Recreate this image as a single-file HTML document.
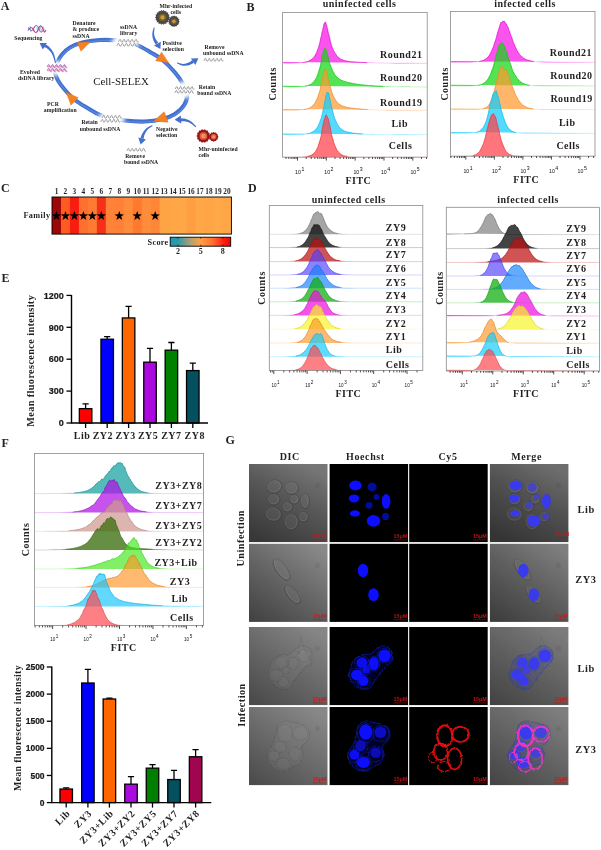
<!DOCTYPE html>
<html><head><meta charset="utf-8"><title>Figure</title>
<style>
html,body{margin:0;padding:0;background:#fff;}
body{width:601px;height:850px;overflow:hidden;font-family:"Liberation Serif",serif;}
svg{display:block;will-change:transform;}
.f-serif{font-family:"Liberation Serif",serif;}
.f-sans{font-family:"Liberation Sans",sans-serif;}
</style></head><body>
<svg width="601" height="850" viewBox="0 0 601 850">
<text class="f-serif" x="0.80" y="10.00" font-size="12" font-weight="bold" text-anchor="start" fill="#231f20">A</text>
<text class="f-serif" x="246.50" y="10.50" font-size="12" font-weight="bold" text-anchor="start" fill="#231f20">B</text>
<text class="f-serif" x="1.00" y="192.00" font-size="12" font-weight="bold" text-anchor="start" fill="#231f20">C</text>
<text class="f-serif" x="248.00" y="191.70" font-size="12" font-weight="bold" text-anchor="start" fill="#231f20">D</text>
<text class="f-serif" x="1.60" y="281.70" font-size="12" font-weight="bold" text-anchor="start" fill="#231f20">E</text>
<text class="f-serif" x="1.60" y="446.70" font-size="12" font-weight="bold" text-anchor="start" fill="#231f20">F</text>
<text class="f-serif" x="225.50" y="443.60" font-size="12" font-weight="bold" text-anchor="start" fill="#231f20">G</text>
<clipPath id="clip282"><rect x="282.6" y="12.5" width="144.59999999999997" height="145.1"/></clipPath>
<g clip-path="url(#clip282)">
<polyline points="282.6,62.1 283.1,62.5 283.6,63.3 290.1,63.2 296.6,63.1 303.1,62.6 307.1,61.7 308.6,61.2 310.6,60.1 312.6,58.5 313.1,57.9 313.6,57.5 314.6,56.3 316.6,52.7 318.1,48.6 318.6,47.4 319.6,43.8 321.1,36.9 321.6,35.3 322.1,32.1 322.6,30.5 324.1,23.4 324.6,23.3 325.1,22.2 325.6,22.1 326.1,24.1 326.6,25.2 328.1,32.3 329.6,37.5 330.1,40.4 331.6,46.0 332.1,47.3 333.1,49.4 333.6,50.8 334.1,51.5 334.6,52.7 335.6,54.0 337.1,56.3 340.1,58.8 341.6,59.5 342.1,59.8 345.6,60.9 350.6,61.7 357.1,62.2 363.6,62.5 370.1,62.7 376.6,62.9 383.1,63.0 389.6,63.1 396.1,63.2 402.6,63.2 409.1,63.2 415.6,63.3 422.1,63.3 427.1,63.3" fill="#fa10e6" fill-opacity="0.72" stroke="#fa10e6" stroke-width="0.5" stroke-opacity="0.45" stroke-linejoin="round"/>
<polyline points="302.6,62.7 307.1,61.7 308.6,61.2 310.6,60.1 312.6,58.5 313.1,57.9 313.6,57.5 314.6,56.3 316.6,52.7 318.1,48.6 318.6,47.4 319.6,43.8 321.1,36.9 321.6,35.3 322.1,32.1 322.6,30.5 324.1,23.4 324.6,23.3 325.1,22.2 325.6,22.1 326.1,24.1 326.6,25.2 328.1,32.3 329.6,37.5 330.1,40.4 331.6,46.0 332.1,47.3 333.1,49.4 333.6,50.8 334.1,51.5 334.6,52.7 335.6,54.0 337.1,56.3 340.1,58.8 341.6,59.5 342.1,59.8 345.6,60.9 350.6,61.7 357.1,62.2 363.6,62.5 367.1,62.6" fill="none" stroke="#e60ed3" stroke-width="0.7" stroke-opacity="0.95" stroke-linejoin="round"/>
<polyline points="282.6,85.8 283.1,86.2 283.6,87.0 290.1,87.0 296.6,86.9 303.1,86.5 307.6,85.7 310.6,84.5 312.6,83.0 314.1,81.4 316.6,77.5 317.1,76.0 317.6,75.1 318.1,73.8 319.1,70.1 319.6,68.8 320.6,65.2 321.1,62.0 321.6,60.1 322.6,54.2 323.1,52.9 323.6,51.3 324.1,50.1 324.6,48.4 325.1,49.1 325.6,48.7 326.1,50.3 326.6,51.5 327.1,54.1 327.6,55.3 328.1,56.8 329.1,61.8 330.1,64.5 330.6,65.5 331.1,67.4 331.6,68.3 332.6,70.9 333.6,72.3 334.6,74.4 335.6,75.6 336.1,76.4 337.1,77.1 338.6,78.6 339.1,79.0 339.6,79.1 340.6,79.9 341.1,80.2 341.6,80.3 342.1,80.6 342.6,80.6 343.1,81.0 344.1,81.4 345.1,81.5 345.6,81.8 346.1,81.9 348.1,82.6 352.1,83.3 353.1,83.7 353.6,83.7 354.1,83.8 354.6,83.8 355.6,84.0 362.1,84.9 368.6,85.5 375.1,86.0 381.6,86.3 388.1,86.5 394.6,86.7 401.1,86.8 407.6,86.8 414.1,86.9 420.6,86.9 427.1,87.0" fill="#14d814" fill-opacity="0.72" stroke="#14d814" stroke-width="0.5" stroke-opacity="0.45" stroke-linejoin="round"/>
<polyline points="304.6,86.3 307.6,85.7 310.6,84.5 312.6,83.0 314.1,81.4 316.6,77.5 317.1,76.0 317.6,75.1 318.1,73.8 319.1,70.1 319.6,68.8 320.6,65.2 321.1,62.0 321.6,60.1 322.6,54.2 323.1,52.9 323.6,51.3 324.1,50.1 324.6,48.4 325.1,49.1 325.6,48.7 326.1,50.3 326.6,51.5 327.1,54.1 327.6,55.3 328.1,56.8 329.1,61.8 330.1,64.5 330.6,65.5 331.1,67.4 331.6,68.3 332.6,70.9 333.6,72.3 334.6,74.4 335.6,75.6 336.1,76.4 337.1,77.1 338.6,78.6 339.1,79.0 339.6,79.1 340.6,79.9 341.1,80.2 341.6,80.3 342.1,80.6 342.6,80.6 343.1,81.0 344.1,81.4 345.1,81.5 345.6,81.8 346.1,81.9 348.1,82.6 352.1,83.3 353.1,83.7 353.6,83.7 354.1,83.8 354.6,83.8 355.6,84.0 362.1,84.9 368.6,85.5 375.1,86.0 381.6,86.3 383.1,86.3" fill="none" stroke="#12c612" stroke-width="0.7" stroke-opacity="0.95" stroke-linejoin="round"/>
<polyline points="282.6,109.1 283.1,109.5 283.6,110.3 290.1,110.3 296.6,110.2 303.1,109.7 307.6,108.8 309.6,108.0 311.6,106.7 313.1,105.5 314.1,104.1 314.6,103.6 315.1,102.8 316.1,100.7 316.6,100.0 317.6,97.7 318.1,96.3 318.6,94.5 319.6,91.7 320.1,89.8 321.1,84.8 321.6,81.8 322.1,80.1 322.6,77.3 323.1,75.1 323.6,72.3 324.6,69.5 325.1,68.8 325.6,69.0 326.1,70.1 326.6,73.0 327.1,74.4 328.1,79.4 328.6,81.0 329.1,83.2 331.1,89.6 331.6,91.8 333.1,95.7 335.6,100.2 336.6,101.4 337.1,102.3 338.6,103.8 339.6,104.5 340.1,104.6 341.1,105.4 342.1,105.9 343.6,106.3 344.1,106.6 344.6,106.7 345.6,107.1 350.1,108.0 356.6,108.7 363.1,109.3 369.6,109.7 376.1,109.9 382.6,110.1 389.1,110.2 395.6,110.2 402.1,110.3 408.6,110.3 415.1,110.3 421.6,110.3 427.1,110.3" fill="#ff9a30" fill-opacity="0.72" stroke="#ff9a30" stroke-width="0.5" stroke-opacity="0.45" stroke-linejoin="round"/>
<polyline points="303.6,109.7 307.6,108.8 309.6,108.0 311.6,106.7 313.1,105.5 314.1,104.1 314.6,103.6 315.1,102.8 316.1,100.7 316.6,100.0 317.6,97.7 318.1,96.3 318.6,94.5 319.6,91.7 320.1,89.8 321.1,84.8 321.6,81.8 322.1,80.1 322.6,77.3 323.1,75.1 323.6,72.3 324.6,69.5 325.1,68.8 325.6,69.0 326.1,70.1 326.6,73.0 327.1,74.4 328.1,79.4 328.6,81.0 329.1,83.2 331.1,89.6 331.6,91.8 333.1,95.7 335.6,100.2 336.6,101.4 337.1,102.3 338.6,103.8 339.6,104.5 340.1,104.6 341.1,105.4 342.1,105.9 343.6,106.3 344.1,106.6 344.6,106.7 345.6,107.1 350.1,108.0 356.6,108.7 363.1,109.3 367.6,109.6" fill="none" stroke="#ea8d2c" stroke-width="0.7" stroke-opacity="0.95" stroke-linejoin="round"/>
<polyline points="282.6,133.5 283.1,133.9 283.6,134.7 290.1,134.7 296.6,134.6 303.1,134.4 309.6,133.4 313.1,131.7 314.6,130.7 316.1,129.1 317.6,126.9 318.6,125.1 319.6,122.7 320.6,119.7 321.1,118.5 321.6,117.0 322.6,112.9 323.1,110.3 323.6,108.3 324.6,102.4 325.1,100.6 325.6,97.4 326.6,93.5 327.1,92.2 328.1,92.8 328.6,92.8 329.1,95.6 330.1,99.9 331.1,105.1 331.6,106.5 332.1,109.1 333.6,115.0 334.6,118.3 336.1,121.4 336.6,122.9 337.1,123.6 337.6,124.7 339.6,127.7 340.1,128.2 340.6,128.5 342.1,129.7 344.6,131.2 345.6,131.5 346.1,131.8 352.6,133.1 359.1,133.8 365.6,134.1 372.1,134.3 378.6,134.5 385.1,134.6 391.6,134.6 398.1,134.7 404.6,134.7 411.1,134.7 417.6,134.7 424.1,134.7 427.1,134.7" fill="#10ccff" fill-opacity="0.72" stroke="#10ccff" stroke-width="0.5" stroke-opacity="0.45" stroke-linejoin="round"/>
<polyline points="306.6,134.0 310.1,133.2 313.1,131.7 314.6,130.7 316.1,129.1 317.6,126.9 318.6,125.1 319.6,122.7 320.6,119.7 321.1,118.5 321.6,117.0 322.6,112.9 323.1,110.3 323.6,108.3 324.6,102.4 325.1,100.6 325.6,97.4 326.6,93.5 327.1,92.2 328.1,92.8 328.6,92.8 329.1,95.6 330.1,99.9 331.1,105.1 331.6,106.5 332.1,109.1 333.6,115.0 334.6,118.3 336.1,121.4 336.6,122.9 337.1,123.6 337.6,124.7 339.6,127.7 340.1,128.2 340.6,128.5 342.1,129.7 344.6,131.2 345.6,131.5 346.1,131.8 352.6,133.1 359.1,133.8 362.6,134.0" fill="none" stroke="#0ebbea" stroke-width="0.7" stroke-opacity="0.95" stroke-linejoin="round"/>
<polyline points="282.6,157.2 289.1,157.2 295.6,157.2 302.1,157.0 307.1,156.5 310.6,155.6 311.6,155.1 314.1,153.2 315.6,151.4 316.1,150.6 317.1,148.5 317.6,147.7 318.1,146.5 319.6,141.5 320.1,140.1 321.1,136.5 322.1,130.1 323.1,124.6 324.6,118.4 325.1,117.3 325.6,115.5 326.1,115.1 326.6,115.4 327.6,117.7 328.1,118.4 329.6,124.4 331.1,132.5 331.6,134.4 332.1,137.1 333.1,140.0 333.6,142.2 334.6,145.1 336.6,149.4 337.1,150.3 338.6,152.3 341.1,154.5 343.6,155.7 350.1,156.9 356.6,157.1 363.1,157.2 369.6,157.2 376.1,157.2 382.6,157.2 389.1,157.2 395.6,157.2 402.1,157.2 408.6,157.2 415.1,157.2 421.6,157.2 427.1,157.2" fill="#ff4048" fill-opacity="0.72" stroke="#ff4048" stroke-width="0.5" stroke-opacity="0.45" stroke-linejoin="round"/>
<polyline points="307.1,156.5 310.6,155.6 311.6,155.1 314.1,153.2 315.6,151.4 316.1,150.6 317.1,148.5 317.6,147.7 318.1,146.5 319.6,141.5 320.1,140.1 321.1,136.5 322.1,130.1 323.1,124.6 324.6,118.4 325.1,117.3 325.6,115.5 326.1,115.1 326.6,115.4 327.6,117.7 328.1,118.4 329.6,124.4 331.1,132.5 331.6,134.4 332.1,137.1 333.1,140.0 333.6,142.2 334.6,145.1 336.6,149.4 337.1,150.3 338.6,152.3 341.1,154.5 343.6,155.7 347.1,156.5" fill="none" stroke="#ea3a42" stroke-width="0.7" stroke-opacity="0.95" stroke-linejoin="round"/>
</g>
<rect x="282.60" y="12.50" width="144.60" height="144.70" fill="none" stroke="#8a8a8a" stroke-width="0.8"/>
<path d="M286.03,157.20v1.8 M288.82,157.20v1.8 M291.11,157.20v1.8 M293.03,157.20v1.8 M294.71,157.20v1.8 M296.18,157.20v1.8 M297.50,157.20v3.4 M306.18,157.20v1.8 M311.25,157.20v1.8 M314.85,157.20v1.8 M317.65,157.20v1.8 M319.93,157.20v1.8 M321.86,157.20v1.8 M323.53,157.20v1.8 M325.01,157.20v1.8 M326.32,157.20v3.4 M335.00,157.20v1.8 M340.08,157.20v1.8 M343.68,157.20v1.8 M346.47,157.20v1.8 M348.76,157.20v1.8 M350.68,157.20v1.8 M352.36,157.20v1.8 M353.83,157.20v1.8 M355.15,157.20v3.4 M363.83,157.20v1.8 M368.90,157.20v1.8 M372.50,157.20v1.8 M375.30,157.20v1.8 M377.58,157.20v1.8 M379.51,157.20v1.8 M381.18,157.20v1.8 M382.66,157.20v1.8 M383.98,157.20v3.4 M392.65,157.20v1.8 M397.73,157.20v1.8 M401.33,157.20v1.8 M404.12,157.20v1.8 M406.41,157.20v1.8 M408.33,157.20v1.8 M410.01,157.20v1.8 M411.48,157.20v1.8 M412.80,157.20v3.4 M421.48,157.20v1.8 M426.55,157.20v1.8" stroke="#111" stroke-width="0.75" fill="none"/>
<text class="f-sans" x="295.10" y="173.60" font-size="5.2" fill="#111">10<tspan dy="-3.0" dx="0.5" font-size="5.2">1</tspan></text>
<text class="f-sans" x="324.30" y="173.60" font-size="5.2" fill="#111">10<tspan dy="-3.0" dx="0.5" font-size="5.2">2</tspan></text>
<text class="f-sans" x="353.40" y="173.60" font-size="5.2" fill="#111">10<tspan dy="-3.0" dx="0.5" font-size="5.2">3</tspan></text>
<text class="f-sans" x="380.90" y="173.60" font-size="5.2" fill="#111">10<tspan dy="-3.0" dx="0.5" font-size="5.2">4</tspan></text>
<text class="f-sans" x="410.40" y="173.60" font-size="5.2" fill="#111">10<tspan dy="-3.0" dx="0.5" font-size="5.2">5</tspan></text>
<text class="f-serif" x="359.60" y="7.00" font-size="10" font-weight="bold" text-anchor="middle" fill="#231f20" letter-spacing="0.5">uninfected cells</text>
<text class="f-serif" x="401.20" y="57.60" font-size="10" font-weight="bold" text-anchor="middle" fill="#231f20" letter-spacing="0.5">Round21</text>
<text class="f-serif" x="401.20" y="80.90" font-size="10" font-weight="bold" text-anchor="middle" fill="#231f20" letter-spacing="0.5">Round20</text>
<text class="f-serif" x="401.20" y="105.70" font-size="10" font-weight="bold" text-anchor="middle" fill="#231f20" letter-spacing="0.5">Round19</text>
<text class="f-serif" x="399.70" y="126.80" font-size="10" font-weight="bold" text-anchor="middle" fill="#231f20" letter-spacing="0.5">Lib</text>
<text class="f-serif" x="400.50" y="149.10" font-size="10" font-weight="bold" text-anchor="middle" fill="#231f20" letter-spacing="0.5">Cells</text>
<text class="f-serif" x="276.30" y="83.80" font-size="10" font-weight="bold" text-anchor="middle" fill="#231f20" letter-spacing="0.5" transform="rotate(-90 276.30 83.80)">Counts</text>
<text class="f-serif" x="358.40" y="183.50" font-size="10" font-weight="bold" text-anchor="middle" fill="#231f20" letter-spacing="0.5">FITC</text>
<clipPath id="clip450"><rect x="450.5" y="11.4" width="144.5" height="145.2"/></clipPath>
<g clip-path="url(#clip450)">
<polyline points="450.5,61.1 451.0,61.5 451.5,62.3 458.0,62.3 464.5,62.3 471.0,62.2 477.5,61.8 480.5,61.3 483.0,60.5 484.0,60.1 486.0,58.9 487.0,57.9 488.0,57.1 489.5,55.1 490.5,53.2 491.0,52.1 491.5,51.4 493.0,47.6 493.5,46.6 494.5,43.2 495.0,42.0 496.0,38.9 498.5,29.7 499.0,28.6 500.5,23.6 501.0,22.3 501.5,22.6 502.0,22.6 503.0,20.9 503.5,21.5 504.0,21.8 504.5,21.2 505.5,23.8 506.0,23.6 506.5,24.0 507.0,26.2 507.5,26.4 508.0,27.1 509.0,30.8 509.5,31.2 510.0,32.8 510.5,34.9 511.5,36.8 513.0,41.7 513.5,43.0 514.5,44.9 515.0,46.4 516.5,49.3 517.0,50.5 518.0,52.2 519.0,53.5 519.5,54.4 521.0,55.9 521.5,56.5 522.5,57.2 524.0,58.5 527.0,60.0 533.0,61.5 539.5,62.1 546.0,62.2 552.5,62.3 559.0,62.3 565.5,62.3 572.0,62.3 578.5,62.3 585.0,62.3 591.5,62.3 595.0,62.3" fill="#fa10e6" fill-opacity="0.72" stroke="#fa10e6" stroke-width="0.5" stroke-opacity="0.45" stroke-linejoin="round"/>
<polyline points="479.0,61.6 483.0,60.5 484.0,60.1 486.0,58.9 487.0,57.9 488.0,57.1 489.5,55.1 490.5,53.2 491.0,52.1 491.5,51.4 493.0,47.6 493.5,46.6 494.5,43.2 495.0,42.0 496.0,38.9 498.5,29.7 499.0,28.6 500.5,23.6 501.0,22.3 501.5,22.6 502.0,22.6 503.0,20.9 503.5,21.5 504.0,21.8 504.5,21.2 505.5,23.8 506.0,23.6 506.5,24.0 507.0,26.2 507.5,26.4 508.0,27.1 509.0,30.8 509.5,31.2 510.0,32.8 510.5,34.9 511.5,36.8 513.0,41.7 513.5,43.0 514.5,44.9 515.0,46.4 516.5,49.3 517.0,50.5 518.0,52.2 519.0,53.5 519.5,54.4 521.0,55.9 521.5,56.5 522.5,57.2 524.0,58.5 527.0,60.0 533.0,61.5 534.0,61.7" fill="none" stroke="#e60ed3" stroke-width="0.7" stroke-opacity="0.95" stroke-linejoin="round"/>
<polyline points="450.5,84.8 451.0,85.2 451.5,86.0 458.0,86.0 464.5,86.0 471.0,85.9 477.5,85.4 481.5,84.5 484.0,83.2 487.0,80.5 488.5,78.3 490.5,74.3 493.0,67.5 493.5,65.9 494.5,61.9 495.0,60.5 495.5,57.7 496.0,56.6 496.5,53.8 497.5,51.2 498.0,49.6 499.0,45.1 499.5,44.9 500.0,43.9 500.5,43.6 501.0,43.6 501.5,43.0 502.0,42.6 502.5,42.8 503.0,44.6 503.5,45.6 504.0,45.3 504.5,47.3 506.0,50.6 506.5,51.4 508.0,56.7 508.5,58.9 509.0,60.0 510.5,64.3 511.0,65.4 512.0,68.9 513.0,71.4 514.5,74.3 515.0,74.8 517.0,78.2 518.0,79.4 518.5,79.8 520.0,81.6 521.0,82.2 522.0,82.9 525.0,84.3 527.5,85.0 534.0,85.7 540.5,85.9 547.0,86.0 553.5,86.0 560.0,86.0 566.5,86.0 573.0,86.0 579.5,86.0 586.0,86.0 592.5,86.0 595.0,86.0" fill="#14d814" fill-opacity="0.72" stroke="#14d814" stroke-width="0.5" stroke-opacity="0.45" stroke-linejoin="round"/>
<polyline points="478.0,85.4 481.5,84.5 484.0,83.2 487.0,80.5 488.5,78.3 490.5,74.3 493.0,67.5 493.5,65.9 494.5,61.9 495.0,60.5 495.5,57.7 496.0,56.6 496.5,53.8 497.5,51.2 498.0,49.6 499.0,45.1 499.5,44.9 500.0,43.9 500.5,43.6 501.0,43.6 501.5,43.0 502.0,42.6 502.5,42.8 503.0,44.6 503.5,45.6 504.0,45.3 504.5,47.3 506.0,50.6 506.5,51.4 508.0,56.7 508.5,58.9 509.0,60.0 510.5,64.3 511.0,65.4 512.0,68.9 513.0,71.4 514.5,74.3 515.0,74.8 517.0,78.2 518.0,79.4 518.5,79.8 520.0,81.6 521.0,82.2 522.0,82.9 525.0,84.3 527.5,85.0 529.5,85.3" fill="none" stroke="#12c612" stroke-width="0.7" stroke-opacity="0.95" stroke-linejoin="round"/>
<polyline points="450.5,108.4 451.0,108.8 451.5,109.6 458.0,109.6 464.5,109.6 471.0,109.6 477.5,109.5 483.0,108.9 485.0,108.3 487.0,107.0 489.0,104.8 490.5,102.4 492.5,97.5 493.5,93.8 494.0,92.4 498.0,75.5 499.0,72.3 499.5,69.8 500.0,68.3 500.5,67.8 501.0,67.2 501.5,66.0 502.0,67.0 502.5,66.9 503.0,67.3 503.5,68.4 504.5,69.7 505.0,69.4 505.5,70.1 506.5,70.0 507.0,70.9 508.0,74.3 509.0,76.0 510.0,80.5 510.5,82.2 511.0,82.8 512.5,87.2 513.0,88.3 513.5,89.9 514.0,90.8 514.5,92.3 515.0,93.5 515.5,94.4 516.0,95.8 516.5,96.5 518.0,99.6 518.5,100.0 519.5,101.7 520.5,103.0 522.5,104.9 524.5,106.2 526.0,107.1 528.0,107.9 534.5,109.1 541.0,109.5 547.5,109.6 554.0,109.6 560.5,109.6 567.0,109.6 573.5,109.6 580.0,109.6 586.5,109.6 593.0,109.6 595.0,109.6" fill="#ff9a30" fill-opacity="0.72" stroke="#ff9a30" stroke-width="0.5" stroke-opacity="0.45" stroke-linejoin="round"/>
<polyline points="482.5,109.0 485.0,108.3 487.0,107.0 489.0,104.8 490.5,102.4 492.5,97.5 493.5,93.8 494.0,92.4 498.0,75.5 499.0,72.3 499.5,69.8 500.0,68.3 500.5,67.8 501.0,67.2 501.5,66.0 502.0,67.0 502.5,66.9 503.0,67.3 503.5,68.4 504.5,69.7 505.0,69.4 505.5,70.1 506.5,70.0 507.0,70.9 508.0,74.3 509.0,76.0 510.0,80.5 510.5,82.2 511.0,82.8 512.5,87.2 513.0,88.3 513.5,89.9 514.0,90.8 514.5,92.3 515.0,93.5 515.5,94.4 516.0,95.8 516.5,96.5 518.0,99.6 518.5,100.0 519.5,101.7 520.5,103.0 522.5,104.9 524.5,106.2 526.0,107.1 528.0,107.9 533.0,109.0" fill="none" stroke="#ea8d2c" stroke-width="0.7" stroke-opacity="0.95" stroke-linejoin="round"/>
<polyline points="450.5,132.1 451.0,132.5 451.5,133.3 458.0,133.3 464.5,133.3 471.0,133.1 475.5,132.6 477.5,132.1 479.5,131.2 481.0,130.0 483.0,127.7 484.0,126.1 485.5,122.9 486.5,120.3 488.0,114.8 490.0,105.5 491.0,101.4 491.5,100.0 492.5,95.8 493.0,94.2 493.5,93.0 494.0,92.4 495.5,91.5 496.0,90.7 496.5,91.0 497.0,93.6 497.5,95.1 498.0,95.9 499.0,100.4 500.0,104.0 501.0,109.2 503.5,117.6 506.0,124.2 507.0,126.1 508.0,127.6 510.0,130.0 512.5,131.5 515.5,132.5 522.0,133.2 528.5,133.3 535.0,133.3 541.5,133.3 548.0,133.3 554.5,133.3 561.0,133.3 567.5,133.3 574.0,133.3 580.5,133.3 587.0,133.3 593.5,133.3 595.0,133.3" fill="#10ccff" fill-opacity="0.72" stroke="#10ccff" stroke-width="0.5" stroke-opacity="0.45" stroke-linejoin="round"/>
<polyline points="475.5,132.6 477.5,132.1 479.5,131.2 481.0,130.0 483.0,127.7 484.0,126.1 485.5,122.9 486.5,120.3 488.0,114.8 490.0,105.5 491.0,101.4 491.5,100.0 492.5,95.8 493.0,94.2 493.5,93.0 494.0,92.4 495.5,91.5 496.0,90.7 496.5,91.0 497.0,93.6 497.5,95.1 498.0,95.9 499.0,100.4 500.0,104.0 501.0,109.2 503.5,117.6 506.0,124.2 507.0,126.1 508.0,127.6 510.0,130.0 512.5,131.5 515.5,132.5 516.5,132.7" fill="none" stroke="#0ebbea" stroke-width="0.7" stroke-opacity="0.95" stroke-linejoin="round"/>
<polyline points="450.5,156.2 457.0,156.2 463.5,156.2 470.0,156.0 473.5,155.5 475.5,154.8 477.0,153.9 478.0,153.2 479.5,151.6 480.5,150.0 482.0,146.9 483.5,143.4 485.0,138.8 486.0,134.3 486.5,132.6 487.0,129.9 487.5,127.9 488.0,126.4 489.0,122.2 489.5,120.8 490.0,118.7 490.5,118.4 491.0,116.4 492.0,114.3 492.5,114.7 493.0,114.3 493.5,113.5 494.0,114.4 494.5,115.8 495.0,116.0 496.0,118.5 496.5,121.4 497.5,125.0 498.0,127.3 499.0,130.6 499.5,133.4 501.0,139.6 501.5,140.9 502.0,142.6 504.5,148.8 506.0,151.4 507.5,153.0 509.5,154.5 512.5,155.6 519.0,156.1 525.5,156.2 532.0,156.2 538.5,156.2 545.0,156.2 551.5,156.2 558.0,156.2 564.5,156.2 571.0,156.2 577.5,156.2 584.0,156.2 590.5,156.2 595.0,156.2" fill="#ff4048" fill-opacity="0.72" stroke="#ff4048" stroke-width="0.5" stroke-opacity="0.45" stroke-linejoin="round"/>
<polyline points="473.0,155.6 475.5,154.8 477.0,153.9 478.0,153.2 479.5,151.6 480.5,150.0 482.0,146.9 483.5,143.4 485.0,138.8 486.0,134.3 486.5,132.6 487.0,129.9 487.5,127.9 488.0,126.4 489.0,122.2 489.5,120.8 490.0,118.7 490.5,118.4 491.0,116.4 492.0,114.3 492.5,114.7 493.0,114.3 493.5,113.5 494.0,114.4 494.5,115.8 495.0,116.0 496.0,118.5 496.5,121.4 497.5,125.0 498.0,127.3 499.0,130.6 499.5,133.4 501.0,139.6 501.5,140.9 502.0,142.6 504.5,148.8 506.0,151.4 507.5,153.0 509.5,154.5 512.5,155.6" fill="none" stroke="#ea3a42" stroke-width="0.7" stroke-opacity="0.95" stroke-linejoin="round"/>
</g>
<rect x="450.50" y="11.40" width="144.50" height="144.80" fill="none" stroke="#8a8a8a" stroke-width="0.8"/>
<path d="M450.87,156.20v1.8 M454.44,156.20v1.8 M457.21,156.20v1.8 M459.47,156.20v1.8 M461.38,156.20v1.8 M463.03,156.20v1.8 M464.49,156.20v1.8 M465.80,156.20v3.4 M474.39,156.20v1.8 M479.42,156.20v1.8 M482.99,156.20v1.8 M485.76,156.20v1.8 M488.02,156.20v1.8 M489.93,156.20v1.8 M491.58,156.20v1.8 M493.04,156.20v1.8 M494.35,156.20v3.4 M502.94,156.20v1.8 M507.97,156.20v1.8 M511.54,156.20v1.8 M514.31,156.20v1.8 M516.57,156.20v1.8 M518.48,156.20v1.8 M520.13,156.20v1.8 M521.59,156.20v1.8 M522.90,156.20v3.4 M531.49,156.20v1.8 M536.52,156.20v1.8 M540.09,156.20v1.8 M542.86,156.20v1.8 M545.12,156.20v1.8 M547.03,156.20v1.8 M548.68,156.20v1.8 M550.14,156.20v1.8 M551.45,156.20v3.4 M560.04,156.20v1.8 M565.07,156.20v1.8 M568.64,156.20v1.8 M571.41,156.20v1.8 M573.67,156.20v1.8 M575.58,156.20v1.8 M577.23,156.20v1.8 M578.69,156.20v1.8 M580.00,156.20v3.4 M588.59,156.20v1.8 M593.62,156.20v1.8" stroke="#111" stroke-width="0.75" fill="none"/>
<text class="f-sans" x="463.40" y="172.60" font-size="5.2" fill="#111">10<tspan dy="-3.0" dx="0.5" font-size="5.2">1</tspan></text>
<text class="f-sans" x="491.90" y="172.60" font-size="5.2" fill="#111">10<tspan dy="-3.0" dx="0.5" font-size="5.2">2</tspan></text>
<text class="f-sans" x="520.40" y="172.60" font-size="5.2" fill="#111">10<tspan dy="-3.0" dx="0.5" font-size="5.2">3</tspan></text>
<text class="f-sans" x="549.00" y="172.60" font-size="5.2" fill="#111">10<tspan dy="-3.0" dx="0.5" font-size="5.2">4</tspan></text>
<text class="f-sans" x="577.60" y="172.60" font-size="5.2" fill="#111">10<tspan dy="-3.0" dx="0.5" font-size="5.2">5</tspan></text>
<text class="f-serif" x="525.00" y="7.00" font-size="10" font-weight="bold" text-anchor="middle" fill="#231f20" letter-spacing="0.5">infected cells</text>
<text class="f-serif" x="570.90" y="56.00" font-size="10" font-weight="bold" text-anchor="middle" fill="#231f20" letter-spacing="0.5">Round21</text>
<text class="f-serif" x="571.40" y="78.50" font-size="10" font-weight="bold" text-anchor="middle" fill="#231f20" letter-spacing="0.5">Round20</text>
<text class="f-serif" x="571.60" y="101.80" font-size="10" font-weight="bold" text-anchor="middle" fill="#231f20" letter-spacing="0.5">Round19</text>
<text class="f-serif" x="567.20" y="125.70" font-size="10" font-weight="bold" text-anchor="middle" fill="#231f20" letter-spacing="0.5">Lib</text>
<text class="f-serif" x="568.20" y="148.70" font-size="10" font-weight="bold" text-anchor="middle" fill="#231f20" letter-spacing="0.5">Cells</text>
<text class="f-serif" x="447.80" y="83.80" font-size="10" font-weight="bold" text-anchor="middle" fill="#231f20" letter-spacing="0.5" transform="rotate(-90 447.80 83.80)">Counts</text>
<text class="f-serif" x="526.25" y="182.50" font-size="10" font-weight="bold" text-anchor="middle" fill="#231f20" letter-spacing="0.5">FITC</text>
<rect x="52.00" y="197.0" width="9.87" height="37.099999999999994" fill="#9a0808"/>
<rect x="60.97" y="197.0" width="9.87" height="37.099999999999994" fill="#ff5a22"/>
<rect x="69.94" y="197.0" width="9.87" height="37.099999999999994" fill="#f91d10"/>
<rect x="78.91" y="197.0" width="9.87" height="37.099999999999994" fill="#ff7030"/>
<rect x="87.88" y="197.0" width="9.87" height="37.099999999999994" fill="#ff7a33"/>
<rect x="96.85" y="197.0" width="9.87" height="37.099999999999994" fill="#f63018"/>
<rect x="105.82" y="197.0" width="9.87" height="37.099999999999994" fill="#ff8238"/>
<rect x="114.79" y="197.0" width="9.87" height="37.099999999999994" fill="#ff8036"/>
<rect x="123.76" y="197.0" width="9.87" height="37.099999999999994" fill="#ff8c3a"/>
<rect x="132.73" y="197.0" width="9.87" height="37.099999999999994" fill="#ff7a30"/>
<rect x="141.70" y="197.0" width="9.87" height="37.099999999999994" fill="#ff8c3a"/>
<rect x="150.67" y="197.0" width="9.87" height="37.099999999999994" fill="#ff8636"/>
<rect x="159.64" y="197.0" width="9.87" height="37.099999999999994" fill="#ffa444"/>
<rect x="168.61" y="197.0" width="9.87" height="37.099999999999994" fill="#ffa646"/>
<rect x="177.58" y="197.0" width="9.87" height="37.099999999999994" fill="#ffa646"/>
<rect x="186.55" y="197.0" width="9.87" height="37.099999999999994" fill="#ff9f42"/>
<rect x="195.52" y="197.0" width="9.87" height="37.099999999999994" fill="#ffa646"/>
<rect x="204.49" y="197.0" width="9.87" height="37.099999999999994" fill="#ffa545"/>
<rect x="213.46" y="197.0" width="9.87" height="37.099999999999994" fill="#ffa847"/>
<rect x="222.43" y="197.0" width="8.97" height="37.099999999999994" fill="#ffa646"/>
<rect x="52.0" y="197.0" width="179.4" height="37.099999999999994" fill="none" stroke="#000" stroke-width="0.9"/>
<text class="f-serif" x="56.48" y="194.30" font-size="7.3" font-weight="bold" text-anchor="middle" fill="#231f20">1</text>
<text class="f-serif" x="65.45" y="194.30" font-size="7.3" font-weight="bold" text-anchor="middle" fill="#231f20">2</text>
<text class="f-serif" x="74.42" y="194.30" font-size="7.3" font-weight="bold" text-anchor="middle" fill="#231f20">3</text>
<text class="f-serif" x="83.40" y="194.30" font-size="7.3" font-weight="bold" text-anchor="middle" fill="#231f20">4</text>
<text class="f-serif" x="92.37" y="194.30" font-size="7.3" font-weight="bold" text-anchor="middle" fill="#231f20">5</text>
<text class="f-serif" x="101.34" y="194.30" font-size="7.3" font-weight="bold" text-anchor="middle" fill="#231f20">6</text>
<text class="f-serif" x="110.31" y="194.30" font-size="7.3" font-weight="bold" text-anchor="middle" fill="#231f20">7</text>
<text class="f-serif" x="119.28" y="194.30" font-size="7.3" font-weight="bold" text-anchor="middle" fill="#231f20">8</text>
<text class="f-serif" x="128.25" y="194.30" font-size="7.3" font-weight="bold" text-anchor="middle" fill="#231f20">9</text>
<text class="f-serif" x="137.22" y="194.30" font-size="7.3" font-weight="bold" text-anchor="middle" fill="#231f20">10</text>
<text class="f-serif" x="146.19" y="194.30" font-size="7.3" font-weight="bold" text-anchor="middle" fill="#231f20">11</text>
<text class="f-serif" x="155.16" y="194.30" font-size="7.3" font-weight="bold" text-anchor="middle" fill="#231f20">12</text>
<text class="f-serif" x="164.12" y="194.30" font-size="7.3" font-weight="bold" text-anchor="middle" fill="#231f20">13</text>
<text class="f-serif" x="173.10" y="194.30" font-size="7.3" font-weight="bold" text-anchor="middle" fill="#231f20">14</text>
<text class="f-serif" x="182.06" y="194.30" font-size="7.3" font-weight="bold" text-anchor="middle" fill="#231f20">15</text>
<text class="f-serif" x="191.03" y="194.30" font-size="7.3" font-weight="bold" text-anchor="middle" fill="#231f20">16</text>
<text class="f-serif" x="200.01" y="194.30" font-size="7.3" font-weight="bold" text-anchor="middle" fill="#231f20">17</text>
<text class="f-serif" x="208.98" y="194.30" font-size="7.3" font-weight="bold" text-anchor="middle" fill="#231f20">18</text>
<text class="f-serif" x="217.95" y="194.30" font-size="7.3" font-weight="bold" text-anchor="middle" fill="#231f20">19</text>
<text class="f-serif" x="226.92" y="194.30" font-size="7.3" font-weight="bold" text-anchor="middle" fill="#231f20">20</text>
<polygon points="56.5,210.9 57.7,214.3 61.2,214.4 58.4,216.5 59.4,219.9 56.5,217.9 53.5,219.9 54.6,216.5 51.7,214.4 55.3,214.3" fill="#000"/>
<polygon points="65.5,210.9 66.6,214.3 70.2,214.4 67.4,216.5 68.4,219.9 65.5,217.9 62.5,219.9 63.6,216.5 60.7,214.4 64.3,214.3" fill="#000"/>
<polygon points="74.4,210.9 75.6,214.3 79.2,214.4 76.3,216.5 77.4,219.9 74.4,217.9 71.5,219.9 72.5,216.5 69.7,214.4 73.2,214.3" fill="#000"/>
<polygon points="83.4,210.9 84.6,214.3 88.2,214.4 85.3,216.5 86.3,219.9 83.4,217.9 80.5,219.9 81.5,216.5 78.6,214.4 82.2,214.3" fill="#000"/>
<polygon points="92.4,210.9 93.5,214.3 97.1,214.4 94.3,216.5 95.3,219.9 92.4,217.9 89.4,219.9 90.5,216.5 87.6,214.4 91.2,214.3" fill="#000"/>
<polygon points="101.3,210.9 102.5,214.3 106.1,214.4 103.2,216.5 104.3,219.9 101.3,217.9 98.4,219.9 99.4,216.5 96.6,214.4 100.2,214.3" fill="#000"/>
<polygon points="119.3,210.9 120.5,214.3 124.0,214.4 121.2,216.5 122.2,219.9 119.3,217.9 116.3,219.9 117.4,216.5 114.5,214.4 118.1,214.3" fill="#000"/>
<polygon points="137.2,210.9 138.4,214.3 142.0,214.4 139.1,216.5 140.2,219.9 137.2,217.9 134.3,219.9 135.3,216.5 132.5,214.4 136.0,214.3" fill="#000"/>
<polygon points="155.2,210.9 156.3,214.3 159.9,214.4 157.1,216.5 158.1,219.9 155.2,217.9 152.2,219.9 153.3,216.5 150.4,214.4 154.0,214.3" fill="#000"/>
<text class="f-serif" x="50.40" y="217.60" font-size="8.2" font-weight="bold" text-anchor="end" fill="#231f20" letter-spacing="0.4">Family</text>
<defs><linearGradient id="cbar" x1="0" x2="1" y1="0" y2="0"><stop offset="0" stop-color="#1a9bb5"/><stop offset="0.12" stop-color="#2a9aa8"/><stop offset="0.35" stop-color="#b9a070"/><stop offset="0.5" stop-color="#ffa040"/><stop offset="0.7" stop-color="#ff7030"/><stop offset="0.88" stop-color="#ff2010"/><stop offset="1" stop-color="#f00000"/></linearGradient></defs>
<rect x="170.2" y="237.2" width="60.5" height="9" fill="url(#cbar)" stroke="#000" stroke-width="0.9"/>
<path d="M178,237.2v1.5M178,246.2v-1.5" stroke="#000" stroke-width="0.7"/>
<text class="f-serif" x="178.00" y="254.00" font-size="8.0" font-weight="bold" text-anchor="middle" fill="#231f20">2</text>
<path d="M200.8,237.2v1.5M200.8,246.2v-1.5" stroke="#000" stroke-width="0.7"/>
<text class="f-serif" x="200.80" y="254.00" font-size="8.0" font-weight="bold" text-anchor="middle" fill="#231f20">5</text>
<path d="M222.8,237.2v1.5M222.8,246.2v-1.5" stroke="#000" stroke-width="0.7"/>
<text class="f-serif" x="222.80" y="254.00" font-size="8.0" font-weight="bold" text-anchor="middle" fill="#231f20">8</text>
<text class="f-serif" x="168.50" y="244.70" font-size="8.2" font-weight="bold" text-anchor="end" fill="#231f20" letter-spacing="0.3">Score</text>
<clipPath id="clipD269"><rect x="269.3" y="205.4" width="153.5" height="165.60000000000002"/></clipPath>
<g clip-path="url(#clipD269)">
<polyline points="269.3,234.3 275.8,234.3 282.3,234.3 288.8,234.3 295.3,234.1 300.3,233.4 303.3,232.2 305.3,230.5 306.3,229.5 307.8,227.5 308.8,225.7 309.8,223.4 310.3,222.6 311.3,219.8 311.8,218.9 313.3,215.0 313.8,214.1 314.3,214.2 314.8,213.1 315.3,212.6 315.8,212.7 316.8,212.0 317.3,211.9 317.8,211.6 318.3,211.8 319.3,213.4 319.8,213.4 320.3,213.1 320.8,214.0 321.3,213.9 321.8,213.9 322.3,215.5 322.8,216.5 324.8,221.8 326.3,225.1 327.3,226.9 327.8,227.3 328.8,228.7 330.3,230.0 330.8,230.6 332.8,232.0 335.8,233.2 342.3,234.1 348.8,234.3 355.3,234.3 361.8,234.3 368.3,234.3 374.8,234.3 381.3,234.3 387.8,234.3 394.3,234.3 400.8,234.3 407.3,234.3 413.8,234.3 420.3,234.3 422.8,234.3" fill="#808080" fill-opacity="0.7" stroke="#808080" stroke-width="0.5" stroke-opacity="0.45" stroke-linejoin="round"/>
<polyline points="299.3,233.7 301.3,233.1 303.3,232.2 305.3,230.5 306.3,229.5 307.8,227.5 308.8,225.7 309.8,223.4 310.3,222.6 311.3,219.8 311.8,218.9 313.3,215.0 313.8,214.1 314.3,214.2 314.8,213.1 315.3,212.6 315.8,212.7 316.8,212.0 317.3,211.9 317.8,211.6 318.3,211.8 319.3,213.4 319.8,213.4 320.3,213.1 320.8,214.0 321.3,213.9 321.8,213.9 322.3,215.5 322.8,216.5 324.8,221.8 326.3,225.1 327.3,226.9 327.8,227.3 328.8,228.7 330.3,230.0 330.8,230.6 332.8,232.0 335.8,233.2 338.3,233.7" fill="none" stroke="#666666" stroke-width="0.55" stroke-opacity="0.85" stroke-linejoin="round"/>
<polyline points="269.3,247.6 275.8,247.6 282.3,247.6 288.8,247.6 295.3,247.2 299.3,246.5 301.3,245.5 302.8,244.5 304.8,242.6 305.3,242.0 306.3,240.2 307.8,237.9 308.8,236.0 309.8,233.0 310.8,231.4 311.3,229.7 312.3,227.3 312.8,226.9 313.3,226.3 313.8,224.7 314.3,225.1 314.8,224.4 315.3,224.8 316.3,225.1 316.8,224.6 317.3,224.4 317.8,225.0 318.3,225.0 319.3,225.4 319.8,226.2 320.3,227.7 320.8,228.5 321.3,228.9 321.8,230.3 322.3,231.2 323.3,233.9 323.8,234.6 324.3,235.7 324.8,236.2 325.3,237.2 326.3,238.7 327.8,241.3 328.3,241.9 328.8,242.3 329.3,243.0 330.3,243.8 332.3,245.2 335.8,246.6 342.3,247.4 348.8,247.6 355.3,247.6 361.8,247.6 368.3,247.6 374.8,247.6 381.3,247.6 387.8,247.6 394.3,247.6 400.8,247.6 407.3,247.6 413.8,247.6 420.3,247.6 422.8,247.6" fill="#141414" fill-opacity="0.8" stroke="#141414" stroke-width="0.5" stroke-opacity="0.45" stroke-linejoin="round"/>
<polyline points="297.3,246.9 299.3,246.5 301.3,245.5 302.8,244.5 304.8,242.6 305.3,242.0 306.3,240.2 307.8,237.9 308.8,236.0 309.8,233.0 310.8,231.4 311.3,229.7 312.3,227.3 312.8,226.9 313.3,226.3 313.8,224.7 314.3,225.1 314.8,224.4 315.3,224.8 316.3,225.1 316.8,224.6 317.3,224.4 317.8,225.0 318.3,225.0 319.3,225.4 319.8,226.2 320.3,227.7 320.8,228.5 321.3,228.9 321.8,230.3 322.3,231.2 323.3,233.9 323.8,234.6 324.3,235.7 324.8,236.2 325.3,237.2 326.3,238.7 327.8,241.3 328.3,241.9 328.8,242.3 329.3,243.0 330.3,243.8 332.3,245.2 335.8,246.6 337.8,247.0" fill="none" stroke="#101010" stroke-width="0.55" stroke-opacity="0.85" stroke-linejoin="round"/>
<polyline points="269.3,261.6 275.8,261.6 282.3,261.6 288.8,261.5 295.3,260.9 297.8,260.4 299.8,259.6 301.8,258.5 302.3,258.1 304.3,256.1 304.8,255.3 305.3,254.9 305.8,254.3 306.8,252.4 307.3,251.9 308.8,248.7 309.3,248.0 309.8,247.0 310.3,245.6 310.8,244.7 311.3,244.0 312.3,241.9 312.8,241.4 314.3,238.7 314.8,239.1 315.3,237.9 315.8,237.8 316.3,238.4 317.3,239.0 317.8,238.7 318.3,239.3 318.8,239.3 319.8,240.4 320.8,240.6 321.3,241.6 321.8,241.9 322.3,243.5 322.8,244.0 323.3,245.5 323.8,246.6 324.3,247.1 324.8,248.0 325.8,249.4 326.3,250.8 327.3,252.1 327.8,253.2 328.3,253.6 328.8,254.3 329.3,255.1 330.8,256.7 333.3,258.7 334.8,259.5 336.3,260.1 342.8,261.3 349.3,261.5 355.8,261.6 362.3,261.6 368.8,261.6 375.3,261.6 381.8,261.6 388.3,261.6 394.8,261.6 401.3,261.6 407.8,261.6 414.3,261.6 420.8,261.6 422.8,261.6" fill="#c01010" fill-opacity="0.72" stroke="#c01010" stroke-width="0.5" stroke-opacity="0.45" stroke-linejoin="round"/>
<polyline points="295.3,260.9 297.8,260.4 299.8,259.6 301.8,258.5 302.3,258.1 304.3,256.1 304.8,255.3 305.3,254.9 305.8,254.3 306.8,252.4 307.3,251.9 308.8,248.7 309.3,248.0 309.8,247.0 310.3,245.6 310.8,244.7 311.3,244.0 312.3,241.9 312.8,241.4 314.3,238.7 314.8,239.1 315.3,237.9 315.8,237.8 316.3,238.4 317.3,239.0 317.8,238.7 318.3,239.3 318.8,239.3 319.8,240.4 320.8,240.6 321.3,241.6 321.8,241.9 322.3,243.5 322.8,244.0 323.3,245.5 323.8,246.6 324.3,247.1 324.8,248.0 325.8,249.4 326.3,250.8 327.3,252.1 327.8,253.2 328.3,253.6 328.8,254.3 329.3,255.1 330.8,256.7 333.3,258.7 334.8,259.5 336.3,260.1 339.8,260.9" fill="none" stroke="#990c0c" stroke-width="0.55" stroke-opacity="0.85" stroke-linejoin="round"/>
<polyline points="269.3,275.0 275.8,275.0 282.3,275.0 288.8,274.9 295.3,274.6 298.8,274.0 300.8,273.2 302.8,272.1 303.3,271.8 305.3,269.6 306.3,268.0 306.8,267.5 308.8,264.0 309.3,262.4 312.3,256.0 312.8,254.3 313.3,254.0 313.8,252.3 314.3,252.4 315.3,250.8 315.8,250.6 316.3,250.2 316.8,250.5 317.3,249.8 318.3,249.8 319.3,251.3 319.8,252.3 320.3,252.8 320.8,252.8 321.3,253.5 322.8,257.2 323.3,257.5 323.8,258.3 324.3,259.7 325.8,262.1 326.3,263.1 326.8,263.9 327.8,266.1 328.3,266.7 329.8,268.9 330.8,269.7 331.3,270.4 334.3,272.5 337.3,273.7 343.8,274.7 350.3,274.9 356.8,275.0 363.3,275.0 369.8,275.0 376.3,275.0 382.8,275.0 389.3,275.0 395.8,275.0 402.3,275.0 408.8,275.0 415.3,275.0 421.8,275.0 422.8,275.0" fill="#5040ff" fill-opacity="0.66" stroke="#5040ff" stroke-width="0.5" stroke-opacity="0.45" stroke-linejoin="round"/>
<polyline points="297.3,274.3 300.3,273.5 302.8,272.1 303.3,271.8 305.3,269.6 306.3,268.0 306.8,267.5 308.8,264.0 309.3,262.4 312.3,256.0 312.8,254.3 313.3,254.0 313.8,252.3 314.3,252.4 315.3,250.8 315.8,250.6 316.3,250.2 316.8,250.5 317.3,249.8 318.3,249.8 319.3,251.3 319.8,252.3 320.3,252.8 320.8,252.8 321.3,253.5 322.8,257.2 323.3,257.5 323.8,258.3 324.3,259.7 325.8,262.1 326.3,263.1 326.8,263.9 327.8,266.1 328.3,266.7 329.8,268.9 330.8,269.7 331.3,270.4 334.3,272.5 337.3,273.7 340.3,274.4" fill="none" stroke="#4033cc" stroke-width="0.55" stroke-opacity="0.85" stroke-linejoin="round"/>
<polyline points="269.3,288.2 275.8,288.2 282.3,288.2 288.8,288.1 295.3,287.6 298.3,287.0 300.8,286.0 302.3,285.1 303.8,283.8 305.3,282.1 306.3,280.6 306.8,279.6 307.3,278.9 307.8,278.0 308.3,277.3 308.8,276.3 309.3,274.7 310.3,272.8 311.8,270.6 312.3,269.5 312.8,268.7 313.8,267.6 314.3,266.6 315.3,266.6 315.8,265.4 316.8,264.8 317.3,265.4 318.3,265.4 318.8,266.1 319.3,266.2 319.8,266.6 320.8,268.8 321.3,269.7 321.8,270.2 322.3,271.2 322.8,271.5 323.3,272.2 323.8,273.2 324.8,274.7 326.8,278.8 327.8,279.8 328.3,280.7 331.3,283.8 333.3,285.2 334.3,285.7 336.8,286.8 343.3,287.9 349.8,288.1 356.3,288.2 362.8,288.2 369.3,288.2 375.8,288.2 382.3,288.2 388.8,288.2 395.3,288.2 401.8,288.2 408.3,288.2 414.8,288.2 421.3,288.2 422.8,288.2" fill="#1080ff" fill-opacity="0.66" stroke="#1080ff" stroke-width="0.5" stroke-opacity="0.45" stroke-linejoin="round"/>
<polyline points="295.8,287.6 299.8,286.5 302.3,285.1 303.8,283.8 305.3,282.1 306.3,280.6 306.8,279.6 307.3,278.9 307.8,278.0 308.3,277.3 308.8,276.3 309.3,274.7 310.3,272.8 311.8,270.6 312.3,269.5 312.8,268.7 313.8,267.6 314.3,266.6 315.3,266.6 315.8,265.4 316.8,264.8 317.3,265.4 318.3,265.4 318.8,266.1 319.3,266.2 319.8,266.6 320.8,268.8 321.3,269.7 321.8,270.2 322.3,271.2 322.8,271.5 323.3,272.2 323.8,273.2 324.8,274.7 326.8,278.8 327.8,279.8 328.3,280.7 331.3,283.8 333.3,285.2 334.3,285.7 336.8,286.8 340.3,287.5" fill="none" stroke="#0c66cc" stroke-width="0.55" stroke-opacity="0.85" stroke-linejoin="round"/>
<polyline points="269.3,301.8 275.8,301.8 282.3,301.8 288.8,301.7 295.3,301.2 298.8,300.3 301.8,298.7 302.8,297.9 304.8,295.8 306.8,292.4 308.3,289.4 309.8,287.2 310.8,284.0 311.3,283.5 311.8,282.1 312.3,281.7 312.8,280.4 313.3,279.7 313.8,278.5 314.8,279.0 315.3,278.7 315.8,278.8 316.3,277.9 316.8,277.5 317.3,277.3 317.8,278.1 318.3,278.2 319.3,279.9 319.8,280.6 320.8,281.3 321.3,282.0 321.8,283.0 322.3,283.7 323.3,286.5 323.8,287.2 325.3,290.6 325.8,291.1 326.3,291.9 326.8,293.0 327.3,293.5 327.8,294.5 329.8,297.0 332.3,298.9 336.3,300.7 342.8,301.6 349.3,301.8 355.8,301.8 362.3,301.8 368.8,301.8 375.3,301.8 381.8,301.8 388.3,301.8 394.8,301.8 401.3,301.8 407.8,301.8 414.3,301.8 420.8,301.8 422.8,301.8" fill="#10b010" fill-opacity="0.74" stroke="#10b010" stroke-width="0.5" stroke-opacity="0.45" stroke-linejoin="round"/>
<polyline points="295.8,301.1 299.3,300.1 301.8,298.7 302.8,297.9 304.8,295.8 306.8,292.4 308.3,289.4 309.8,287.2 310.8,284.0 311.3,283.5 311.8,282.1 312.3,281.7 312.8,280.4 313.3,279.7 313.8,278.5 314.8,279.0 315.3,278.7 315.8,278.8 316.3,277.9 316.8,277.5 317.3,277.3 317.8,278.1 318.3,278.2 319.3,279.9 319.8,280.6 320.8,281.3 321.3,282.0 321.8,283.0 322.3,283.7 323.3,286.5 323.8,287.2 325.3,290.6 325.8,291.1 326.3,291.9 326.8,293.0 327.3,293.5 327.8,294.5 329.8,297.0 332.3,298.9 336.3,300.7 338.8,301.2" fill="none" stroke="#0c8c0c" stroke-width="0.55" stroke-opacity="0.85" stroke-linejoin="round"/>
<polyline points="269.3,315.4 275.8,315.4 282.3,315.4 288.8,315.3 295.3,314.6 298.3,313.7 301.8,311.6 302.3,311.0 303.3,310.2 304.8,308.3 307.3,303.8 308.8,300.5 309.3,299.1 309.8,298.3 310.3,297.1 310.8,296.5 311.8,293.9 312.3,293.9 312.8,292.5 313.3,291.8 313.8,291.7 314.3,290.9 314.8,290.4 315.3,290.5 315.8,291.1 316.3,291.0 316.8,291.4 317.3,291.6 317.8,291.3 318.3,291.5 319.3,293.4 319.8,294.5 320.8,295.4 321.3,296.8 322.3,298.4 323.3,299.3 323.8,300.4 324.3,300.3 325.8,301.7 326.3,303.0 327.3,304.6 328.3,307.0 328.8,307.6 330.3,310.1 332.3,312.3 333.3,313.1 336.3,314.4 342.8,315.2 349.3,315.4 355.8,315.4 362.3,315.4 368.8,315.4 375.3,315.4 381.8,315.4 388.3,315.4 394.8,315.4 401.3,315.4 407.8,315.4 414.3,315.4 420.8,315.4 422.8,315.4" fill="#f010e0" fill-opacity="0.72" stroke="#f010e0" stroke-width="0.5" stroke-opacity="0.45" stroke-linejoin="round"/>
<polyline points="294.3,314.8 297.8,313.9 299.3,313.2 301.8,311.6 302.3,311.0 303.3,310.2 304.8,308.3 307.3,303.8 308.8,300.5 309.3,299.1 309.8,298.3 310.3,297.1 310.8,296.5 311.8,293.9 312.3,293.9 312.8,292.5 313.3,291.8 313.8,291.7 314.3,290.9 314.8,290.4 315.3,290.5 315.8,291.1 316.3,291.0 316.8,291.4 317.3,291.6 317.8,291.3 318.3,291.5 319.3,293.4 319.8,294.5 320.8,295.4 321.3,296.8 322.3,298.4 323.3,299.3 323.8,300.4 324.3,300.3 325.8,301.7 326.3,303.0 327.3,304.6 328.3,307.0 328.8,307.6 330.3,310.1 332.3,312.3 333.3,313.1 336.3,314.4 338.3,314.8" fill="none" stroke="#c00cb3" stroke-width="0.55" stroke-opacity="0.85" stroke-linejoin="round"/>
<polyline points="269.3,329.3 275.8,329.3 282.3,329.3 288.8,329.2 295.3,328.6 298.3,327.9 300.3,327.0 301.3,326.4 301.8,326.0 302.3,325.7 303.8,324.2 304.8,322.9 305.3,322.5 306.3,321.0 307.3,319.7 309.3,315.0 309.8,314.2 310.3,313.1 310.8,312.5 311.3,311.1 311.8,310.3 313.3,307.0 314.3,306.7 314.8,306.3 315.3,305.6 315.8,305.1 316.3,305.1 316.8,304.5 317.8,305.2 318.8,306.6 319.3,305.9 319.8,306.7 320.3,306.8 321.3,307.8 321.8,308.7 322.3,310.5 322.8,311.7 323.3,312.6 323.8,313.7 324.3,314.4 325.3,316.1 326.3,318.4 327.3,320.0 327.8,320.5 329.8,323.1 330.8,324.5 331.8,325.4 334.8,327.2 336.8,328.0 343.3,329.0 349.8,329.2 356.3,329.3 362.8,329.3 369.3,329.3 375.8,329.3 382.3,329.3 388.8,329.3 395.3,329.3 401.8,329.3 408.3,329.3 414.8,329.3 421.3,329.3 422.8,329.3" fill="#f8f420" fill-opacity="0.68" stroke="#f8f420" stroke-width="0.5" stroke-opacity="0.45" stroke-linejoin="round"/>
<polyline points="295.3,328.6 298.3,327.9 300.3,327.0 301.3,326.4 301.8,326.0 302.3,325.7 303.8,324.2 304.8,322.9 305.3,322.5 306.3,321.0 307.3,319.7 309.3,315.0 309.8,314.2 310.3,313.1 310.8,312.5 311.3,311.1 311.8,310.3 313.3,307.0 314.3,306.7 314.8,306.3 315.3,305.6 315.8,305.1 316.3,305.1 316.8,304.5 317.8,305.2 318.8,306.6 319.3,305.9 319.8,306.7 320.3,306.8 321.3,307.8 321.8,308.7 322.3,310.5 322.8,311.7 323.3,312.6 323.8,313.7 324.3,314.4 325.3,316.1 326.3,318.4 327.3,320.0 327.8,320.5 329.8,323.1 330.8,324.5 331.8,325.4 334.8,327.2 336.8,328.0 339.8,328.6" fill="none" stroke="#c6c319" stroke-width="0.55" stroke-opacity="0.85" stroke-linejoin="round"/>
<polyline points="269.3,343.0 275.8,343.0 282.3,343.0 288.8,343.0 295.3,342.6 298.3,342.1 300.8,341.1 303.3,339.1 305.3,336.6 307.3,332.7 308.3,330.9 308.8,329.5 309.3,328.6 309.8,326.8 310.3,325.7 310.8,325.0 311.3,323.9 311.8,323.1 312.3,321.2 313.3,319.6 313.8,319.6 314.3,318.9 314.8,318.6 315.3,318.5 315.8,318.6 316.3,319.0 316.8,318.6 317.3,319.0 317.8,318.9 318.3,319.5 318.8,320.9 319.3,321.5 319.8,321.4 320.3,322.9 320.8,323.4 321.3,324.6 321.8,325.2 322.8,327.3 323.3,328.0 323.8,329.1 325.3,330.9 325.8,332.1 326.3,332.6 327.3,334.1 329.3,336.3 329.8,337.1 330.3,337.5 330.8,338.2 333.3,340.0 337.3,341.6 343.8,342.6 350.3,342.9 356.8,343.0 363.3,343.0 369.8,343.0 376.3,343.0 382.8,343.0 389.3,343.0 395.8,343.0 402.3,343.0 408.8,343.0 415.3,343.0 421.8,343.0 422.8,343.0" fill="#ff9626" fill-opacity="0.66" stroke="#ff9626" stroke-width="0.5" stroke-opacity="0.45" stroke-linejoin="round"/>
<polyline points="297.3,342.3 299.8,341.5 301.3,340.8 303.3,339.1 305.3,336.6 307.3,332.7 308.3,330.9 308.8,329.5 309.3,328.6 309.8,326.8 310.3,325.7 310.8,325.0 311.3,323.9 311.8,323.1 312.3,321.2 313.3,319.6 313.8,319.6 314.3,318.9 314.8,318.6 315.3,318.5 315.8,318.6 316.3,319.0 316.8,318.6 317.3,319.0 317.8,318.9 318.3,319.5 318.8,320.9 319.3,321.5 319.8,321.4 320.3,322.9 320.8,323.4 321.3,324.6 321.8,325.2 322.8,327.3 323.3,328.0 323.8,329.1 325.3,330.9 325.8,332.1 326.3,332.6 327.3,334.1 329.3,336.3 329.8,337.1 330.3,337.5 330.8,338.2 333.3,340.0 337.3,341.6 340.8,342.3" fill="none" stroke="#cc781e" stroke-width="0.55" stroke-opacity="0.85" stroke-linejoin="round"/>
<polyline points="269.3,356.7 275.8,356.7 282.3,356.7 288.8,356.6 295.3,356.1 298.8,355.3 299.8,355.0 301.8,353.8 304.8,351.3 305.8,349.9 306.3,349.4 307.3,347.8 307.8,346.8 308.3,346.1 309.3,343.9 309.8,343.2 310.3,341.7 310.8,341.1 311.3,340.1 311.8,339.4 312.3,338.1 312.8,337.8 313.8,335.4 314.3,335.2 316.3,333.5 316.8,333.8 317.3,333.3 317.8,334.0 318.3,334.5 319.3,334.6 319.8,333.9 320.3,333.5 320.8,333.8 321.3,333.9 321.8,334.4 322.3,336.3 323.8,340.2 324.8,343.7 325.3,344.7 325.8,346.3 327.3,349.7 329.3,352.8 330.3,353.8 332.3,355.2 335.3,356.1 341.8,356.6 348.3,356.7 354.8,356.7 361.3,356.7 367.8,356.7 374.3,356.7 380.8,356.7 387.3,356.7 393.8,356.7 400.3,356.7 406.8,356.7 413.3,356.7 419.8,356.7 422.8,356.7" fill="#10ccff" fill-opacity="0.68" stroke="#10ccff" stroke-width="0.5" stroke-opacity="0.45" stroke-linejoin="round"/>
<polyline points="295.8,356.1 298.8,355.3 299.8,355.0 301.8,353.8 304.8,351.3 305.8,349.9 306.3,349.4 307.3,347.8 307.8,346.8 308.3,346.1 309.3,343.9 309.8,343.2 310.3,341.7 310.8,341.1 311.3,340.1 311.8,339.4 312.3,338.1 312.8,337.8 313.8,335.4 314.3,335.2 316.3,333.5 316.8,333.8 317.3,333.3 317.8,334.0 318.3,334.5 319.3,334.6 319.8,333.9 320.3,333.5 320.8,333.8 321.3,333.9 321.8,334.4 322.3,336.3 323.8,340.2 324.8,343.7 325.3,344.7 325.8,346.3 327.3,349.7 329.3,352.8 330.3,353.8 332.3,355.2 334.8,356.0" fill="none" stroke="#0ca3cc" stroke-width="0.55" stroke-opacity="0.85" stroke-linejoin="round"/>
<polyline points="269.3,370.6 275.8,370.6 282.3,370.6 288.8,370.5 294.8,370.1 296.8,369.6 299.3,368.7 301.3,367.4 302.8,365.7 303.8,364.4 305.3,362.0 305.8,360.9 306.8,359.2 307.3,357.5 308.3,355.7 308.8,354.1 309.8,351.9 310.8,348.6 311.3,348.7 311.8,347.7 312.3,347.2 313.3,345.5 313.8,346.1 314.8,345.1 315.3,345.1 316.3,346.9 317.3,348.0 317.8,347.8 318.3,349.2 318.8,349.6 319.8,352.1 320.3,353.0 320.8,353.5 321.8,356.2 322.3,357.2 322.8,357.6 323.3,358.4 324.3,360.7 325.3,361.9 325.8,362.9 327.3,364.7 327.8,365.4 328.3,365.8 328.8,366.4 329.8,367.1 330.3,367.5 331.8,368.4 336.3,369.8 342.8,370.4 349.3,370.6 355.8,370.6 362.3,370.6 368.8,370.6 375.3,370.6 381.8,370.6 388.3,370.6 394.8,370.6 401.3,370.6 407.8,370.6 414.3,370.6 420.8,370.6 422.8,370.6" fill="#ff4a50" fill-opacity="0.7" stroke="#ff4a50" stroke-width="0.5" stroke-opacity="0.45" stroke-linejoin="round"/>
<polyline points="295.3,370.0 298.3,369.2 299.3,368.7 301.3,367.4 302.8,365.7 303.8,364.4 305.3,362.0 305.8,360.9 306.8,359.2 307.3,357.5 308.3,355.7 308.8,354.1 309.8,351.9 310.8,348.6 311.3,348.7 311.8,347.7 312.3,347.2 313.3,345.5 313.8,346.1 314.8,345.1 315.3,345.1 316.3,346.9 317.3,348.0 317.8,347.8 318.3,349.2 318.8,349.6 319.8,352.1 320.3,353.0 320.8,353.5 321.8,356.2 322.3,357.2 322.8,357.6 323.3,358.4 324.3,360.7 325.3,361.9 325.8,362.9 327.3,364.7 327.8,365.4 328.3,365.8 328.8,366.4 329.8,367.1 330.3,367.5 331.8,368.4 336.3,369.8 336.8,369.9" fill="none" stroke="#cc3b40" stroke-width="0.55" stroke-opacity="0.85" stroke-linejoin="round"/>
</g>
<rect x="269.30" y="205.40" width="153.50" height="165.20" fill="none" stroke="#8a8a8a" stroke-width="0.8"/>
<path d="M270.57,370.60v1.8 M272.28,370.60v1.8 M273.80,370.60v3.4 M283.82,370.60v1.8 M289.69,370.60v1.8 M293.85,370.60v1.8 M297.08,370.60v1.8 M299.71,370.60v1.8 M301.94,370.60v1.8 M303.87,370.60v1.8 M305.58,370.60v1.8 M307.10,370.60v3.4 M317.12,370.60v1.8 M322.99,370.60v1.8 M327.15,370.60v1.8 M330.38,370.60v1.8 M333.01,370.60v1.8 M335.24,370.60v1.8 M337.17,370.60v1.8 M338.88,370.60v1.8 M340.40,370.60v3.4 M350.42,370.60v1.8 M356.29,370.60v1.8 M360.45,370.60v1.8 M363.68,370.60v1.8 M366.31,370.60v1.8 M368.54,370.60v1.8 M370.47,370.60v1.8 M372.18,370.60v1.8 M373.70,370.60v3.4 M383.72,370.60v1.8 M389.59,370.60v1.8 M393.75,370.60v1.8 M396.98,370.60v1.8 M399.61,370.60v1.8 M401.84,370.60v1.8 M403.77,370.60v1.8 M405.48,370.60v1.8 M407.00,370.60v3.4 M417.02,370.60v1.8" stroke="#111" stroke-width="0.75" fill="none"/>
<text class="f-sans" x="271.40" y="386.60" font-size="4.6" fill="#111">10<tspan dy="-3.0" dx="0.5" font-size="4.6">1</tspan></text>
<text class="f-sans" x="305.20" y="386.60" font-size="4.6" fill="#111">10<tspan dy="-3.0" dx="0.5" font-size="4.6">2</tspan></text>
<text class="f-sans" x="338.50" y="386.60" font-size="4.6" fill="#111">10<tspan dy="-3.0" dx="0.5" font-size="4.6">3</tspan></text>
<text class="f-sans" x="371.80" y="386.60" font-size="4.6" fill="#111">10<tspan dy="-3.0" dx="0.5" font-size="4.6">4</tspan></text>
<text class="f-sans" x="404.60" y="386.60" font-size="4.6" fill="#111">10<tspan dy="-3.0" dx="0.5" font-size="4.6">5</tspan></text>
<text class="f-serif" x="348.70" y="202.60" font-size="10" font-weight="bold" text-anchor="middle" fill="#231f20" letter-spacing="0.5">uninfected cells</text>
<text class="f-serif" x="385.80" y="231.30" font-size="10" font-weight="bold" text-anchor="start" fill="#231f20" letter-spacing="0.5">ZY9</text>
<text class="f-serif" x="385.80" y="245.50" font-size="10" font-weight="bold" text-anchor="start" fill="#231f20" letter-spacing="0.5">ZY8</text>
<text class="f-serif" x="385.80" y="258.30" font-size="10" font-weight="bold" text-anchor="start" fill="#231f20" letter-spacing="0.5">ZY7</text>
<text class="f-serif" x="385.80" y="271.80" font-size="10" font-weight="bold" text-anchor="start" fill="#231f20" letter-spacing="0.5">ZY6</text>
<text class="f-serif" x="385.80" y="285.80" font-size="10" font-weight="bold" text-anchor="start" fill="#231f20" letter-spacing="0.5">ZY5</text>
<text class="f-serif" x="385.80" y="298.80" font-size="10" font-weight="bold" text-anchor="start" fill="#231f20" letter-spacing="0.5">ZY4</text>
<text class="f-serif" x="385.80" y="312.50" font-size="10" font-weight="bold" text-anchor="start" fill="#231f20" letter-spacing="0.5">ZY3</text>
<text class="f-serif" x="385.80" y="327.00" font-size="10" font-weight="bold" text-anchor="start" fill="#231f20" letter-spacing="0.5">ZY2</text>
<text class="f-serif" x="385.80" y="339.80" font-size="10" font-weight="bold" text-anchor="start" fill="#231f20" letter-spacing="0.5">ZY1</text>
<text class="f-serif" x="385.80" y="353.30" font-size="10" font-weight="bold" text-anchor="start" fill="#231f20" letter-spacing="0.5">Lib</text>
<text class="f-serif" x="385.80" y="367.50" font-size="10" font-weight="bold" text-anchor="start" fill="#231f20" letter-spacing="0.5">Cells</text>
<text class="f-serif" x="265.00" y="288.00" font-size="10" font-weight="bold" text-anchor="middle" fill="#231f20" letter-spacing="0.5" transform="rotate(-90 265.00 288.00)">Counts</text>
<text class="f-serif" x="348.40" y="396.60" font-size="10" font-weight="bold" text-anchor="middle" fill="#231f20" letter-spacing="0.5">FITC</text>
<clipPath id="clipD446"><rect x="446.3" y="207.3" width="153.2" height="164.1"/></clipPath>
<g clip-path="url(#clipD446)">
<polyline points="446.3,233.4 446.8,233.8 447.3,234.5 453.8,234.3 460.3,234.1 466.8,233.8 472.3,233.6 474.8,233.0 477.3,231.7 478.8,230.1 479.8,228.7 481.3,226.4 482.8,223.5 483.3,222.7 484.8,219.3 485.8,216.7 487.3,215.4 487.8,214.5 488.3,214.5 488.8,214.8 489.3,214.1 490.3,213.4 490.8,213.7 491.3,214.4 491.8,214.2 492.3,215.3 492.8,215.3 494.3,218.1 494.8,218.8 495.8,221.1 496.3,222.8 498.8,228.0 500.8,231.0 501.3,231.6 502.8,232.8 504.3,233.6 508.3,234.4 514.8,234.6 521.3,234.6 527.8,234.6 534.3,234.6 540.8,234.6 547.3,234.6 553.8,234.6 560.3,234.6 566.8,234.6 573.3,234.6 579.8,234.6 586.3,234.6 592.8,234.6 599.3,234.6" fill="#808080" fill-opacity="0.7" stroke="#808080" stroke-width="0.5" stroke-opacity="0.45" stroke-linejoin="round"/>
<polyline points="464.3,233.9 470.8,233.7 473.8,233.3 476.3,232.3 477.3,231.7 478.8,230.1 479.8,228.7 481.3,226.4 482.8,223.5 483.3,222.7 484.8,219.3 485.8,216.7 487.3,215.4 487.8,214.5 488.3,214.5 488.8,214.8 489.3,214.1 490.3,213.4 490.8,213.7 491.3,214.4 491.8,214.2 492.3,215.3 492.8,215.3 494.3,218.1 494.8,218.8 495.8,221.1 496.3,222.8 498.8,228.0 500.8,231.0 501.3,231.6 502.8,232.8 504.3,233.6 505.8,234.0" fill="none" stroke="#666666" stroke-width="0.55" stroke-opacity="0.85" stroke-linejoin="round"/>
<polyline points="446.3,248.6 452.8,248.6 459.3,248.6 465.8,248.6 472.3,248.6 478.8,248.6 485.3,248.5 491.8,248.0 494.8,247.1 497.8,245.5 500.8,242.3 501.8,240.6 502.3,240.1 503.8,236.9 504.3,236.3 505.3,234.1 505.8,233.3 506.8,231.4 507.3,230.1 508.8,227.1 509.3,226.5 509.8,226.8 510.3,226.7 510.8,225.5 511.3,225.5 511.8,225.2 512.3,225.2 512.8,225.5 514.8,224.5 515.3,224.9 516.3,226.6 516.8,227.1 517.3,227.2 517.8,227.6 518.3,228.4 518.8,229.8 519.8,231.8 520.3,232.3 521.3,234.3 522.3,236.2 522.8,237.7 524.8,241.2 525.8,242.5 526.3,243.3 526.8,243.8 527.3,244.4 529.8,246.5 532.3,247.6 538.8,248.5 545.3,248.6 551.8,248.6 558.3,248.6 564.8,248.6 571.3,248.6 577.8,248.6 584.3,248.6 590.8,248.6 597.3,248.6 599.3,248.6" fill="#141414" fill-opacity="0.8" stroke="#141414" stroke-width="0.5" stroke-opacity="0.45" stroke-linejoin="round"/>
<polyline points="492.3,247.9 495.8,246.7 497.8,245.5 500.8,242.3 501.8,240.6 502.3,240.1 503.8,236.9 504.3,236.3 505.3,234.1 505.8,233.3 506.8,231.4 507.3,230.1 508.8,227.1 509.3,226.5 509.8,226.8 510.3,226.7 510.8,225.5 511.3,225.5 511.8,225.2 512.3,225.2 512.8,225.5 514.8,224.5 515.3,224.9 516.3,226.6 516.8,227.1 517.3,227.2 517.8,227.6 518.3,228.4 518.8,229.8 519.8,231.8 520.3,232.3 521.3,234.3 522.3,236.2 522.8,237.7 524.8,241.2 525.8,242.5 526.3,243.3 526.8,243.8 527.3,244.4 529.8,246.5 532.3,247.6 533.8,247.9" fill="none" stroke="#101010" stroke-width="0.55" stroke-opacity="0.85" stroke-linejoin="round"/>
<polyline points="446.3,262.4 452.8,262.4 459.3,262.4 465.8,262.4 472.3,262.4 478.8,262.3 485.3,262.0 491.8,261.1 493.3,260.8 494.3,260.7 496.3,260.2 497.3,260.0 500.3,259.1 500.8,258.8 502.3,258.0 504.3,255.9 504.8,255.3 505.8,254.3 506.3,253.3 506.8,252.7 507.8,250.9 508.3,250.4 508.8,248.9 509.3,248.5 511.3,243.7 511.8,243.4 512.3,242.7 512.8,242.4 513.3,240.8 514.3,239.3 514.8,238.8 515.3,239.3 515.8,239.0 516.3,238.1 516.8,238.5 517.3,237.9 518.3,238.7 518.8,238.6 519.3,238.7 519.8,238.1 520.3,237.7 520.8,237.7 521.3,238.5 522.3,239.5 522.8,240.7 523.3,240.7 524.3,241.8 525.3,244.0 525.8,244.5 526.3,245.7 526.8,245.8 528.8,249.2 529.3,250.6 529.8,251.1 530.8,253.0 531.3,253.6 531.8,254.6 533.3,256.3 533.8,257.1 534.3,257.7 535.8,258.8 536.3,259.3 538.8,260.8 545.3,262.1 551.8,262.4 558.3,262.4 564.8,262.4 571.3,262.4 577.8,262.4 584.3,262.4 590.8,262.4 597.3,262.4 599.3,262.4" fill="#c01010" fill-opacity="0.72" stroke="#c01010" stroke-width="0.5" stroke-opacity="0.45" stroke-linejoin="round"/>
<polyline points="487.8,261.7 494.3,260.7 496.3,260.2 497.3,260.0 500.3,259.1 500.8,258.8 502.3,258.0 504.3,255.9 504.8,255.3 505.8,254.3 506.3,253.3 506.8,252.7 507.8,250.9 508.3,250.4 508.8,248.9 509.3,248.5 511.3,243.7 511.8,243.4 512.3,242.7 512.8,242.4 513.3,240.8 514.3,239.3 514.8,238.8 515.3,239.3 515.8,239.0 516.3,238.1 516.8,238.5 517.3,237.9 518.3,238.7 518.8,238.6 519.3,238.7 519.8,238.1 520.3,237.7 520.8,237.7 521.3,238.5 522.3,239.5 522.8,240.7 523.3,240.7 524.3,241.8 525.3,244.0 525.8,244.5 526.3,245.7 526.8,245.8 528.8,249.2 529.3,250.6 529.8,251.1 530.8,253.0 531.3,253.6 531.8,254.6 533.3,256.3 533.8,257.1 534.3,257.7 535.8,258.8 536.3,259.3 538.8,260.8 542.3,261.7" fill="none" stroke="#990c0c" stroke-width="0.55" stroke-opacity="0.85" stroke-linejoin="round"/>
<polyline points="446.3,276.0 452.8,276.0 459.3,276.0 465.8,276.0 472.3,276.0 478.8,275.7 481.8,274.9 483.8,273.5 485.8,271.2 487.3,268.5 488.3,266.3 489.3,263.1 489.8,262.2 490.8,258.7 491.3,258.2 491.8,257.4 492.3,255.6 493.3,253.1 493.8,253.3 494.8,253.3 495.3,253.1 495.8,253.0 496.3,252.7 496.8,253.0 497.3,252.8 498.3,255.0 498.8,255.1 499.3,256.0 500.3,259.2 500.8,259.9 501.3,261.0 502.3,263.9 502.8,265.0 503.3,266.5 503.8,267.4 504.3,268.7 506.8,272.7 507.8,273.6 510.3,275.0 513.8,275.8 520.3,276.0 526.8,276.0 533.3,276.0 539.8,276.0 546.3,276.0 552.8,276.0 559.3,276.0 565.8,276.0 572.3,276.0 578.8,276.0 585.3,276.0 591.8,276.0 598.3,276.0 599.3,276.0" fill="#5040ff" fill-opacity="0.66" stroke="#5040ff" stroke-width="0.5" stroke-opacity="0.45" stroke-linejoin="round"/>
<polyline points="480.3,275.3 481.8,274.9 483.8,273.5 485.8,271.2 487.3,268.5 488.3,266.3 489.3,263.1 489.8,262.2 490.8,258.7 491.3,258.2 491.8,257.4 492.3,255.6 493.3,253.1 493.8,253.3 494.8,253.3 495.3,253.1 495.8,253.0 496.3,252.7 496.8,253.0 497.3,252.8 498.3,255.0 498.8,255.1 499.3,256.0 500.3,259.2 500.8,259.9 501.3,261.0 502.3,263.9 502.8,265.0 503.3,266.5 503.8,267.4 504.3,268.7 506.8,272.7 507.8,273.6 510.3,275.0 511.3,275.3" fill="none" stroke="#4033cc" stroke-width="0.55" stroke-opacity="0.85" stroke-linejoin="round"/>
<polyline points="446.3,289.4 452.8,289.4 459.3,289.4 465.8,289.4 472.3,289.4 478.8,289.4 485.3,289.3 491.8,288.8 495.3,287.9 497.3,286.9 498.3,286.1 498.8,285.8 500.3,284.4 500.8,283.7 501.8,282.6 502.8,281.0 503.3,280.5 504.8,277.6 505.3,277.1 506.3,275.0 506.8,274.6 507.8,272.4 508.8,270.7 509.3,270.2 509.8,269.0 510.8,268.1 511.3,267.1 511.8,267.4 512.3,266.1 512.8,266.6 513.3,266.0 513.8,265.1 514.3,265.0 514.8,265.6 515.8,264.5 516.3,264.6 516.8,265.5 517.3,265.4 517.8,264.9 518.3,265.8 518.8,265.8 519.3,265.5 519.8,265.7 520.8,267.6 521.8,268.0 522.3,269.1 523.3,270.3 523.8,271.6 524.3,272.1 525.8,275.1 526.3,275.6 529.3,281.1 529.8,281.5 530.8,283.1 531.3,283.5 531.8,284.2 532.3,284.5 534.8,286.7 537.3,288.0 541.8,289.0 548.3,289.4 554.8,289.4 561.3,289.4 567.8,289.4 574.3,289.4 580.8,289.4 587.3,289.4 593.8,289.4 599.3,289.4" fill="#1080ff" fill-opacity="0.66" stroke="#1080ff" stroke-width="0.5" stroke-opacity="0.45" stroke-linejoin="round"/>
<polyline points="492.3,288.7 495.3,287.9 497.3,286.9 498.3,286.1 498.8,285.8 500.3,284.4 500.8,283.7 501.8,282.6 502.8,281.0 503.3,280.5 504.8,277.6 505.3,277.1 506.3,275.0 506.8,274.6 507.8,272.4 508.8,270.7 509.3,270.2 509.8,269.0 510.8,268.1 511.3,267.1 511.8,267.4 512.3,266.1 512.8,266.6 513.3,266.0 513.8,265.1 514.3,265.0 514.8,265.6 515.8,264.5 516.3,264.6 516.8,265.5 517.3,265.4 517.8,264.9 518.3,265.8 518.8,265.8 519.3,265.5 519.8,265.7 520.8,267.6 521.8,268.0 522.3,269.1 523.3,270.3 523.8,271.6 524.3,272.1 525.8,275.1 526.3,275.6 529.3,281.1 529.8,281.5 530.8,283.1 531.3,283.5 531.8,284.2 532.3,284.5 534.8,286.7 537.3,288.0 539.8,288.7" fill="none" stroke="#0c66cc" stroke-width="0.55" stroke-opacity="0.85" stroke-linejoin="round"/>
<polyline points="446.3,302.8 452.8,302.8 459.3,302.8 465.8,302.8 472.3,302.8 478.8,302.6 481.3,302.1 482.3,301.7 483.8,300.7 485.3,299.1 486.3,297.6 487.8,294.1 489.3,290.1 490.3,286.5 491.3,284.6 491.8,282.6 493.3,279.2 493.8,278.8 494.8,279.5 495.3,279.2 495.8,279.8 496.3,279.1 496.8,279.6 497.3,279.8 498.3,281.8 499.3,284.1 499.8,284.5 500.8,287.0 501.3,288.6 501.8,289.8 502.3,290.7 502.8,292.2 503.8,294.0 504.3,295.2 504.8,295.9 505.3,297.0 506.3,298.3 507.8,300.0 509.3,301.1 511.8,302.1 518.3,302.7 524.8,302.8 531.3,302.8 537.8,302.8 544.3,302.8 550.8,302.8 557.3,302.8 563.8,302.8 570.3,302.8 576.8,302.8 583.3,302.8 589.8,302.8 596.3,302.8 599.3,302.8" fill="#10b010" fill-opacity="0.74" stroke="#10b010" stroke-width="0.5" stroke-opacity="0.45" stroke-linejoin="round"/>
<polyline points="480.8,302.2 482.3,301.7 483.8,300.7 485.3,299.1 486.3,297.6 487.8,294.1 489.3,290.1 490.3,286.5 491.3,284.6 491.8,282.6 493.3,279.2 493.8,278.8 494.8,279.5 495.3,279.2 495.8,279.8 496.3,279.1 496.8,279.6 497.3,279.8 498.3,281.8 499.3,284.1 499.8,284.5 500.8,287.0 501.3,288.6 501.8,289.8 502.3,290.7 502.8,292.2 503.8,294.0 504.3,295.2 504.8,295.9 505.3,297.0 506.3,298.3 507.8,300.0 509.3,301.1 511.8,302.1 512.3,302.2" fill="none" stroke="#0c8c0c" stroke-width="0.55" stroke-opacity="0.85" stroke-linejoin="round"/>
<polyline points="446.3,314.9 446.8,315.3 447.3,316.1 453.8,316.1 460.3,316.1 466.8,316.1 473.3,316.1 479.8,316.1 486.3,316.0 492.8,315.8 499.3,315.1 503.3,314.6 505.3,314.0 506.3,313.5 506.8,313.4 508.8,312.0 509.8,311.1 510.3,310.5 510.8,310.1 511.8,308.4 512.8,307.3 513.3,306.3 514.3,304.5 514.8,303.1 515.3,302.5 516.3,299.8 517.3,297.5 517.8,296.9 518.3,295.7 518.8,295.3 519.3,294.5 519.8,294.3 520.8,292.6 521.3,292.8 521.8,292.3 522.8,293.1 523.3,292.3 523.8,291.8 524.3,291.6 524.8,292.8 525.3,292.4 525.8,293.6 526.3,293.3 526.8,294.0 527.3,294.5 527.8,295.2 528.3,296.5 528.8,297.3 529.3,298.6 530.3,299.8 530.8,301.0 531.3,301.8 531.8,303.1 532.8,304.4 533.3,305.8 534.3,307.2 534.8,308.3 537.3,311.5 539.3,313.3 541.3,314.4 545.8,315.6 552.3,316.0 558.8,316.1 565.3,316.1 571.8,316.1 578.3,316.1 584.8,316.1 591.3,316.1 597.8,316.1 599.3,316.1" fill="#f010e0" fill-opacity="0.72" stroke="#f010e0" stroke-width="0.5" stroke-opacity="0.45" stroke-linejoin="round"/>
<polyline points="497.3,315.4 503.3,314.6 505.3,314.0 506.3,313.5 506.8,313.4 508.8,312.0 509.8,311.1 510.3,310.5 510.8,310.1 511.8,308.4 512.8,307.3 513.3,306.3 514.3,304.5 514.8,303.1 515.3,302.5 516.3,299.8 517.3,297.5 517.8,296.9 518.3,295.7 518.8,295.3 519.3,294.5 519.8,294.3 520.8,292.6 521.3,292.8 521.8,292.3 522.8,293.1 523.3,292.3 523.8,291.8 524.3,291.6 524.8,292.8 525.3,292.4 525.8,293.6 526.3,293.3 526.8,294.0 527.3,294.5 527.8,295.2 528.3,296.5 528.8,297.3 529.3,298.6 530.3,299.8 530.8,301.0 531.3,301.8 531.8,303.1 532.8,304.4 533.3,305.8 534.3,307.2 534.8,308.3 537.3,311.5 539.3,313.3 541.3,314.4 544.8,315.4" fill="none" stroke="#c00cb3" stroke-width="0.55" stroke-opacity="0.85" stroke-linejoin="round"/>
<polyline points="446.3,329.8 452.8,329.8 459.3,329.8 465.8,329.8 472.3,329.8 478.8,329.8 485.3,329.8 491.8,329.7 497.8,329.1 500.3,328.4 501.8,327.7 504.8,325.6 505.3,325.1 506.3,323.7 506.8,323.3 507.3,322.3 507.8,321.8 509.8,318.2 510.3,317.7 511.3,316.1 512.3,313.3 513.3,312.0 514.3,309.7 514.8,308.9 515.8,308.5 516.3,308.0 516.8,306.9 517.3,306.5 517.8,306.9 518.3,306.1 519.3,305.3 519.8,305.7 520.3,306.4 520.8,306.8 521.3,305.8 521.8,306.3 522.8,306.1 524.3,307.6 524.8,307.5 525.8,309.5 526.8,310.2 527.3,311.5 529.3,314.7 529.8,316.0 530.3,316.5 531.3,318.3 531.8,319.5 533.3,321.5 534.3,323.3 535.8,325.0 536.8,325.8 537.3,326.3 539.3,327.7 542.3,328.9 548.8,329.7 555.3,329.8 561.8,329.8 568.3,329.8 574.8,329.8 581.3,329.8 587.8,329.8 594.3,329.8 599.3,329.8" fill="#f8f420" fill-opacity="0.68" stroke="#f8f420" stroke-width="0.5" stroke-opacity="0.45" stroke-linejoin="round"/>
<polyline points="497.8,329.1 500.3,328.4 501.8,327.7 504.8,325.6 505.3,325.1 506.3,323.7 506.8,323.3 507.3,322.3 507.8,321.8 509.8,318.2 510.3,317.7 511.3,316.1 512.3,313.3 513.3,312.0 514.3,309.7 514.8,308.9 515.8,308.5 516.3,308.0 516.8,306.9 517.3,306.5 517.8,306.9 518.3,306.1 519.3,305.3 519.8,305.7 520.3,306.4 520.8,306.8 521.3,305.8 521.8,306.3 522.8,306.1 524.3,307.6 524.8,307.5 525.8,309.5 526.8,310.2 527.3,311.5 529.3,314.7 529.8,316.0 530.3,316.5 531.3,318.3 531.8,319.5 533.3,321.5 534.3,323.3 535.8,325.0 536.8,325.8 537.3,326.3 539.3,327.7 542.3,328.9 543.8,329.2" fill="none" stroke="#c6c319" stroke-width="0.55" stroke-opacity="0.85" stroke-linejoin="round"/>
<polyline points="446.3,342.0 446.8,342.4 447.3,343.2 453.8,343.2 460.3,343.1 466.8,342.8 471.3,341.8 474.8,340.7 476.8,339.7 478.8,338.4 480.3,336.8 480.8,336.0 481.3,335.5 482.3,333.4 482.8,332.7 484.3,329.3 484.8,327.8 485.3,327.0 485.8,326.3 487.8,322.1 488.3,321.9 488.8,320.6 490.3,319.4 490.8,319.3 491.3,319.1 491.8,319.3 492.3,320.4 493.8,322.4 494.3,324.5 494.8,326.1 495.3,327.3 495.8,329.1 496.8,331.6 498.8,334.2 499.8,334.8 500.3,335.4 500.8,335.6 501.3,336.2 501.8,336.7 502.8,338.0 506.3,341.5 507.8,342.3 509.8,342.8 516.3,343.2 522.8,343.2 529.3,343.2 535.8,343.2 542.3,343.2 548.8,343.2 555.3,343.2 561.8,343.2 568.3,343.2 574.8,343.2 581.3,343.2 587.8,343.2 594.3,343.2 599.3,343.2" fill="#ff9626" fill-opacity="0.66" stroke="#ff9626" stroke-width="0.5" stroke-opacity="0.45" stroke-linejoin="round"/>
<polyline points="468.3,342.5 472.3,341.5 474.8,340.7 476.8,339.7 478.8,338.4 480.3,336.8 480.8,336.0 481.3,335.5 482.3,333.4 482.8,332.7 484.3,329.3 484.8,327.8 485.3,327.0 485.8,326.3 487.8,322.1 488.3,321.9 488.8,320.6 490.3,319.4 490.8,319.3 491.3,319.1 491.8,319.3 492.3,320.4 493.8,322.4 494.3,324.5 494.8,326.1 495.3,327.3 495.8,329.1 496.8,331.6 498.8,334.2 499.8,334.8 500.3,335.4 500.8,335.6 501.3,336.2 501.8,336.7 502.8,338.0 506.3,341.5 507.8,342.3 508.8,342.6" fill="none" stroke="#cc781e" stroke-width="0.55" stroke-opacity="0.85" stroke-linejoin="round"/>
<polyline points="446.3,355.6 446.8,356.0 447.3,356.8 453.8,356.8 460.3,356.8 466.8,356.8 473.3,356.3 475.8,355.7 477.8,354.8 478.8,354.0 480.3,352.5 481.8,350.0 482.3,349.4 485.8,342.2 486.8,338.9 487.3,338.2 487.8,336.9 488.3,335.9 488.8,335.3 489.3,334.8 490.3,333.0 490.8,333.5 491.3,333.7 491.8,332.8 492.3,332.3 492.8,332.6 493.3,332.4 493.8,333.0 494.3,333.9 495.3,336.7 495.8,338.3 497.3,342.3 497.8,344.4 498.3,345.6 499.3,348.5 500.3,350.7 501.8,353.3 503.3,354.8 505.3,355.9 511.8,356.8 518.3,356.8 524.8,356.8 531.3,356.8 537.8,356.8 544.3,356.8 550.8,356.8 557.3,356.8 563.8,356.8 570.3,356.8 576.8,356.8 583.3,356.8 589.8,356.8 596.3,356.8 599.3,356.8" fill="#10ccff" fill-opacity="0.68" stroke="#10ccff" stroke-width="0.5" stroke-opacity="0.45" stroke-linejoin="round"/>
<polyline points="474.3,356.2 475.8,355.7 477.8,354.8 478.8,354.0 480.3,352.5 481.8,350.0 482.3,349.4 485.8,342.2 486.8,338.9 487.3,338.2 487.8,336.9 488.3,335.9 488.8,335.3 489.3,334.8 490.3,333.0 490.8,333.5 491.3,333.7 491.8,332.8 492.3,332.3 492.8,332.6 493.3,332.4 493.8,333.0 494.3,333.9 495.3,336.7 495.8,338.3 497.3,342.3 497.8,344.4 498.3,345.6 499.3,348.5 500.3,350.7 501.8,353.3 503.3,354.8 505.3,355.9 506.3,356.2" fill="none" stroke="#0ca3cc" stroke-width="0.55" stroke-opacity="0.85" stroke-linejoin="round"/>
<polyline points="446.3,369.8 446.8,370.2 447.3,371.0 453.8,371.0 460.3,371.0 466.8,371.0 472.8,370.4 474.8,369.8 476.8,368.4 479.3,365.5 480.8,363.1 481.8,360.6 482.3,359.6 482.8,358.3 483.3,357.6 483.8,356.5 484.3,355.0 484.8,353.8 485.3,353.1 485.8,352.7 486.3,351.3 486.8,350.6 487.3,350.6 488.8,349.2 489.3,349.9 489.8,350.1 490.3,349.6 490.8,350.2 492.3,351.2 492.8,351.2 493.3,352.5 493.8,353.2 494.3,354.7 494.8,355.4 495.8,357.8 496.3,358.7 497.3,361.1 497.8,361.9 499.3,365.1 499.8,366.0 501.3,367.8 502.3,368.7 504.3,369.9 507.8,370.7 514.3,371.0 520.8,371.0 527.3,371.0 533.8,371.0 540.3,371.0 546.8,371.0 553.3,371.0 559.8,371.0 566.3,371.0 572.8,371.0 579.3,371.0 585.8,371.0 592.3,371.0 598.8,371.0 599.3,371.0" fill="#ff4a50" fill-opacity="0.7" stroke="#ff4a50" stroke-width="0.5" stroke-opacity="0.45" stroke-linejoin="round"/>
<polyline points="473.3,370.3 474.8,369.8 476.8,368.4 479.3,365.5 480.8,363.1 481.8,360.6 482.3,359.6 482.8,358.3 483.3,357.6 483.8,356.5 484.3,355.0 484.8,353.8 485.3,353.1 485.8,352.7 486.3,351.3 486.8,350.6 487.3,350.6 488.8,349.2 489.3,349.9 489.8,350.1 490.3,349.6 490.8,350.2 492.3,351.2 492.8,351.2 493.3,352.5 493.8,353.2 494.3,354.7 494.8,355.4 495.8,357.8 496.3,358.7 497.3,361.1 497.8,361.9 499.3,365.1 499.8,366.0 501.3,367.8 502.3,368.7 504.3,369.9 505.8,370.4" fill="none" stroke="#cc3b40" stroke-width="0.55" stroke-opacity="0.85" stroke-linejoin="round"/>
</g>
<rect x="446.30" y="207.30" width="153.20" height="163.70" fill="none" stroke="#8a8a8a" stroke-width="0.8"/>
<path d="M450.17,371.00v1.8 M453.13,371.00v1.8 M455.54,371.00v1.8 M457.58,371.00v1.8 M459.35,371.00v1.8 M460.91,371.00v1.8 M462.30,371.00v3.4 M471.47,371.00v1.8 M476.84,371.00v1.8 M480.65,371.00v1.8 M483.60,371.00v1.8 M486.01,371.00v1.8 M488.05,371.00v1.8 M489.82,371.00v1.8 M491.38,371.00v1.8 M492.78,371.00v3.4 M501.95,371.00v1.8 M507.32,371.00v1.8 M511.12,371.00v1.8 M514.08,371.00v1.8 M516.49,371.00v1.8 M518.53,371.00v1.8 M520.30,371.00v1.8 M521.86,371.00v1.8 M523.25,371.00v3.4 M532.42,371.00v1.8 M537.79,371.00v1.8 M541.60,371.00v1.8 M544.55,371.00v1.8 M546.96,371.00v1.8 M549.00,371.00v1.8 M550.77,371.00v1.8 M552.33,371.00v1.8 M553.73,371.00v3.4 M562.90,371.00v1.8 M568.27,371.00v1.8 M572.07,371.00v1.8 M575.03,371.00v1.8 M577.44,371.00v1.8 M579.48,371.00v1.8 M581.25,371.00v1.8 M582.81,371.00v1.8 M584.20,371.00v3.4 M593.37,371.00v1.8 M598.74,371.00v1.8" stroke="#111" stroke-width="0.75" fill="none"/>
<text class="f-sans" x="459.90" y="387.00" font-size="4.6" fill="#111">10<tspan dy="-3.0" dx="0.5" font-size="4.6">1</tspan></text>
<text class="f-sans" x="490.30" y="387.00" font-size="4.6" fill="#111">10<tspan dy="-3.0" dx="0.5" font-size="4.6">2</tspan></text>
<text class="f-sans" x="520.80" y="387.00" font-size="4.6" fill="#111">10<tspan dy="-3.0" dx="0.5" font-size="4.6">3</tspan></text>
<text class="f-sans" x="551.30" y="387.00" font-size="4.6" fill="#111">10<tspan dy="-3.0" dx="0.5" font-size="4.6">4</tspan></text>
<text class="f-sans" x="581.80" y="387.00" font-size="4.6" fill="#111">10<tspan dy="-3.0" dx="0.5" font-size="4.6">5</tspan></text>
<text class="f-serif" x="528.00" y="202.60" font-size="10" font-weight="bold" text-anchor="middle" fill="#231f20" letter-spacing="0.5">infected cells</text>
<text class="f-serif" x="566.20" y="231.50" font-size="10" font-weight="bold" text-anchor="start" fill="#231f20" letter-spacing="0.5">ZY9</text>
<text class="f-serif" x="566.20" y="245.50" font-size="10" font-weight="bold" text-anchor="start" fill="#231f20" letter-spacing="0.5">ZY8</text>
<text class="f-serif" x="566.20" y="258.50" font-size="10" font-weight="bold" text-anchor="start" fill="#231f20" letter-spacing="0.5">ZY7</text>
<text class="f-serif" x="566.20" y="272.00" font-size="10" font-weight="bold" text-anchor="start" fill="#231f20" letter-spacing="0.5">ZY6</text>
<text class="f-serif" x="566.20" y="286.00" font-size="10" font-weight="bold" text-anchor="start" fill="#231f20" letter-spacing="0.5">ZY5</text>
<text class="f-serif" x="566.20" y="299.00" font-size="10" font-weight="bold" text-anchor="start" fill="#231f20" letter-spacing="0.5">ZY4</text>
<text class="f-serif" x="566.20" y="312.70" font-size="10" font-weight="bold" text-anchor="start" fill="#231f20" letter-spacing="0.5">ZY3</text>
<text class="f-serif" x="566.20" y="327.00" font-size="10" font-weight="bold" text-anchor="start" fill="#231f20" letter-spacing="0.5">ZY2</text>
<text class="f-serif" x="566.20" y="340.00" font-size="10" font-weight="bold" text-anchor="start" fill="#231f20" letter-spacing="0.5">ZY1</text>
<text class="f-serif" x="566.20" y="353.50" font-size="10" font-weight="bold" text-anchor="start" fill="#231f20" letter-spacing="0.5">Lib</text>
<text class="f-serif" x="566.20" y="367.70" font-size="10" font-weight="bold" text-anchor="start" fill="#231f20" letter-spacing="0.5">Cells</text>
<text class="f-serif" x="442.60" y="288.00" font-size="10" font-weight="bold" text-anchor="middle" fill="#231f20" letter-spacing="0.5" transform="rotate(-90 442.60 288.00)">Counts</text>
<text class="f-serif" x="526.00" y="396.60" font-size="10" font-weight="bold" text-anchor="middle" fill="#231f20" letter-spacing="0.5">FITC</text>
<path d="M85.60,408.64V403.86M82.50,403.86h6.2" stroke="#000" stroke-width="1.3" fill="none"/>
<rect x="79.35" y="408.64" width="12.50" height="14.36" fill="#ff0000" stroke="#000" stroke-width="1.3"/>
<path d="M85.60,423.00v5" stroke="#000" stroke-width="1.3"/>
<path d="M107.20,339.21V336.66M104.10,336.66h6.2" stroke="#000" stroke-width="1.3" fill="none"/>
<rect x="100.95" y="339.21" width="12.50" height="83.79" fill="#0000ff" stroke="#000" stroke-width="1.3"/>
<path d="M107.20,423.00v5" stroke="#000" stroke-width="1.3"/>
<path d="M128.60,317.94V306.46M125.50,306.46h6.2" stroke="#000" stroke-width="1.3" fill="none"/>
<rect x="122.35" y="317.94" width="12.50" height="105.06" fill="#ff6600" stroke="#000" stroke-width="1.3"/>
<path d="M128.60,423.00v5" stroke="#000" stroke-width="1.3"/>
<path d="M150.00,362.18V348.35M146.90,348.35h6.2" stroke="#000" stroke-width="1.3" fill="none"/>
<rect x="143.75" y="362.18" width="12.50" height="60.82" fill="#aa0ae0" stroke="#000" stroke-width="1.3"/>
<path d="M150.00,423.00v5" stroke="#000" stroke-width="1.3"/>
<path d="M171.40,350.16V342.51M168.30,342.51h6.2" stroke="#000" stroke-width="1.3" fill="none"/>
<rect x="165.15" y="350.16" width="12.50" height="72.84" fill="#008000" stroke="#000" stroke-width="1.3"/>
<path d="M171.40,423.00v5" stroke="#000" stroke-width="1.3"/>
<path d="M192.80,370.58V363.13M189.70,363.13h6.2" stroke="#000" stroke-width="1.3" fill="none"/>
<rect x="186.55" y="370.58" width="12.50" height="52.42" fill="#05505f" stroke="#000" stroke-width="1.3"/>
<path d="M192.80,423.00v5" stroke="#000" stroke-width="1.3"/>
<path d="M71.50,294.90V423.00H208.00" stroke="#000" stroke-width="1.4" fill="none"/>
<path d="M71.50,423.00h-5" stroke="#000" stroke-width="1.3"/>
<text class="f-sans" x="63.80" y="426.24" font-size="9.0" font-weight="bold" text-anchor="end" fill="#1a1a1a" stroke="#1a1a1a" stroke-width="0.22">0</text>
<path d="M71.50,391.10h-5" stroke="#000" stroke-width="1.3"/>
<text class="f-sans" x="63.80" y="394.34" font-size="9.0" font-weight="bold" text-anchor="end" fill="#1a1a1a" stroke="#1a1a1a" stroke-width="0.22">300</text>
<path d="M71.50,359.20h-5" stroke="#000" stroke-width="1.3"/>
<text class="f-sans" x="63.80" y="362.44" font-size="9.0" font-weight="bold" text-anchor="end" fill="#1a1a1a" stroke="#1a1a1a" stroke-width="0.22">600</text>
<path d="M71.50,327.30h-5" stroke="#000" stroke-width="1.3"/>
<text class="f-sans" x="63.80" y="330.54" font-size="9.0" font-weight="bold" text-anchor="end" fill="#1a1a1a" stroke="#1a1a1a" stroke-width="0.22">900</text>
<path d="M71.50,295.40h-5" stroke="#000" stroke-width="1.3"/>
<text class="f-sans" x="63.80" y="298.64" font-size="9.0" font-weight="bold" text-anchor="end" fill="#1a1a1a" stroke="#1a1a1a" stroke-width="0.22">1200</text>
<text class="f-serif" x="73.80" y="438.50" font-size="10" font-weight="bold" text-anchor="start" fill="#231f20" letter-spacing="0.45">Lib</text>
<text class="f-serif" x="92.70" y="438.50" font-size="10" font-weight="bold" text-anchor="start" fill="#231f20" letter-spacing="0.45">ZY2</text>
<text class="f-serif" x="115.40" y="438.50" font-size="10" font-weight="bold" text-anchor="start" fill="#231f20" letter-spacing="0.45">ZY3</text>
<text class="f-serif" x="138.00" y="438.50" font-size="10" font-weight="bold" text-anchor="start" fill="#231f20" letter-spacing="0.45">ZY5</text>
<text class="f-serif" x="161.20" y="438.50" font-size="10" font-weight="bold" text-anchor="start" fill="#231f20" letter-spacing="0.45">ZY7</text>
<text class="f-serif" x="184.60" y="438.50" font-size="10" font-weight="bold" text-anchor="start" fill="#231f20" letter-spacing="0.45">ZY8</text>
<text class="f-serif" x="34.40" y="360.80" font-size="10.3" font-weight="bold" text-anchor="middle" fill="#231f20" letter-spacing="0.36" transform="rotate(-90 34.40 360.80)">Mean fluorescence intensity</text>
<clipPath id="clipF"><rect x="34.4" y="453.4" width="169.2" height="172.60000000000005"/></clipPath>
<g clip-path="url(#clipF)">
<polyline points="34.4,493.6 40.9,493.6 47.4,493.6 53.9,493.5 60.4,493.5 66.4,493.3 72.9,493.1 78.9,492.5 83.4,491.7 84.4,491.4 86.9,490.8 87.4,490.5 88.4,490.2 88.9,489.8 90.9,488.7 91.9,488.1 92.4,487.6 93.9,486.6 94.4,486.0 94.9,485.1 95.4,484.6 95.9,483.9 96.9,483.5 97.4,482.8 97.9,482.7 98.4,481.7 99.4,481.5 100.4,481.0 101.4,479.2 101.9,479.1 102.9,479.4 103.4,479.1 103.9,478.5 104.4,477.5 105.9,475.1 106.4,475.1 106.9,474.3 107.4,473.9 107.9,473.0 108.4,473.1 108.9,471.5 109.4,472.0 109.9,470.9 110.4,470.5 110.9,469.2 111.4,469.4 111.9,467.8 112.4,468.5 112.9,467.0 113.4,466.1 113.9,465.8 114.4,466.1 115.4,465.1 116.4,465.1 116.9,463.4 117.4,463.1 117.9,463.5 118.4,462.8 118.9,462.3 119.4,463.3 119.9,462.7 120.4,462.5 120.9,463.7 121.4,464.0 121.9,463.1 122.4,463.7 122.9,465.2 123.9,466.6 124.9,467.3 125.4,469.6 125.9,471.3 126.4,471.9 126.9,473.5 128.4,476.7 128.9,477.0 129.4,478.4 129.9,478.9 130.4,479.2 130.9,480.8 131.4,481.3 131.9,482.1 132.4,483.3 132.9,483.6 133.4,484.3 133.9,485.2 134.4,485.6 134.9,486.6 135.9,487.3 136.4,488.1 136.9,488.3 137.9,489.0 138.4,489.6 140.9,491.2 145.4,492.5 151.9,493.3 158.4,493.5 164.9,493.6 171.4,493.6 177.9,493.6 184.4,493.6 190.9,493.6 197.4,493.6 203.4,493.6" fill="#14a0a0" fill-opacity="0.72" stroke="#14a0a0" stroke-width="0.5" stroke-opacity="0.45" stroke-linejoin="round"/>
<polyline points="74.4,492.9 78.9,492.5 83.4,491.7 84.4,491.4 86.9,490.8 87.4,490.5 88.4,490.2 88.9,489.8 90.9,488.7 91.9,488.1 92.4,487.6 93.9,486.6 94.4,486.0 94.9,485.1 95.4,484.6 95.9,483.9 96.9,483.5 97.4,482.8 97.9,482.7 98.4,481.7 99.4,481.5 100.4,481.0 101.4,479.2 101.9,479.1 102.9,479.4 103.4,479.1 103.9,478.5 104.4,477.5 105.9,475.1 106.4,475.1 106.9,474.3 107.4,473.9 107.9,473.0 108.4,473.1 108.9,471.5 109.4,472.0 109.9,470.9 110.4,470.5 110.9,469.2 111.4,469.4 111.9,467.8 112.4,468.5 112.9,467.0 113.4,466.1 113.9,465.8 114.4,466.1 115.4,465.1 116.4,465.1 116.9,463.4 117.4,463.1 117.9,463.5 118.4,462.8 118.9,462.3 119.4,463.3 119.9,462.7 120.4,462.5 120.9,463.7 121.4,464.0 121.9,463.1 122.4,463.7 122.9,465.2 123.9,466.6 124.9,467.3 125.4,469.6 125.9,471.3 126.4,471.9 126.9,473.5 128.4,476.7 128.9,477.0 129.4,478.4 129.9,478.9 130.4,479.2 130.9,480.8 131.4,481.3 131.9,482.1 132.4,483.3 132.9,483.6 133.4,484.3 133.9,485.2 134.4,485.6 134.9,486.6 135.9,487.3 136.4,488.1 136.9,488.3 137.9,489.0 138.4,489.6 140.9,491.2 145.4,492.5 147.9,492.9" fill="none" stroke="#108080" stroke-width="0.55" stroke-opacity="0.85" stroke-linejoin="round"/>
<polyline points="34.4,512.6 40.9,512.6 47.4,512.6 53.9,512.5 60.4,512.5 66.4,512.3 72.9,512.0 77.4,511.5 80.4,511.0 81.4,510.6 82.4,510.5 83.4,510.0 83.9,510.0 84.9,509.5 85.9,509.2 86.4,508.9 87.4,508.6 89.4,507.5 89.9,506.9 90.4,506.8 91.4,505.8 92.4,505.5 94.4,504.0 95.9,502.0 97.4,499.7 97.9,499.3 98.9,497.8 99.4,497.6 99.9,496.6 100.4,496.1 101.4,493.8 101.9,493.6 102.9,491.9 103.4,491.3 103.9,491.1 104.4,490.6 104.9,488.1 105.4,487.0 105.9,486.6 106.4,485.5 106.9,485.5 107.9,482.6 108.4,481.9 108.9,482.0 109.4,480.6 109.9,479.8 110.4,481.3 111.4,480.8 111.9,481.0 112.4,480.2 112.9,481.1 113.4,480.0 113.9,479.3 114.4,481.1 114.9,480.7 115.4,481.8 115.9,481.8 116.4,482.0 116.9,481.8 117.4,482.6 117.9,484.5 118.4,485.0 118.9,487.0 119.4,487.3 121.4,492.2 121.9,492.3 122.4,494.0 123.9,497.0 124.4,497.1 125.4,498.5 125.9,499.0 126.9,501.4 127.4,502.1 128.9,503.3 129.9,504.8 130.4,505.2 130.9,505.5 131.4,506.1 132.4,506.7 134.4,508.5 134.9,508.9 136.4,509.3 138.9,510.5 140.4,510.8 141.4,511.1 147.9,512.0 154.4,512.4 160.9,512.5 167.4,512.6 173.9,512.6 180.4,512.6 186.9,512.6 193.4,512.6 199.9,512.6 203.4,512.6" fill="#b010e6" fill-opacity="0.72" stroke="#b010e6" stroke-width="0.5" stroke-opacity="0.45" stroke-linejoin="round"/>
<polyline points="72.9,512.0 77.4,511.5 80.4,511.0 81.4,510.6 82.4,510.5 83.4,510.0 83.9,510.0 84.9,509.5 85.9,509.2 86.4,508.9 87.4,508.6 89.4,507.5 89.9,506.9 90.4,506.8 91.4,505.8 92.4,505.5 94.4,504.0 95.9,502.0 97.4,499.7 97.9,499.3 98.9,497.8 99.4,497.6 99.9,496.6 100.4,496.1 101.4,493.8 101.9,493.6 102.9,491.9 103.4,491.3 103.9,491.1 104.4,490.6 104.9,488.1 105.4,487.0 105.9,486.6 106.4,485.5 106.9,485.5 107.9,482.6 108.4,481.9 108.9,482.0 109.4,480.6 109.9,479.8 110.4,481.3 111.4,480.8 111.9,481.0 112.4,480.2 112.9,481.1 113.4,480.0 113.9,479.3 114.4,481.1 114.9,480.7 115.4,481.8 115.9,481.8 116.4,482.0 116.9,481.8 117.4,482.6 117.9,484.5 118.4,485.0 118.9,487.0 119.4,487.3 121.4,492.2 121.9,492.3 122.4,494.0 123.9,497.0 124.4,497.1 125.4,498.5 125.9,499.0 126.9,501.4 127.4,502.1 128.9,503.3 129.9,504.8 130.4,505.2 130.9,505.5 131.4,506.1 132.4,506.7 134.4,508.5 134.9,508.9 136.4,509.3 138.9,510.5 140.4,510.8 141.4,511.1 146.4,511.9" fill="none" stroke="#8c0cb8" stroke-width="0.55" stroke-opacity="0.85" stroke-linejoin="round"/>
<polyline points="34.4,531.4 40.9,531.4 47.4,531.3 53.9,531.3 60.4,531.1 66.4,530.9 72.9,530.4 77.9,529.6 80.4,529.0 80.9,528.8 81.9,528.5 82.9,528.0 83.4,527.9 84.4,527.4 85.4,527.2 85.9,526.9 86.4,526.5 86.9,526.2 88.4,524.8 88.9,524.7 89.4,524.6 90.4,523.9 91.9,522.0 92.4,521.5 92.9,520.8 93.9,520.2 94.4,519.5 94.9,519.4 96.4,517.3 96.9,517.6 97.4,517.4 97.9,516.1 98.4,516.2 99.4,515.0 99.9,514.7 100.9,512.9 101.9,513.5 102.4,512.3 102.9,512.1 104.4,512.1 104.9,511.0 105.4,510.6 105.9,509.7 106.4,508.3 106.9,508.2 107.4,506.9 107.9,507.7 108.4,506.5 109.4,504.4 109.9,505.5 111.4,503.3 111.9,503.0 112.4,503.1 112.9,501.4 113.4,500.4 113.9,500.2 114.4,499.2 114.9,499.6 115.4,500.8 115.9,499.8 116.4,500.7 116.9,499.4 117.4,499.0 117.9,499.9 118.9,501.1 119.4,501.2 119.9,499.5 120.4,500.8 120.9,500.2 121.4,502.1 121.9,503.0 122.4,503.6 122.9,504.7 123.4,504.5 123.9,506.4 124.4,507.5 125.4,510.6 125.9,510.9 126.4,512.2 127.4,513.9 128.4,517.0 129.4,517.7 129.9,519.3 130.4,520.1 130.9,520.4 131.9,521.7 132.4,522.6 132.9,523.1 133.4,524.2 133.9,524.8 134.4,525.1 136.4,527.1 137.4,527.5 138.4,528.3 142.9,530.0 149.4,531.0 155.9,531.3 162.4,531.4 168.9,531.4 175.4,531.4 181.9,531.4 188.4,531.4 194.9,531.4 201.4,531.4 203.4,531.4" fill="#d09890" fill-opacity="0.72" stroke="#d09890" stroke-width="0.5" stroke-opacity="0.45" stroke-linejoin="round"/>
<polyline points="68.9,530.7 75.4,530.0 77.9,529.6 80.4,529.0 80.9,528.8 81.9,528.5 82.9,528.0 83.4,527.9 84.4,527.4 85.4,527.2 85.9,526.9 86.4,526.5 86.9,526.2 88.4,524.8 88.9,524.7 89.4,524.6 90.4,523.9 91.9,522.0 92.4,521.5 92.9,520.8 93.9,520.2 94.4,519.5 94.9,519.4 96.4,517.3 96.9,517.6 97.4,517.4 97.9,516.1 98.4,516.2 99.4,515.0 99.9,514.7 100.9,512.9 101.9,513.5 102.4,512.3 102.9,512.1 104.4,512.1 104.9,511.0 105.4,510.6 105.9,509.7 106.4,508.3 106.9,508.2 107.4,506.9 107.9,507.7 108.4,506.5 109.4,504.4 109.9,505.5 111.4,503.3 111.9,503.0 112.4,503.1 112.9,501.4 113.4,500.4 113.9,500.2 114.4,499.2 114.9,499.6 115.4,500.8 115.9,499.8 116.4,500.7 116.9,499.4 117.4,499.0 117.9,499.9 118.9,501.1 119.4,501.2 119.9,499.5 120.4,500.8 120.9,500.2 121.4,502.1 121.9,503.0 122.4,503.6 122.9,504.7 123.4,504.5 123.9,506.4 124.4,507.5 125.4,510.6 125.9,510.9 126.4,512.2 127.4,513.9 128.4,517.0 129.4,517.7 129.9,519.3 130.4,520.1 130.9,520.4 131.9,521.7 132.4,522.6 132.9,523.1 133.4,524.2 133.9,524.8 134.4,525.1 136.4,527.1 137.4,527.5 138.4,528.3 142.9,530.0 146.9,530.8" fill="none" stroke="#a67973" stroke-width="0.55" stroke-opacity="0.85" stroke-linejoin="round"/>
<polyline points="34.4,550.0 40.9,550.0 47.4,549.9 53.9,549.8 60.4,549.7 66.4,549.3 72.9,548.5 76.4,547.7 77.9,547.2 78.4,547.2 78.9,546.9 79.9,546.7 80.4,546.4 80.9,546.4 82.4,545.4 83.9,544.9 84.4,544.5 85.4,544.2 85.9,543.5 86.4,543.1 86.9,542.9 87.9,542.0 88.4,541.2 88.9,540.8 89.9,539.3 90.9,538.4 92.4,535.7 92.9,535.1 93.4,533.9 93.9,533.3 94.4,533.1 95.4,530.7 95.9,530.3 96.4,530.0 97.4,528.5 97.9,529.5 98.4,529.0 98.9,529.4 99.4,528.8 99.9,528.4 100.4,527.6 101.4,525.3 102.4,526.0 102.9,523.9 103.4,523.0 103.9,522.7 104.4,523.2 104.9,523.4 105.4,521.3 105.9,520.8 106.4,519.6 106.9,519.0 107.9,518.0 108.4,518.9 108.9,519.3 109.4,518.9 109.9,517.8 110.4,517.1 110.9,516.9 111.4,517.2 111.9,517.7 112.4,518.8 112.9,518.4 113.4,518.7 113.9,519.5 114.4,519.9 114.9,520.1 115.4,520.9 115.9,523.7 116.4,525.3 117.4,527.1 117.9,528.9 118.4,529.4 118.9,531.0 119.4,532.0 119.9,534.0 120.9,536.6 121.4,537.0 121.9,537.9 122.4,538.5 123.9,541.4 125.4,543.6 125.9,543.9 126.9,544.9 127.4,545.2 129.4,546.6 129.9,546.8 130.4,547.1 131.4,547.5 132.4,547.7 132.9,547.7 136.9,548.4 143.4,548.8 144.4,548.8 150.9,549.2 157.4,549.6 163.9,549.8 170.4,549.9 176.9,550.0 183.4,550.0 189.9,550.0 196.4,550.0 202.9,550.0 203.4,550.0" fill="#3c7010" fill-opacity="0.78" stroke="#3c7010" stroke-width="0.5" stroke-opacity="0.45" stroke-linejoin="round"/>
<polyline points="65.9,549.3 72.4,548.6 76.4,547.7 77.9,547.2 78.4,547.2 78.9,546.9 79.9,546.7 80.4,546.4 80.9,546.4 82.4,545.4 83.9,544.9 84.4,544.5 85.4,544.2 85.9,543.5 86.4,543.1 86.9,542.9 87.9,542.0 88.4,541.2 88.9,540.8 89.9,539.3 90.9,538.4 92.4,535.7 92.9,535.1 93.4,533.9 93.9,533.3 94.4,533.1 95.4,530.7 95.9,530.3 96.4,530.0 97.4,528.5 97.9,529.5 98.4,529.0 98.9,529.4 99.4,528.8 99.9,528.4 100.4,527.6 101.4,525.3 102.4,526.0 102.9,523.9 103.4,523.0 103.9,522.7 104.4,523.2 104.9,523.4 105.4,521.3 105.9,520.8 106.4,519.6 106.9,519.0 107.9,518.0 108.4,518.9 108.9,519.3 109.4,518.9 109.9,517.8 110.4,517.1 110.9,516.9 111.4,517.2 111.9,517.7 112.4,518.8 112.9,518.4 113.4,518.7 113.9,519.5 114.4,519.9 114.9,520.1 115.4,520.9 115.9,523.7 116.4,525.3 117.4,527.1 117.9,528.9 118.4,529.4 118.9,531.0 119.4,532.0 119.9,534.0 120.9,536.6 121.4,537.0 121.9,537.9 122.4,538.5 123.9,541.4 125.4,543.6 125.9,543.9 126.9,544.9 127.4,545.2 129.4,546.6 129.9,546.8 130.4,547.1 131.4,547.5 132.4,547.7 132.9,547.7 136.9,548.4 143.4,548.8 144.4,548.8 150.9,549.2 152.4,549.3" fill="none" stroke="#30590c" stroke-width="0.55" stroke-opacity="0.85" stroke-linejoin="round"/>
<polyline points="34.4,569.0 40.9,569.0 47.4,569.0 53.9,569.0 60.4,568.9 66.4,568.8 72.9,568.6 79.4,568.1 82.9,567.8 88.4,566.9 90.4,566.3 90.9,566.1 92.9,565.8 93.9,565.4 94.4,565.3 94.9,565.0 95.4,565.0 95.9,564.9 96.9,564.3 97.4,564.2 97.9,564.3 98.9,563.8 99.4,563.8 99.9,563.6 100.4,563.2 100.9,563.3 101.9,563.0 102.4,562.5 102.9,562.5 103.9,561.9 104.4,562.1 104.9,561.8 105.4,561.8 105.9,561.3 106.9,561.1 107.9,560.4 108.4,560.7 108.9,560.7 110.9,559.9 111.4,559.3 111.9,559.2 112.4,558.8 112.9,558.8 113.4,559.0 113.9,558.8 114.4,558.9 114.9,558.5 115.4,558.6 115.9,557.9 116.4,557.9 116.9,557.3 117.4,557.4 117.9,557.4 118.4,557.1 119.4,555.6 119.9,555.1 120.4,554.8 120.9,554.9 121.4,554.5 121.9,554.4 122.4,552.8 122.9,552.8 123.4,551.6 123.9,551.6 124.4,550.9 124.9,549.7 125.9,549.0 126.4,547.0 126.9,546.7 127.4,546.6 128.4,543.1 128.9,542.7 129.4,543.2 129.9,542.4 130.4,541.3 130.9,541.3 131.4,540.8 131.9,539.6 132.4,539.1 133.4,537.7 133.9,538.4 134.4,537.8 134.9,539.7 135.4,540.0 135.9,540.1 136.4,540.0 137.4,542.7 137.9,543.0 138.4,544.5 138.9,546.6 139.4,547.5 139.9,548.8 140.9,550.1 141.4,552.1 141.9,553.2 142.4,553.6 143.4,555.4 143.9,556.8 144.4,557.4 147.4,562.6 148.4,563.8 149.4,564.3 152.4,566.4 155.4,567.6 161.9,568.6 168.4,568.9 174.9,569.0 181.4,569.0 187.9,569.0 194.4,569.0 200.9,569.0 203.4,569.0" fill="#40e818" fill-opacity="0.66" stroke="#40e818" stroke-width="0.5" stroke-opacity="0.45" stroke-linejoin="round"/>
<polyline points="76.9,568.3 82.9,567.8 88.4,566.9 90.4,566.3 90.9,566.1 92.9,565.8 93.9,565.4 94.4,565.3 94.9,565.0 95.4,565.0 95.9,564.9 96.9,564.3 97.4,564.2 97.9,564.3 98.9,563.8 99.4,563.8 99.9,563.6 100.4,563.2 100.9,563.3 101.9,563.0 102.4,562.5 102.9,562.5 103.9,561.9 104.4,562.1 104.9,561.8 105.4,561.8 105.9,561.3 106.9,561.1 107.9,560.4 108.4,560.7 108.9,560.7 110.9,559.9 111.4,559.3 111.9,559.2 112.4,558.8 112.9,558.8 113.4,559.0 113.9,558.8 114.4,558.9 114.9,558.5 115.4,558.6 115.9,557.9 116.4,557.9 116.9,557.3 117.4,557.4 117.9,557.4 118.4,557.1 119.4,555.6 119.9,555.1 120.4,554.8 120.9,554.9 121.4,554.5 121.9,554.4 122.4,552.8 122.9,552.8 123.4,551.6 123.9,551.6 124.4,550.9 124.9,549.7 125.9,549.0 126.4,547.0 126.9,546.7 127.4,546.6 128.4,543.1 128.9,542.7 129.4,543.2 129.9,542.4 130.4,541.3 130.9,541.3 131.4,540.8 131.9,539.6 132.4,539.1 133.4,537.7 133.9,538.4 134.4,537.8 134.9,539.7 135.4,540.0 135.9,540.1 136.4,540.0 137.4,542.7 137.9,543.0 138.4,544.5 138.9,546.6 139.4,547.5 139.9,548.8 140.9,550.1 141.4,552.1 141.9,553.2 142.4,553.6 143.4,555.4 143.9,556.8 144.4,557.4 147.4,562.6 148.4,563.8 149.4,564.3 152.4,566.4 155.4,567.6 158.9,568.3" fill="none" stroke="#33b913" stroke-width="0.55" stroke-opacity="0.85" stroke-linejoin="round"/>
<polyline points="34.4,587.4 40.9,587.4 47.4,587.4 53.9,587.4 60.4,587.4 66.4,587.4 72.9,587.4 79.4,587.2 85.9,586.8 91.4,586.0 94.9,584.9 96.4,584.1 96.9,584.0 98.4,583.3 98.9,582.8 99.4,582.6 99.9,582.4 100.4,582.0 102.4,581.0 102.9,581.0 103.4,580.4 103.9,580.3 104.4,580.0 104.9,579.9 105.4,579.6 106.4,579.6 106.9,579.4 107.4,578.7 108.4,578.3 108.9,578.6 109.4,578.5 110.4,577.9 110.9,578.0 111.4,578.3 111.9,578.2 112.4,577.6 112.9,577.4 113.4,577.4 113.9,577.5 115.4,577.1 115.9,576.6 116.4,576.5 116.9,576.7 117.9,575.6 118.4,575.7 118.9,575.2 119.4,574.2 121.4,572.3 121.9,571.0 122.4,570.9 122.9,570.2 123.4,569.9 124.9,566.2 125.4,564.6 125.9,564.5 126.4,564.1 127.4,562.3 127.9,560.1 128.4,560.1 128.9,559.2 129.4,557.1 129.9,557.0 130.9,556.3 131.9,556.2 132.4,554.8 132.9,556.2 133.4,556.9 133.9,555.5 134.4,555.2 134.9,556.1 135.9,557.4 136.4,558.6 136.9,559.2 137.4,560.1 137.9,560.5 138.4,561.8 138.9,562.4 139.4,564.2 139.9,563.9 140.4,566.0 140.9,566.7 141.4,567.8 141.9,569.2 142.4,569.1 143.4,571.7 144.4,573.7 144.9,574.2 145.4,574.4 145.9,575.0 146.4,576.3 147.9,578.1 148.9,579.9 149.4,580.5 149.9,580.6 150.9,581.8 151.4,582.1 152.4,582.9 152.9,583.0 153.4,583.4 154.4,583.8 156.4,584.9 158.4,585.6 164.9,586.8 171.4,587.2 177.9,587.3 184.4,587.4 190.9,587.4 197.4,587.4 203.4,587.4" fill="#ff9428" fill-opacity="0.66" stroke="#ff9428" stroke-width="0.5" stroke-opacity="0.45" stroke-linejoin="round"/>
<polyline points="86.9,586.7 91.4,586.0 94.9,584.9 96.4,584.1 96.9,584.0 98.4,583.3 98.9,582.8 99.4,582.6 99.9,582.4 100.4,582.0 102.4,581.0 102.9,581.0 103.4,580.4 103.9,580.3 104.4,580.0 104.9,579.9 105.4,579.6 106.4,579.6 106.9,579.4 107.4,578.7 108.4,578.3 108.9,578.6 109.4,578.5 110.4,577.9 110.9,578.0 111.4,578.3 111.9,578.2 112.4,577.6 112.9,577.4 113.4,577.4 113.9,577.5 115.4,577.1 115.9,576.6 116.4,576.5 116.9,576.7 117.9,575.6 118.4,575.7 118.9,575.2 119.4,574.2 121.4,572.3 121.9,571.0 122.4,570.9 122.9,570.2 123.4,569.9 124.9,566.2 125.4,564.6 125.9,564.5 126.4,564.1 127.4,562.3 127.9,560.1 128.4,560.1 128.9,559.2 129.4,557.1 129.9,557.0 130.9,556.3 131.9,556.2 132.4,554.8 132.9,556.2 133.4,556.9 133.9,555.5 134.4,555.2 134.9,556.1 135.9,557.4 136.4,558.6 136.9,559.2 137.4,560.1 137.9,560.5 138.4,561.8 138.9,562.4 139.4,564.2 139.9,563.9 140.4,566.0 140.9,566.7 141.4,567.8 141.9,569.2 142.4,569.1 143.4,571.7 144.4,573.7 144.9,574.2 145.4,574.4 145.9,575.0 146.4,576.3 147.9,578.1 148.9,579.9 149.4,580.5 149.9,580.6 150.9,581.8 151.4,582.1 152.4,582.9 152.9,583.0 153.4,583.4 154.4,583.8 156.4,584.9 158.4,585.6 164.4,586.7" fill="none" stroke="#cc7620" stroke-width="0.55" stroke-opacity="0.85" stroke-linejoin="round"/>
<polyline points="34.4,606.4 40.9,606.4 47.4,606.4 53.9,606.3 60.4,606.2 66.4,606.0 72.4,605.2 74.9,604.6 77.9,603.6 79.9,602.7 80.4,602.1 81.9,601.3 82.4,600.8 82.9,600.5 83.4,600.1 85.4,597.3 85.9,596.9 87.4,594.3 87.9,593.8 88.4,592.8 88.9,592.7 89.4,592.0 90.9,588.4 91.4,587.6 91.9,587.2 92.9,585.3 93.4,583.4 93.9,582.8 94.4,581.0 94.9,580.0 95.4,579.3 95.9,578.1 96.4,576.4 96.9,576.5 97.4,576.9 97.9,574.9 98.4,575.2 98.9,573.6 99.9,574.2 100.4,573.2 100.9,574.8 101.4,573.8 101.9,575.0 102.9,573.9 103.4,573.9 103.9,575.2 104.4,574.4 104.9,575.6 105.9,579.2 106.4,581.5 106.9,582.4 107.9,585.2 108.4,585.9 109.4,589.4 109.9,590.0 110.4,591.4 110.9,591.9 111.9,593.4 112.4,593.9 112.9,595.0 114.9,597.4 115.4,597.8 115.9,597.8 116.4,597.9 116.9,598.4 117.4,598.6 117.9,599.4 118.4,599.7 119.4,599.7 119.9,600.3 120.4,600.2 120.9,600.3 121.4,600.8 121.9,601.0 122.4,600.9 123.4,601.5 124.9,601.6 125.4,601.9 126.4,602.2 127.9,602.1 128.4,602.4 128.9,602.6 129.4,602.5 129.9,602.7 130.9,602.7 131.9,603.1 132.4,603.0 133.9,603.2 134.9,603.5 135.4,603.5 137.9,603.8 138.9,603.7 139.9,603.9 140.4,603.9 144.4,604.4 146.9,604.5 150.4,605.0 156.9,605.4 163.4,605.7 169.9,606.0 176.4,606.1 182.9,606.2 189.4,606.3 195.9,606.3 202.4,606.4 203.4,606.4" fill="#10c4ff" fill-opacity="0.66" stroke="#10c4ff" stroke-width="0.5" stroke-opacity="0.45" stroke-linejoin="round"/>
<polyline points="68.9,605.7 72.4,605.2 74.9,604.6 77.9,603.6 79.9,602.7 80.4,602.1 81.9,601.3 82.4,600.8 82.9,600.5 83.4,600.1 85.4,597.3 85.9,596.9 87.4,594.3 87.9,593.8 88.4,592.8 88.9,592.7 89.4,592.0 90.9,588.4 91.4,587.6 91.9,587.2 92.9,585.3 93.4,583.4 93.9,582.8 94.4,581.0 94.9,580.0 95.4,579.3 95.9,578.1 96.4,576.4 96.9,576.5 97.4,576.9 97.9,574.9 98.4,575.2 98.9,573.6 99.9,574.2 100.4,573.2 100.9,574.8 101.4,573.8 101.9,575.0 102.9,573.9 103.4,573.9 103.9,575.2 104.4,574.4 104.9,575.6 105.9,579.2 106.4,581.5 106.9,582.4 107.9,585.2 108.4,585.9 109.4,589.4 109.9,590.0 110.4,591.4 110.9,591.9 111.9,593.4 112.4,593.9 112.9,595.0 114.9,597.4 115.4,597.8 115.9,597.8 116.4,597.9 116.9,598.4 117.4,598.6 117.9,599.4 118.4,599.7 119.4,599.7 119.9,600.3 120.4,600.2 120.9,600.3 121.4,600.8 121.9,601.0 122.4,600.9 123.4,601.5 124.9,601.6 125.4,601.9 126.4,602.2 127.9,602.1 128.4,602.4 128.9,602.6 129.4,602.5 129.9,602.7 130.9,602.7 131.9,603.1 132.4,603.0 133.9,603.2 134.9,603.5 135.4,603.5 137.9,603.8 138.9,603.7 139.9,603.9 140.4,603.9 144.4,604.4 146.9,604.5 150.4,605.0 156.9,605.4 162.4,605.7" fill="none" stroke="#0c9ccc" stroke-width="0.55" stroke-opacity="0.85" stroke-linejoin="round"/>
<polyline points="34.4,625.6 40.9,625.6 47.4,625.6 53.9,625.6 60.4,625.4 66.4,625.1 69.4,624.6 73.4,623.0 75.4,622.0 77.4,620.3 77.9,620.0 78.9,619.1 79.9,617.9 80.9,616.2 81.4,614.8 82.4,613.7 83.4,610.6 84.9,607.9 85.9,605.9 86.4,605.1 86.9,602.5 87.9,599.2 88.4,599.4 88.9,597.8 89.4,597.9 89.9,595.9 90.4,596.0 90.9,594.3 91.4,594.3 91.9,591.9 92.4,590.7 92.9,591.2 93.4,590.1 93.9,589.9 94.4,591.6 94.9,590.8 95.4,590.7 95.9,592.7 96.4,593.1 97.4,596.8 97.9,597.4 98.4,599.1 98.9,599.2 99.4,600.2 99.9,602.4 100.4,603.8 100.9,605.8 101.9,607.8 102.9,609.6 103.9,612.5 104.4,613.4 104.9,614.6 105.4,615.4 105.9,616.6 106.4,617.3 106.9,618.4 107.9,619.8 108.9,620.8 109.4,621.2 109.9,621.8 110.9,622.6 113.9,624.1 115.9,624.7 122.4,625.4 128.9,625.6 135.4,625.6 141.9,625.6 148.4,625.6 154.9,625.6 161.4,625.6 167.9,625.6 174.4,625.6 180.9,625.6 187.4,625.6 193.9,625.6 200.4,625.6 203.4,625.6" fill="#ff4a50" fill-opacity="0.7" stroke="#ff4a50" stroke-width="0.5" stroke-opacity="0.45" stroke-linejoin="round"/>
<polyline points="67.4,624.9 71.4,623.9 74.9,622.3 75.9,621.6 77.4,620.3 77.9,620.0 78.9,619.1 79.9,617.9 80.9,616.2 81.4,614.8 82.4,613.7 83.4,610.6 84.9,607.9 85.9,605.9 86.4,605.1 86.9,602.5 87.9,599.2 88.4,599.4 88.9,597.8 89.4,597.9 89.9,595.9 90.4,596.0 90.9,594.3 91.4,594.3 91.9,591.9 92.4,590.7 92.9,591.2 93.4,590.1 93.9,589.9 94.4,591.6 94.9,590.8 95.4,590.7 95.9,592.7 96.4,593.1 97.4,596.8 97.9,597.4 98.4,599.1 98.9,599.2 99.4,600.2 99.9,602.4 100.4,603.8 100.9,605.8 101.9,607.8 102.9,609.6 103.9,612.5 104.4,613.4 104.9,614.6 105.4,615.4 105.9,616.6 106.4,617.3 106.9,618.4 107.9,619.8 108.9,620.8 109.4,621.2 109.9,621.8 110.9,622.6 113.9,624.1 115.9,624.7 117.4,625.0" fill="none" stroke="#cc3b40" stroke-width="0.55" stroke-opacity="0.85" stroke-linejoin="round"/>
</g>
<rect x="34.40" y="453.40" width="169.20" height="172.20" fill="none" stroke="#8a8a8a" stroke-width="0.8"/>
<path d="M35.11,625.60v1.8 M39.29,625.60v1.8 M42.53,625.60v1.8 M45.18,625.60v1.8 M47.42,625.60v1.8 M49.36,625.60v1.8 M51.07,625.60v1.8 M52.60,625.60v3.4 M62.67,625.60v1.8 M68.56,625.60v1.8 M72.74,625.60v1.8 M75.98,625.60v1.8 M78.63,625.60v1.8 M80.87,625.60v1.8 M82.81,625.60v1.8 M84.52,625.60v1.8 M86.05,625.60v3.4 M96.12,625.60v1.8 M102.01,625.60v1.8 M106.19,625.60v1.8 M109.43,625.60v1.8 M112.08,625.60v1.8 M114.32,625.60v1.8 M116.26,625.60v1.8 M117.97,625.60v1.8 M119.50,625.60v3.4 M129.57,625.60v1.8 M135.46,625.60v1.8 M139.64,625.60v1.8 M142.88,625.60v1.8 M145.53,625.60v1.8 M147.77,625.60v1.8 M149.71,625.60v1.8 M151.42,625.60v1.8 M152.95,625.60v3.4 M163.02,625.60v1.8 M168.91,625.60v1.8 M173.09,625.60v1.8 M176.33,625.60v1.8 M178.98,625.60v1.8 M181.22,625.60v1.8 M183.16,625.60v1.8 M184.87,625.60v1.8 M186.40,625.60v3.4 M196.47,625.60v1.8 M202.36,625.60v1.8" stroke="#111" stroke-width="0.75" fill="none"/>
<text class="f-sans" x="50.20" y="641.20" font-size="4.6" fill="#111">10<tspan dy="-3.0" dx="0.5" font-size="4.6">1</tspan></text>
<text class="f-sans" x="83.60" y="641.20" font-size="4.6" fill="#111">10<tspan dy="-3.0" dx="0.5" font-size="4.6">2</tspan></text>
<text class="f-sans" x="117.10" y="641.20" font-size="4.6" fill="#111">10<tspan dy="-3.0" dx="0.5" font-size="4.6">3</tspan></text>
<text class="f-sans" x="150.40" y="641.20" font-size="4.6" fill="#111">10<tspan dy="-3.0" dx="0.5" font-size="4.6">4</tspan></text>
<text class="f-sans" x="184.00" y="641.20" font-size="4.6" fill="#111">10<tspan dy="-3.0" dx="0.5" font-size="4.6">5</tspan></text>
<text class="f-serif" x="178.80" y="489.00" font-size="10" font-weight="bold" text-anchor="middle" fill="#231f20" letter-spacing="0.5">ZY3+ZY8</text>
<text class="f-serif" x="178.80" y="509.40" font-size="10" font-weight="bold" text-anchor="middle" fill="#231f20" letter-spacing="0.5">ZY3+ZY7</text>
<text class="f-serif" x="178.80" y="529.00" font-size="10" font-weight="bold" text-anchor="middle" fill="#231f20" letter-spacing="0.5">ZY3+ZY5</text>
<text class="f-serif" x="178.80" y="546.20" font-size="10" font-weight="bold" text-anchor="middle" fill="#231f20" letter-spacing="0.5">ZY3+ZY2</text>
<text class="f-serif" x="176.00" y="566.00" font-size="10" font-weight="bold" text-anchor="middle" fill="#231f20" letter-spacing="0.5">ZY3+Lib</text>
<text class="f-serif" x="180.00" y="585.20" font-size="10" font-weight="bold" text-anchor="middle" fill="#231f20" letter-spacing="0.5">ZY3</text>
<text class="f-serif" x="179.80" y="602.20" font-size="10" font-weight="bold" text-anchor="middle" fill="#231f20" letter-spacing="0.5">Lib</text>
<text class="f-serif" x="181.80" y="621.20" font-size="10" font-weight="bold" text-anchor="middle" fill="#231f20" letter-spacing="0.5">Cells</text>
<text class="f-serif" x="29.20" y="539.50" font-size="10" font-weight="bold" text-anchor="middle" fill="#231f20" letter-spacing="0.5" transform="rotate(-90 29.20 539.50)">Counts</text>
<text class="f-serif" x="123.80" y="650.50" font-size="10" font-weight="bold" text-anchor="middle" fill="#231f20" letter-spacing="0.5">FITC</text>
<path d="M66.20,789.04V787.85M63.10,787.85h6.2" stroke="#000" stroke-width="1.3" fill="none"/>
<rect x="59.95" y="789.04" width="12.50" height="13.56" fill="#ff0000" stroke="#000" stroke-width="1.3"/>
<path d="M66.20,802.60v5" stroke="#000" stroke-width="1.3"/>
<path d="M87.90,683.00V669.44M84.80,669.44h6.2" stroke="#000" stroke-width="1.3" fill="none"/>
<rect x="81.65" y="683.00" width="12.50" height="119.60" fill="#0000ff" stroke="#000" stroke-width="1.3"/>
<path d="M87.90,802.60v5" stroke="#000" stroke-width="1.3"/>
<path d="M109.40,699.00V698.03M106.30,698.03h6.2" stroke="#000" stroke-width="1.3" fill="none"/>
<rect x="103.15" y="699.00" width="12.50" height="103.60" fill="#ff6600" stroke="#000" stroke-width="1.3"/>
<path d="M109.40,802.60v5" stroke="#000" stroke-width="1.3"/>
<path d="M131.00,784.16V776.67M127.90,776.67h6.2" stroke="#000" stroke-width="1.3" fill="none"/>
<rect x="124.75" y="784.16" width="12.50" height="18.44" fill="#aa0ae0" stroke="#000" stroke-width="1.3"/>
<path d="M131.00,802.60v5" stroke="#000" stroke-width="1.3"/>
<path d="M152.50,768.16V764.63M149.40,764.63h6.2" stroke="#000" stroke-width="1.3" fill="none"/>
<rect x="146.25" y="768.16" width="12.50" height="34.44" fill="#008000" stroke="#000" stroke-width="1.3"/>
<path d="M152.50,802.60v5" stroke="#000" stroke-width="1.3"/>
<path d="M174.00,779.55V770.33M170.90,770.33h6.2" stroke="#000" stroke-width="1.3" fill="none"/>
<rect x="167.75" y="779.55" width="12.50" height="23.05" fill="#05505f" stroke="#000" stroke-width="1.3"/>
<path d="M174.00,802.60v5" stroke="#000" stroke-width="1.3"/>
<path d="M195.60,756.77V749.61M192.50,749.61h6.2" stroke="#000" stroke-width="1.3" fill="none"/>
<rect x="189.35" y="756.77" width="12.50" height="45.83" fill="#a0054f" stroke="#000" stroke-width="1.3"/>
<path d="M195.60,802.60v5" stroke="#000" stroke-width="1.3"/>
<path d="M51.80,666.50V802.60H211.30" stroke="#000" stroke-width="1.4" fill="none"/>
<path d="M51.80,802.60h-5" stroke="#000" stroke-width="1.3"/>
<text class="f-sans" x="44.60" y="805.66" font-size="8.5" font-weight="bold" text-anchor="end" fill="#1a1a1a" stroke="#1a1a1a" stroke-width="0.22">0</text>
<path d="M51.80,775.48h-5" stroke="#000" stroke-width="1.3"/>
<text class="f-sans" x="44.60" y="778.54" font-size="8.5" font-weight="bold" text-anchor="end" fill="#1a1a1a" stroke="#1a1a1a" stroke-width="0.22">500</text>
<path d="M51.80,748.36h-5" stroke="#000" stroke-width="1.3"/>
<text class="f-sans" x="44.60" y="751.42" font-size="8.5" font-weight="bold" text-anchor="end" fill="#1a1a1a" stroke="#1a1a1a" stroke-width="0.22">1000</text>
<path d="M51.80,721.24h-5" stroke="#000" stroke-width="1.3"/>
<text class="f-sans" x="44.60" y="724.30" font-size="8.5" font-weight="bold" text-anchor="end" fill="#1a1a1a" stroke="#1a1a1a" stroke-width="0.22">1500</text>
<path d="M51.80,694.12h-5" stroke="#000" stroke-width="1.3"/>
<text class="f-sans" x="44.60" y="697.18" font-size="8.5" font-weight="bold" text-anchor="end" fill="#1a1a1a" stroke="#1a1a1a" stroke-width="0.22">2000</text>
<path d="M51.80,667.00h-5" stroke="#000" stroke-width="1.3"/>
<text class="f-sans" x="44.60" y="670.06" font-size="8.5" font-weight="bold" text-anchor="end" fill="#1a1a1a" stroke="#1a1a1a" stroke-width="0.22">2500</text>
<text class="f-serif" x="70.80" y="814.00" font-size="10" font-weight="bold" text-anchor="end" fill="#231f20" letter-spacing="0.5" transform="rotate(-45 70.80 814.00)">Lib</text>
<text class="f-serif" x="92.50" y="814.00" font-size="10" font-weight="bold" text-anchor="end" fill="#231f20" letter-spacing="0.5" transform="rotate(-45 92.50 814.00)">ZY3</text>
<text class="f-serif" x="114.00" y="814.00" font-size="10" font-weight="bold" text-anchor="end" fill="#231f20" letter-spacing="0.5" transform="rotate(-45 114.00 814.00)">ZY3+Lib</text>
<text class="f-serif" x="135.60" y="814.00" font-size="10" font-weight="bold" text-anchor="end" fill="#231f20" letter-spacing="0.5" transform="rotate(-45 135.60 814.00)">ZY3+ZY2</text>
<text class="f-serif" x="157.10" y="814.00" font-size="10" font-weight="bold" text-anchor="end" fill="#231f20" letter-spacing="0.5" transform="rotate(-45 157.10 814.00)">ZY3+ZY5</text>
<text class="f-serif" x="178.60" y="814.00" font-size="10" font-weight="bold" text-anchor="end" fill="#231f20" letter-spacing="0.5" transform="rotate(-45 178.60 814.00)">ZY3+ZY7</text>
<text class="f-serif" x="200.20" y="814.00" font-size="10" font-weight="bold" text-anchor="end" fill="#231f20" letter-spacing="0.5" transform="rotate(-45 200.20 814.00)">ZY3+ZY8</text>
<text class="f-serif" x="21.30" y="728.00" font-size="9.85" font-weight="bold" text-anchor="middle" fill="#231f20" letter-spacing="0.34" transform="rotate(-90 21.30 728.00)">Mean fluorescence intensity</text>
<defs>
<filter id="b1" x="-30%" y="-30%" width="160%" height="160%"><feGaussianBlur stdDeviation="0.9"/></filter>
<filter id="b05" x="-30%" y="-30%" width="160%" height="160%"><feGaussianBlur stdDeviation="0.5"/></filter>
<filter id="b2" x="-50%" y="-50%" width="200%" height="200%"><feGaussianBlur stdDeviation="2.2"/></filter>
<filter id="rough" x="-20%" y="-20%" width="140%" height="140%"><feTurbulence type="fractalNoise" baseFrequency="0.35" numOctaves="2" seed="4" result="n"/><feDisplacementMap in="SourceGraphic" in2="n" scale="2.6" xChannelSelector="R" yChannelSelector="G"/><feGaussianBlur stdDeviation="0.35"/></filter>
<linearGradient id="dic1" x1="0.2" y1="1" x2="0.72" y2="0"><stop offset="0" stop-color="#383838"/><stop offset="0.55" stop-color="#565656"/><stop offset="1" stop-color="#767676"/></linearGradient>
<linearGradient id="dic2" x1="0.1" y1="1" x2="0.8" y2="0"><stop offset="0" stop-color="#434343"/><stop offset="0.5" stop-color="#646464"/><stop offset="1" stop-color="#888"/></linearGradient>
<linearGradient id="dic3" x1="0.1" y1="1" x2="0.8" y2="0"><stop offset="0" stop-color="#4a4a4a"/><stop offset="0.5" stop-color="#676767"/><stop offset="1" stop-color="#868686"/></linearGradient>
<linearGradient id="dic4" x1="0.1" y1="1" x2="0.8" y2="0"><stop offset="0" stop-color="#4c4c4c"/><stop offset="0.5" stop-color="#6a6a6a"/><stop offset="1" stop-color="#888"/></linearGradient>
</defs>
<rect x="249.0" y="464.0" width="78.5" height="78.1" fill="url(#dic1)"/>
<g filter="url(#b05)" opacity="1.0">
<ellipse cx="274.5" cy="486.5" rx="7.5" ry="6.5" transform="rotate(-15 274.5 486.5)" fill="#a0a0a0" fill-opacity="0.09" stroke="#303030" stroke-opacity="0.5" stroke-width="0.75"/>
<ellipse cx="274.0" cy="486.0" rx="6.6" ry="5.6" transform="rotate(-15 274.5 486.5)" fill="none" stroke="#a0a0a0" stroke-opacity="0.40" stroke-width="0.55"/>
<ellipse cx="291.5" cy="488.0" rx="6.8" ry="6.3" transform="rotate(10 291.5 488.0)" fill="#a0a0a0" fill-opacity="0.09" stroke="#303030" stroke-opacity="0.5" stroke-width="0.75"/>
<ellipse cx="291.0" cy="487.5" rx="5.9" ry="5.4" transform="rotate(10 291.5 488.0)" fill="none" stroke="#a0a0a0" stroke-opacity="0.40" stroke-width="0.55"/>
<ellipse cx="274.0" cy="499.5" rx="6" ry="5.6" transform="rotate(0 274.0 499.5)" fill="#a0a0a0" fill-opacity="0.09" stroke="#303030" stroke-opacity="0.5" stroke-width="0.75"/>
<ellipse cx="273.5" cy="499.0" rx="5.1" ry="4.7" transform="rotate(0 274.0 499.5)" fill="none" stroke="#a0a0a0" stroke-opacity="0.40" stroke-width="0.55"/>
<ellipse cx="294.5" cy="499.5" rx="4.6" ry="4.6" transform="rotate(0 294.5 499.5)" fill="#a0a0a0" fill-opacity="0.09" stroke="#303030" stroke-opacity="0.5" stroke-width="0.75"/>
<ellipse cx="294.0" cy="499.0" rx="3.7" ry="3.7" transform="rotate(0 294.5 499.5)" fill="none" stroke="#a0a0a0" stroke-opacity="0.40" stroke-width="0.55"/>
<ellipse cx="305.2" cy="501.0" rx="4.2" ry="7.6" transform="rotate(0 305.2 501.0)" fill="#a0a0a0" fill-opacity="0.09" stroke="#303030" stroke-opacity="0.5" stroke-width="0.75"/>
<ellipse cx="304.7" cy="500.5" rx="3.3" ry="6.7" transform="rotate(0 305.2 501.0)" fill="none" stroke="#a0a0a0" stroke-opacity="0.40" stroke-width="0.55"/>
<ellipse cx="287.5" cy="507.0" rx="5.2" ry="5" transform="rotate(0 287.5 507.0)" fill="#a0a0a0" fill-opacity="0.09" stroke="#303030" stroke-opacity="0.5" stroke-width="0.75"/>
<ellipse cx="287.0" cy="506.5" rx="4.3" ry="4.1" transform="rotate(0 287.5 507.0)" fill="none" stroke="#a0a0a0" stroke-opacity="0.40" stroke-width="0.55"/>
<ellipse cx="273.5" cy="514.5" rx="8" ry="7" transform="rotate(10 273.5 514.5)" fill="#a0a0a0" fill-opacity="0.09" stroke="#303030" stroke-opacity="0.5" stroke-width="0.75"/>
<ellipse cx="273.0" cy="514.0" rx="7.1" ry="6.1" transform="rotate(10 273.5 514.5)" fill="none" stroke="#a0a0a0" stroke-opacity="0.40" stroke-width="0.55"/>
<ellipse cx="291.5" cy="522.0" rx="7" ry="8" transform="rotate(0 291.5 522.0)" fill="#a0a0a0" fill-opacity="0.09" stroke="#303030" stroke-opacity="0.5" stroke-width="0.75"/>
<ellipse cx="291.0" cy="521.5" rx="6.1" ry="7.1" transform="rotate(0 291.5 522.0)" fill="none" stroke="#a0a0a0" stroke-opacity="0.40" stroke-width="0.55"/>
<ellipse cx="303.5" cy="517.0" rx="5" ry="5" transform="rotate(0 303.5 517.0)" fill="#a0a0a0" fill-opacity="0.09" stroke="#303030" stroke-opacity="0.5" stroke-width="0.75"/>
<ellipse cx="303.0" cy="516.5" rx="4.1" ry="4.1" transform="rotate(0 303.5 517.0)" fill="none" stroke="#a0a0a0" stroke-opacity="0.40" stroke-width="0.55"/>
</g>
<circle cx="317.5" cy="485.5" r="2.0" fill="#333" fill-opacity="0.2" filter="url(#b1)"/>
<rect x="329.6" y="464.0" width="78.5" height="78.1" fill="#000"/>
<g filter="url(#b05)">
<ellipse cx="355.5" cy="485.5" rx="6.3" ry="5.0" fill="#0a10ff" fill-opacity="1.00"/>
<ellipse cx="372.0" cy="487.0" rx="4.6" ry="4.4" fill="#0810c0" fill-opacity="0.80"/>
<ellipse cx="354.0" cy="498.4" rx="5.2" ry="4.0" fill="#0a10ff" fill-opacity="1.00"/>
<ellipse cx="376.5" cy="497.0" rx="3.0" ry="3.0" fill="#0810c0" fill-opacity="0.80"/>
<ellipse cx="386.1" cy="501.4" rx="4.4" ry="7.4" fill="#0a10ff" fill-opacity="1.00"/>
<ellipse cx="369.0" cy="505.3" rx="3.6" ry="3.4" fill="#0810c0" fill-opacity="0.80"/>
<ellipse cx="354.9" cy="513.4" rx="5.0" ry="3.2" fill="#0a10ff" fill-opacity="1.00"/>
<ellipse cx="373.5" cy="520.9" rx="6.8" ry="5.8" fill="#0a10ff" fill-opacity="1.00"/>
<ellipse cx="385.5" cy="516.4" rx="3.4" ry="3.6" fill="#0810c0" fill-opacity="0.80"/>
</g>
<rect x="409.2" y="464.0" width="78.5" height="78.1" fill="#000"/>
<rect x="489.9" y="464.0" width="78.5" height="78.1" fill="url(#dic1)"/>
<rect x="489.9" y="464.0" width="78.5" height="78.1" fill="#000" fill-opacity="0.07"/>
<g filter="url(#b05)" opacity="0.8">
<ellipse cx="515.4" cy="486.5" rx="7.5" ry="6.5" transform="rotate(-15 515.4 486.5)" fill="#a0a0a0" fill-opacity="0.09" stroke="#303030" stroke-opacity="0.5" stroke-width="0.75"/>
<ellipse cx="514.9" cy="486.0" rx="6.6" ry="5.6" transform="rotate(-15 515.4 486.5)" fill="none" stroke="#a0a0a0" stroke-opacity="0.40" stroke-width="0.55"/>
<ellipse cx="532.4" cy="488.0" rx="6.8" ry="6.3" transform="rotate(10 532.4 488.0)" fill="#a0a0a0" fill-opacity="0.09" stroke="#303030" stroke-opacity="0.5" stroke-width="0.75"/>
<ellipse cx="531.9" cy="487.5" rx="5.9" ry="5.4" transform="rotate(10 532.4 488.0)" fill="none" stroke="#a0a0a0" stroke-opacity="0.40" stroke-width="0.55"/>
<ellipse cx="514.9" cy="499.5" rx="6" ry="5.6" transform="rotate(0 514.9 499.5)" fill="#a0a0a0" fill-opacity="0.09" stroke="#303030" stroke-opacity="0.5" stroke-width="0.75"/>
<ellipse cx="514.4" cy="499.0" rx="5.1" ry="4.7" transform="rotate(0 514.9 499.5)" fill="none" stroke="#a0a0a0" stroke-opacity="0.40" stroke-width="0.55"/>
<ellipse cx="535.4" cy="499.5" rx="4.6" ry="4.6" transform="rotate(0 535.4 499.5)" fill="#a0a0a0" fill-opacity="0.09" stroke="#303030" stroke-opacity="0.5" stroke-width="0.75"/>
<ellipse cx="534.9" cy="499.0" rx="3.7" ry="3.7" transform="rotate(0 535.4 499.5)" fill="none" stroke="#a0a0a0" stroke-opacity="0.40" stroke-width="0.55"/>
<ellipse cx="546.1" cy="501.0" rx="4.2" ry="7.6" transform="rotate(0 546.1 501.0)" fill="#a0a0a0" fill-opacity="0.09" stroke="#303030" stroke-opacity="0.5" stroke-width="0.75"/>
<ellipse cx="545.6" cy="500.5" rx="3.3" ry="6.7" transform="rotate(0 546.1 501.0)" fill="none" stroke="#a0a0a0" stroke-opacity="0.40" stroke-width="0.55"/>
<ellipse cx="528.4" cy="507.0" rx="5.2" ry="5" transform="rotate(0 528.4 507.0)" fill="#a0a0a0" fill-opacity="0.09" stroke="#303030" stroke-opacity="0.5" stroke-width="0.75"/>
<ellipse cx="527.9" cy="506.5" rx="4.3" ry="4.1" transform="rotate(0 528.4 507.0)" fill="none" stroke="#a0a0a0" stroke-opacity="0.40" stroke-width="0.55"/>
<ellipse cx="514.4" cy="514.5" rx="8" ry="7" transform="rotate(10 514.4 514.5)" fill="#a0a0a0" fill-opacity="0.09" stroke="#303030" stroke-opacity="0.5" stroke-width="0.75"/>
<ellipse cx="513.9" cy="514.0" rx="7.1" ry="6.1" transform="rotate(10 514.4 514.5)" fill="none" stroke="#a0a0a0" stroke-opacity="0.40" stroke-width="0.55"/>
<ellipse cx="532.4" cy="522.0" rx="7" ry="8" transform="rotate(0 532.4 522.0)" fill="#a0a0a0" fill-opacity="0.09" stroke="#303030" stroke-opacity="0.5" stroke-width="0.75"/>
<ellipse cx="531.9" cy="521.5" rx="6.1" ry="7.1" transform="rotate(0 532.4 522.0)" fill="none" stroke="#a0a0a0" stroke-opacity="0.40" stroke-width="0.55"/>
<ellipse cx="544.4" cy="517.0" rx="5" ry="5" transform="rotate(0 544.4 517.0)" fill="#a0a0a0" fill-opacity="0.09" stroke="#303030" stroke-opacity="0.5" stroke-width="0.75"/>
<ellipse cx="543.9" cy="516.5" rx="4.1" ry="4.1" transform="rotate(0 544.4 517.0)" fill="none" stroke="#a0a0a0" stroke-opacity="0.40" stroke-width="0.55"/>
</g>
<circle cx="558.4" cy="485.5" r="2.0" fill="#333" fill-opacity="0.2" filter="url(#b1)"/>
<g filter="url(#b05)">
<ellipse cx="515.8" cy="485.5" rx="6.3" ry="5.0" fill="#3a3af2" fill-opacity="0.97"/>
<ellipse cx="532.3" cy="487.0" rx="4.6" ry="4.4" fill="#3a3af2" fill-opacity="0.67"/>
<ellipse cx="514.3" cy="498.4" rx="5.2" ry="4.0" fill="#3a3af2" fill-opacity="0.97"/>
<ellipse cx="536.8" cy="497.0" rx="3.0" ry="3.0" fill="#3a3af2" fill-opacity="0.61"/>
<ellipse cx="546.4" cy="501.4" rx="4.4" ry="7.4" fill="#3a3af2" fill-opacity="0.97"/>
<ellipse cx="529.3" cy="505.3" rx="3.6" ry="3.4" fill="#3a3af2" fill-opacity="0.64"/>
<ellipse cx="515.2" cy="513.4" rx="5.0" ry="3.2" fill="#3a3af2" fill-opacity="0.97"/>
<ellipse cx="533.8" cy="520.9" rx="6.8" ry="5.8" fill="#3a3af2" fill-opacity="0.97"/>
<ellipse cx="545.8" cy="516.4" rx="3.4" ry="3.6" fill="#3a3af2" fill-opacity="0.61"/>
</g>
<text class="f-sans" x="326.60" y="538.00" font-size="5.4" font-weight="bold" text-anchor="end" fill="#d01414" fill-opacity="0.9">15μM</text>
<path d="M312.90,539.90h13.2" stroke="#b01010" stroke-width="0.55"/>
<text class="f-sans" x="407.20" y="538.00" font-size="5.4" font-weight="bold" text-anchor="end" fill="#d01414" fill-opacity="0.9">15μM</text>
<path d="M393.50,539.90h13.2" stroke="#b01010" stroke-width="0.55"/>
<text class="f-sans" x="486.80" y="538.00" font-size="5.4" font-weight="bold" text-anchor="end" fill="#d01414" fill-opacity="0.9">15μM</text>
<path d="M473.10,539.90h13.2" stroke="#b01010" stroke-width="0.55"/>
<text class="f-sans" x="569.00" y="535.50" font-size="5.8" font-weight="bold" text-anchor="end" fill="#d01414" fill-opacity="0.9">15μM</text>
<path d="M554.40,537.70h14" stroke="#b01010" stroke-width="0.55"/>
<rect x="249.0" y="543.8" width="78.5" height="78.1" fill="url(#dic2)"/>
<g filter="url(#b05)" opacity="1.0">
<ellipse cx="281.5" cy="569.6" rx="12.5" ry="5.2" transform="rotate(55 281.5 569.6)" fill="#a0a0a0" fill-opacity="0.09" stroke="#303030" stroke-opacity="0.5" stroke-width="0.75"/>
<ellipse cx="281.0" cy="569.1" rx="11.6" ry="4.3" transform="rotate(55 281.5 569.6)" fill="none" stroke="#a0a0a0" stroke-opacity="0.40" stroke-width="0.55"/>
<ellipse cx="292.5" cy="594.6" rx="11" ry="4.8" transform="rotate(52 292.5 594.6)" fill="#a0a0a0" fill-opacity="0.09" stroke="#303030" stroke-opacity="0.5" stroke-width="0.75"/>
<ellipse cx="292.0" cy="594.1" rx="10.1" ry="3.9" transform="rotate(52 292.5 594.6)" fill="none" stroke="#a0a0a0" stroke-opacity="0.40" stroke-width="0.55"/>
</g>
<circle cx="317.5" cy="565.3" r="2.0" fill="#333" fill-opacity="0.2" filter="url(#b1)"/>
<rect x="329.6" y="543.8" width="78.5" height="78.1" fill="#000"/>
<g filter="url(#b05)">
<ellipse cx="363.0" cy="570.5" rx="5.3" ry="6.8" fill="#0a10ff" fill-opacity="1.00"/>
<ellipse cx="373.5" cy="594.7" rx="5.3" ry="6.4" fill="#0a10ff" fill-opacity="1.00"/>
</g>
<rect x="409.2" y="543.8" width="78.5" height="78.1" fill="#000"/>
<rect x="489.9" y="543.8" width="78.5" height="78.1" fill="url(#dic2)"/>
<rect x="489.9" y="543.8" width="78.5" height="78.1" fill="#000" fill-opacity="0.07"/>
<g filter="url(#b05)" opacity="0.8">
<ellipse cx="522.4" cy="569.6" rx="12.5" ry="5.2" transform="rotate(55 522.4 569.6)" fill="#a0a0a0" fill-opacity="0.09" stroke="#303030" stroke-opacity="0.5" stroke-width="0.75"/>
<ellipse cx="521.9" cy="569.1" rx="11.6" ry="4.3" transform="rotate(55 522.4 569.6)" fill="none" stroke="#a0a0a0" stroke-opacity="0.40" stroke-width="0.55"/>
<ellipse cx="533.4" cy="594.6" rx="11" ry="4.8" transform="rotate(52 533.4 594.6)" fill="#a0a0a0" fill-opacity="0.09" stroke="#303030" stroke-opacity="0.5" stroke-width="0.75"/>
<ellipse cx="532.9" cy="594.1" rx="10.1" ry="3.9" transform="rotate(52 533.4 594.6)" fill="none" stroke="#a0a0a0" stroke-opacity="0.40" stroke-width="0.55"/>
</g>
<circle cx="558.4" cy="565.3" r="2.0" fill="#333" fill-opacity="0.2" filter="url(#b1)"/>
<g filter="url(#b05)">
<ellipse cx="523.3" cy="570.5" rx="5.3" ry="6.8" fill="#3a3af2" fill-opacity="0.97"/>
<ellipse cx="533.8" cy="594.7" rx="5.3" ry="6.4" fill="#3a3af2" fill-opacity="0.97"/>
</g>
<text class="f-sans" x="326.60" y="617.80" font-size="5.4" font-weight="bold" text-anchor="end" fill="#d01414" fill-opacity="0.9">15μM</text>
<path d="M312.90,619.70h13.2" stroke="#b01010" stroke-width="0.55"/>
<text class="f-sans" x="407.20" y="617.80" font-size="5.4" font-weight="bold" text-anchor="end" fill="#d01414" fill-opacity="0.9">15μM</text>
<path d="M393.50,619.70h13.2" stroke="#b01010" stroke-width="0.55"/>
<text class="f-sans" x="486.80" y="617.80" font-size="5.4" font-weight="bold" text-anchor="end" fill="#d01414" fill-opacity="0.9">15μM</text>
<path d="M473.10,619.70h13.2" stroke="#b01010" stroke-width="0.55"/>
<text class="f-sans" x="567.50" y="617.80" font-size="5.4" font-weight="bold" text-anchor="end" fill="#d01414" fill-opacity="0.9">15μM</text>
<path d="M553.80,619.70h13.2" stroke="#b01010" stroke-width="0.55"/>
<rect x="249.0" y="627.0" width="78.5" height="78.1" fill="url(#dic3)"/>
<g filter="url(#rough)" opacity="1.0">
<path d="M304.0,646.0C306.3,646.5 309.8,648.7 311.0,651.0C312.2,653.3 312.5,657.3 311.5,660.0C310.5,662.7 306.9,664.8 305.0,667.0C303.1,669.2 301.8,670.7 300.0,673.0C298.2,675.3 295.8,678.5 294.0,681.0C292.2,683.5 291.2,686.7 289.0,688.0C286.8,689.3 283.7,689.7 281.0,689.0C278.3,688.3 275.2,686.2 273.0,684.0C270.8,681.8 268.5,678.7 268.0,676.0C267.5,673.3 269.2,670.7 270.0,668.0C270.8,665.3 271.2,662.2 273.0,660.0C274.8,657.8 278.2,656.0 281.0,655.0C283.8,654.0 287.3,655.2 290.0,654.0C292.7,652.8 294.7,649.3 297.0,648.0C299.3,646.7 301.7,645.5 304.0,646.0Z" fill="#9a9a9a" fill-opacity="0.10" stroke="#383838" stroke-opacity="0.24" stroke-width="0.8"/>
<path d="M298.0,654.0 L300.5,637.0 L304.0,649.0 L312.0,665.0 L304.0,667.0" fill="#9a9a9a" fill-opacity="0.08" stroke="#3c3c3c" stroke-opacity="0.22" stroke-width="0.7"/>
<ellipse cx="304.0" cy="655.7" rx="6.4" ry="6.4" fill="#a8a8a8" fill-opacity="0.06" stroke="#2e2e2e" stroke-opacity="0.17" stroke-width="0.7"/>
<ellipse cx="293.3" cy="663.6" rx="4.9" ry="6.4" fill="#a8a8a8" fill-opacity="0.06" stroke="#2e2e2e" stroke-opacity="0.17" stroke-width="0.7"/>
<ellipse cx="281.4" cy="662.7" rx="6.4" ry="5.9" fill="#a8a8a8" fill-opacity="0.06" stroke="#2e2e2e" stroke-opacity="0.17" stroke-width="0.7"/>
<ellipse cx="285.6" cy="670.0" rx="3.9" ry="3.9" fill="#a8a8a8" fill-opacity="0.06" stroke="#2e2e2e" stroke-opacity="0.17" stroke-width="0.7"/>
<ellipse cx="276.3" cy="675.3" rx="6.4" ry="5.9" fill="#a8a8a8" fill-opacity="0.06" stroke="#2e2e2e" stroke-opacity="0.17" stroke-width="0.7"/>
<ellipse cx="283.2" cy="682.0" rx="5.4" ry="5.4" fill="#a8a8a8" fill-opacity="0.06" stroke="#2e2e2e" stroke-opacity="0.17" stroke-width="0.7"/>
</g>
<circle cx="317.5" cy="648.5" r="2.0" fill="#333" fill-opacity="0.2" filter="url(#b1)"/>
<rect x="329.6" y="627.0" width="78.5" height="78.1" fill="#000"/>
<g filter="url(#rough)">
<path d="M384.6,646.0C386.9,646.5 390.4,648.7 391.6,651.0C392.9,653.3 393.1,657.3 392.1,660.0C391.1,662.7 387.5,664.8 385.6,667.0C383.7,669.2 382.4,670.7 380.6,673.0C378.8,675.3 376.4,678.5 374.6,681.0C372.8,683.5 371.8,686.7 369.6,688.0C367.4,689.3 364.3,689.7 361.6,689.0C358.9,688.3 355.8,686.2 353.6,684.0C351.4,681.8 349.1,678.7 348.6,676.0C348.1,673.3 349.8,670.7 350.6,668.0C351.4,665.3 351.8,662.2 353.6,660.0C355.4,657.8 358.8,656.0 361.6,655.0C364.4,654.0 367.9,655.2 370.6,654.0C373.3,652.8 375.3,649.3 377.6,648.0C379.9,646.7 382.3,645.5 384.6,646.0Z" fill="#0a14b0" fill-opacity="0.2" stroke="#1828ff" stroke-opacity="0.6" stroke-width="0.8"/>
<ellipse cx="384.6" cy="655.7" rx="7.4" ry="7.4" fill="none" stroke="#1424ff" stroke-opacity="0.55" stroke-width="0.7"/>
<ellipse cx="373.9" cy="663.6" rx="5.9" ry="7.4" fill="none" stroke="#1424ff" stroke-opacity="0.55" stroke-width="0.7"/>
<ellipse cx="362.0" cy="662.7" rx="7.4" ry="6.9" fill="none" stroke="#1424ff" stroke-opacity="0.55" stroke-width="0.7"/>
<ellipse cx="366.2" cy="670.0" rx="4.9" ry="4.9" fill="none" stroke="#1424ff" stroke-opacity="0.55" stroke-width="0.7"/>
<ellipse cx="356.9" cy="675.3" rx="7.4" ry="6.9" fill="none" stroke="#1424ff" stroke-opacity="0.55" stroke-width="0.7"/>
<ellipse cx="363.8" cy="682.0" rx="6.4" ry="6.4" fill="none" stroke="#1424ff" stroke-opacity="0.55" stroke-width="0.7"/>
</g>
<g filter="url(#b05)">
<ellipse cx="384.6" cy="655.7" rx="6.3" ry="6.3" fill="#0a10ff" fill-opacity="1.00"/>
<ellipse cx="373.9" cy="663.6" rx="4.9" ry="6.5" fill="#0a10ff" fill-opacity="1.00"/>
<ellipse cx="362.0" cy="662.7" rx="5.6" ry="5.4" fill="#0a10ff" fill-opacity="0.90"/>
<ellipse cx="366.2" cy="669.8" rx="3.8" ry="3.8" fill="#0a10ff" fill-opacity="0.85"/>
<ellipse cx="356.9" cy="674.9" rx="5.9" ry="5.5" fill="#0a10ff" fill-opacity="1.00"/>
<ellipse cx="363.4" cy="681.1" rx="5.0" ry="5.0" fill="#0a10ff" fill-opacity="1.00"/>
</g>
<rect x="409.2" y="627.0" width="78.5" height="78.1" fill="#000"/>
<rect x="489.9" y="627.0" width="78.5" height="78.1" fill="url(#dic3)"/>
<rect x="489.9" y="627.0" width="78.5" height="78.1" fill="#000" fill-opacity="0.07"/>
<g filter="url(#rough)" opacity="0.8">
<path d="M544.9,646.0C547.2,646.5 550.6,648.7 551.9,651.0C553.1,653.3 553.4,657.3 552.4,660.0C551.4,662.7 547.8,664.8 545.9,667.0C544.0,669.2 542.7,670.7 540.9,673.0C539.1,675.3 536.7,678.5 534.9,681.0C533.1,683.5 532.1,686.7 529.9,688.0C527.7,689.3 524.6,689.7 521.9,689.0C519.2,688.3 516.1,686.2 513.9,684.0C511.7,681.8 509.4,678.7 508.9,676.0C508.4,673.3 510.1,670.7 510.9,668.0C511.7,665.3 512.1,662.2 513.9,660.0C515.7,657.8 519.1,656.0 521.9,655.0C524.7,654.0 528.2,655.2 530.9,654.0C533.6,652.8 535.6,649.3 537.9,648.0C540.2,646.7 542.6,645.5 544.9,646.0Z" fill="#9a9a9a" fill-opacity="0.10" stroke="#383838" stroke-opacity="0.24" stroke-width="0.8"/>
<path d="M538.9,654.0 L541.4,637.0 L544.9,649.0 L552.9,665.0 L544.9,667.0" fill="#9a9a9a" fill-opacity="0.08" stroke="#3c3c3c" stroke-opacity="0.22" stroke-width="0.7"/>
<ellipse cx="544.9" cy="655.7" rx="6.4" ry="6.4" fill="#a8a8a8" fill-opacity="0.06" stroke="#2e2e2e" stroke-opacity="0.17" stroke-width="0.7"/>
<ellipse cx="534.2" cy="663.6" rx="4.9" ry="6.4" fill="#a8a8a8" fill-opacity="0.06" stroke="#2e2e2e" stroke-opacity="0.17" stroke-width="0.7"/>
<ellipse cx="522.3" cy="662.7" rx="6.4" ry="5.9" fill="#a8a8a8" fill-opacity="0.06" stroke="#2e2e2e" stroke-opacity="0.17" stroke-width="0.7"/>
<ellipse cx="526.5" cy="670.0" rx="3.9" ry="3.9" fill="#a8a8a8" fill-opacity="0.06" stroke="#2e2e2e" stroke-opacity="0.17" stroke-width="0.7"/>
<ellipse cx="517.2" cy="675.3" rx="6.4" ry="5.9" fill="#a8a8a8" fill-opacity="0.06" stroke="#2e2e2e" stroke-opacity="0.17" stroke-width="0.7"/>
<ellipse cx="524.1" cy="682.0" rx="5.4" ry="5.4" fill="#a8a8a8" fill-opacity="0.06" stroke="#2e2e2e" stroke-opacity="0.17" stroke-width="0.7"/>
</g>
<circle cx="558.4" cy="648.5" r="2.0" fill="#333" fill-opacity="0.2" filter="url(#b1)"/>
<g filter="url(#rough)">
<path d="M544.9,646.0C547.2,646.5 550.6,648.7 551.9,651.0C553.1,653.3 553.4,657.3 552.4,660.0C551.4,662.7 547.8,664.8 545.9,667.0C544.0,669.2 542.7,670.7 540.9,673.0C539.1,675.3 536.7,678.5 534.9,681.0C533.1,683.5 532.1,686.7 529.9,688.0C527.7,689.3 524.6,689.7 521.9,689.0C519.2,688.3 516.1,686.2 513.9,684.0C511.7,681.8 509.4,678.7 508.9,676.0C508.4,673.3 510.1,670.7 510.9,668.0C511.7,665.3 512.1,662.2 513.9,660.0C515.7,657.8 519.1,656.0 521.9,655.0C524.7,654.0 528.2,655.2 530.9,654.0C533.6,652.8 535.6,649.3 537.9,648.0C540.2,646.7 542.6,645.5 544.9,646.0Z" fill="#0a14b0" fill-opacity="0.1" stroke="#1828ff" stroke-opacity="0.3" stroke-width="0.8"/>
<ellipse cx="544.9" cy="655.7" rx="7.4" ry="7.4" fill="none" stroke="#1424ff" stroke-opacity="0.28" stroke-width="0.7"/>
<ellipse cx="534.2" cy="663.6" rx="5.9" ry="7.4" fill="none" stroke="#1424ff" stroke-opacity="0.28" stroke-width="0.7"/>
<ellipse cx="522.3" cy="662.7" rx="7.4" ry="6.9" fill="none" stroke="#1424ff" stroke-opacity="0.28" stroke-width="0.7"/>
<ellipse cx="526.5" cy="670.0" rx="4.9" ry="4.9" fill="none" stroke="#1424ff" stroke-opacity="0.28" stroke-width="0.7"/>
<ellipse cx="517.2" cy="675.3" rx="7.4" ry="6.9" fill="none" stroke="#1424ff" stroke-opacity="0.28" stroke-width="0.7"/>
<ellipse cx="524.1" cy="682.0" rx="6.4" ry="6.4" fill="none" stroke="#1424ff" stroke-opacity="0.28" stroke-width="0.7"/>
</g>
<g filter="url(#b05)">
<ellipse cx="544.9" cy="655.7" rx="6.3" ry="6.3" fill="#3a3af2" fill-opacity="0.97"/>
<ellipse cx="534.2" cy="663.6" rx="4.9" ry="6.5" fill="#3a3af2" fill-opacity="0.97"/>
<ellipse cx="522.3" cy="662.7" rx="5.6" ry="5.4" fill="#3a3af2" fill-opacity="0.92"/>
<ellipse cx="526.5" cy="669.8" rx="3.8" ry="3.8" fill="#3a3af2" fill-opacity="0.89"/>
<ellipse cx="517.2" cy="674.9" rx="5.9" ry="5.5" fill="#3a3af2" fill-opacity="0.97"/>
<ellipse cx="523.7" cy="681.1" rx="5.0" ry="5.0" fill="#3a3af2" fill-opacity="0.97"/>
</g>
<text class="f-sans" x="326.60" y="701.00" font-size="5.4" font-weight="bold" text-anchor="end" fill="#d01414" fill-opacity="0.9">15μM</text>
<path d="M312.90,702.90h13.2" stroke="#b01010" stroke-width="0.55"/>
<text class="f-sans" x="407.20" y="701.00" font-size="5.4" font-weight="bold" text-anchor="end" fill="#d01414" fill-opacity="0.9">15μM</text>
<path d="M393.50,702.90h13.2" stroke="#b01010" stroke-width="0.55"/>
<text class="f-sans" x="486.80" y="701.00" font-size="5.4" font-weight="bold" text-anchor="end" fill="#d01414" fill-opacity="0.9">15μM</text>
<path d="M473.10,702.90h13.2" stroke="#b01010" stroke-width="0.55"/>
<text class="f-sans" x="567.50" y="701.00" font-size="5.4" font-weight="bold" text-anchor="end" fill="#d01414" fill-opacity="0.9">15μM</text>
<path d="M553.80,702.90h13.2" stroke="#b01010" stroke-width="0.55"/>
<rect x="249.0" y="707.0" width="78.5" height="78.1" fill="url(#dic4)"/>
<g filter="url(#rough)" opacity="1.0">
<path d="M285.0,721.0C287.5,720.6 290.5,722.0 293.0,722.5C295.5,723.0 297.7,723.2 300.0,724.0C302.3,724.8 305.4,725.7 307.0,727.5C308.6,729.3 309.7,732.6 309.5,735.0C309.3,737.4 307.3,740.0 306.0,742.0C304.7,744.0 301.9,744.8 301.5,747.0C301.1,749.2 303.8,752.3 303.5,755.0C303.2,757.7 301.4,761.0 299.5,763.0C297.6,765.0 294.1,765.7 292.0,767.0C289.9,768.3 289.5,770.5 287.0,771.0C284.5,771.5 279.9,771.3 277.0,770.0C274.1,768.7 271.2,765.7 269.5,763.0C267.8,760.3 266.8,756.7 267.0,754.0C267.2,751.3 269.8,749.2 271.0,747.0C272.2,744.8 273.2,743.3 274.0,741.0C274.8,738.7 275.3,735.7 276.0,733.0C276.7,730.3 276.5,727.0 278.0,725.0C279.5,723.0 282.5,721.4 285.0,721.0Z" fill="#9a9a9a" fill-opacity="0.10" stroke="#383838" stroke-opacity="0.24" stroke-width="0.8"/>
<ellipse cx="285.0" cy="733.0" rx="7.4" ry="8.9" fill="#a8a8a8" fill-opacity="0.06" stroke="#2e2e2e" stroke-opacity="0.17" stroke-width="0.7"/>
<ellipse cx="300.0" cy="733.5" rx="7.4" ry="6.9" fill="#a8a8a8" fill-opacity="0.06" stroke="#2e2e2e" stroke-opacity="0.17" stroke-width="0.7"/>
<ellipse cx="280.2" cy="747.0" rx="6.2" ry="5.9" fill="#a8a8a8" fill-opacity="0.06" stroke="#2e2e2e" stroke-opacity="0.17" stroke-width="0.7"/>
<ellipse cx="273.9" cy="756.0" rx="5.6" ry="5.6" fill="#a8a8a8" fill-opacity="0.06" stroke="#2e2e2e" stroke-opacity="0.17" stroke-width="0.7"/>
<ellipse cx="295.0" cy="754.0" rx="6.2" ry="6.9" fill="#a8a8a8" fill-opacity="0.06" stroke="#2e2e2e" stroke-opacity="0.17" stroke-width="0.7"/>
<ellipse cx="283.0" cy="763.5" rx="6.9" ry="5.9" fill="#a8a8a8" fill-opacity="0.06" stroke="#2e2e2e" stroke-opacity="0.17" stroke-width="0.7"/>
</g>
<circle cx="317.5" cy="728.5" r="2.0" fill="#333" fill-opacity="0.2" filter="url(#b1)"/>
<rect x="329.6" y="707.0" width="78.5" height="78.1" fill="#000"/>
<g filter="url(#rough)">
<path d="M365.6,721.0C368.1,720.6 371.1,722.0 373.6,722.5C376.1,723.0 378.3,723.2 380.6,724.0C382.9,724.8 386.0,725.7 387.6,727.5C389.2,729.3 390.3,732.6 390.1,735.0C389.9,737.4 387.9,740.0 386.6,742.0C385.3,744.0 382.5,744.8 382.1,747.0C381.7,749.2 384.4,752.3 384.1,755.0C383.8,757.7 382.0,761.0 380.1,763.0C378.2,765.0 374.7,765.7 372.6,767.0C370.5,768.3 370.1,770.5 367.6,771.0C365.1,771.5 360.5,771.3 357.6,770.0C354.7,768.7 351.8,765.7 350.1,763.0C348.4,760.3 347.4,756.7 347.6,754.0C347.9,751.3 350.4,749.2 351.6,747.0C352.8,744.8 353.8,743.3 354.6,741.0C355.4,738.7 355.9,735.7 356.6,733.0C357.3,730.3 357.1,727.0 358.6,725.0C360.1,723.0 363.1,721.4 365.6,721.0Z" fill="#0a14b0" fill-opacity="0.2" stroke="#1828ff" stroke-opacity="0.6" stroke-width="0.8"/>
<ellipse cx="365.6" cy="733.0" rx="8.4" ry="9.9" fill="none" stroke="#1424ff" stroke-opacity="0.55" stroke-width="0.7"/>
<ellipse cx="380.6" cy="733.5" rx="8.4" ry="7.9" fill="none" stroke="#1424ff" stroke-opacity="0.55" stroke-width="0.7"/>
<ellipse cx="360.8" cy="747.0" rx="7.2" ry="6.9" fill="none" stroke="#1424ff" stroke-opacity="0.55" stroke-width="0.7"/>
<ellipse cx="354.5" cy="756.0" rx="6.6" ry="6.6" fill="none" stroke="#1424ff" stroke-opacity="0.55" stroke-width="0.7"/>
<ellipse cx="375.6" cy="754.0" rx="7.2" ry="7.9" fill="none" stroke="#1424ff" stroke-opacity="0.55" stroke-width="0.7"/>
<ellipse cx="363.6" cy="763.5" rx="7.9" ry="6.9" fill="none" stroke="#1424ff" stroke-opacity="0.55" stroke-width="0.7"/>
</g>
<g filter="url(#b05)">
<ellipse cx="365.7" cy="732.0" rx="6.5" ry="7.7" fill="#0a10ff" fill-opacity="1.00"/>
<ellipse cx="380.4" cy="732.4" rx="6.0" ry="5.8" fill="#0a10ff" fill-opacity="0.75"/>
<ellipse cx="360.6" cy="745.9" rx="5.5" ry="5.3" fill="#0a10ff" fill-opacity="0.65"/>
<ellipse cx="354.3" cy="754.9" rx="5.0" ry="4.9" fill="#0a10ff" fill-opacity="0.95"/>
<ellipse cx="375.6" cy="752.6" rx="5.4" ry="5.4" fill="#0a10ff" fill-opacity="0.65"/>
<ellipse cx="363.4" cy="762.4" rx="6.6" ry="5.5" fill="#0a10ff" fill-opacity="1.00"/>
</g>
<rect x="409.2" y="707.0" width="78.5" height="78.1" fill="#000"/>
<g filter="url(#rough)" fill="none" stroke="#e81212" stroke-linecap="round">
<ellipse cx="444.8" cy="735.8" rx="7.6" ry="10.4" stroke-width="2.2" stroke-opacity="0.92" stroke-dasharray="12 1.0 6 0.8 7.0 1.6"/>
<ellipse cx="460.4" cy="734.3" rx="8.4" ry="7.6" stroke-width="1.9" stroke-opacity="0.92" stroke-dasharray="14 1.3 7 0.8 6.5 1.6"/>
<ellipse cx="440.6" cy="751.8" rx="7.0" ry="8.4" stroke-width="1.7" stroke-opacity="0.92" stroke-dasharray="16 1.6 8 0.8 6.0 1.6"/>
<ellipse cx="454.6" cy="758.8" rx="7.0" ry="10.6" stroke-width="1.7" stroke-opacity="0.92" stroke-dasharray="18 1.9 9 0.8 5.5 1.6"/>
<ellipse cx="444.2" cy="766.5" rx="6.5" ry="5.0" stroke-width="1.2" stroke-opacity="0.92" stroke-dasharray="20 2.2 10 0.8 5.0 1.6"/>
<ellipse cx="432.7" cy="757.5" rx="4.2" ry="5.2" stroke-width="1.0" stroke-opacity="0.92" stroke-dasharray="22 2.5 11 0.8 4.5 1.6"/>
</g>
<rect x="489.9" y="707.0" width="78.5" height="78.1" fill="url(#dic4)"/>
<rect x="489.9" y="707.0" width="78.5" height="78.1" fill="#000" fill-opacity="0.07"/>
<g filter="url(#rough)" opacity="0.8">
<path d="M525.9,721.0C528.4,720.6 531.4,722.0 533.9,722.5C536.4,723.0 538.6,723.2 540.9,724.0C543.2,724.8 546.3,725.7 547.9,727.5C549.5,729.3 550.6,732.6 550.4,735.0C550.2,737.4 548.2,740.0 546.9,742.0C545.6,744.0 542.8,744.8 542.4,747.0C542.0,749.2 544.7,752.3 544.4,755.0C544.1,757.7 542.3,761.0 540.4,763.0C538.5,765.0 535.0,765.7 532.9,767.0C530.8,768.3 530.4,770.5 527.9,771.0C525.4,771.5 520.8,771.3 517.9,770.0C515.0,768.7 512.1,765.7 510.4,763.0C508.7,760.3 507.6,756.7 507.9,754.0C508.1,751.3 510.7,749.2 511.9,747.0C513.1,744.8 514.1,743.3 514.9,741.0C515.7,738.7 516.2,735.7 516.9,733.0C517.6,730.3 517.4,727.0 518.9,725.0C520.4,723.0 523.4,721.4 525.9,721.0Z" fill="#9a9a9a" fill-opacity="0.10" stroke="#383838" stroke-opacity="0.24" stroke-width="0.8"/>
<ellipse cx="525.9" cy="733.0" rx="7.4" ry="8.9" fill="#a8a8a8" fill-opacity="0.06" stroke="#2e2e2e" stroke-opacity="0.17" stroke-width="0.7"/>
<ellipse cx="540.9" cy="733.5" rx="7.4" ry="6.9" fill="#a8a8a8" fill-opacity="0.06" stroke="#2e2e2e" stroke-opacity="0.17" stroke-width="0.7"/>
<ellipse cx="521.1" cy="747.0" rx="6.2" ry="5.9" fill="#a8a8a8" fill-opacity="0.06" stroke="#2e2e2e" stroke-opacity="0.17" stroke-width="0.7"/>
<ellipse cx="514.8" cy="756.0" rx="5.6" ry="5.6" fill="#a8a8a8" fill-opacity="0.06" stroke="#2e2e2e" stroke-opacity="0.17" stroke-width="0.7"/>
<ellipse cx="535.9" cy="754.0" rx="6.2" ry="6.9" fill="#a8a8a8" fill-opacity="0.06" stroke="#2e2e2e" stroke-opacity="0.17" stroke-width="0.7"/>
<ellipse cx="523.9" cy="763.5" rx="6.9" ry="5.9" fill="#a8a8a8" fill-opacity="0.06" stroke="#2e2e2e" stroke-opacity="0.17" stroke-width="0.7"/>
</g>
<circle cx="558.4" cy="728.5" r="2.0" fill="#333" fill-opacity="0.2" filter="url(#b1)"/>
<g filter="url(#rough)">
<path d="M525.9,721.0C528.4,720.6 531.4,722.0 533.9,722.5C536.4,723.0 538.6,723.2 540.9,724.0C543.2,724.8 546.3,725.7 547.9,727.5C549.5,729.3 550.6,732.6 550.4,735.0C550.2,737.4 548.2,740.0 546.9,742.0C545.6,744.0 542.8,744.8 542.4,747.0C542.0,749.2 544.7,752.3 544.4,755.0C544.1,757.7 542.3,761.0 540.4,763.0C538.5,765.0 535.0,765.7 532.9,767.0C530.8,768.3 530.4,770.5 527.9,771.0C525.4,771.5 520.8,771.3 517.9,770.0C515.0,768.7 512.1,765.7 510.4,763.0C508.7,760.3 507.6,756.7 507.9,754.0C508.1,751.3 510.7,749.2 511.9,747.0C513.1,744.8 514.1,743.3 514.9,741.0C515.7,738.7 516.2,735.7 516.9,733.0C517.6,730.3 517.4,727.0 518.9,725.0C520.4,723.0 523.4,721.4 525.9,721.0Z" fill="#0a14b0" fill-opacity="0.1" stroke="#1828ff" stroke-opacity="0.3" stroke-width="0.8"/>
<ellipse cx="525.9" cy="733.0" rx="8.4" ry="9.9" fill="none" stroke="#1424ff" stroke-opacity="0.28" stroke-width="0.7"/>
<ellipse cx="540.9" cy="733.5" rx="8.4" ry="7.9" fill="none" stroke="#1424ff" stroke-opacity="0.28" stroke-width="0.7"/>
<ellipse cx="521.1" cy="747.0" rx="7.2" ry="6.9" fill="none" stroke="#1424ff" stroke-opacity="0.28" stroke-width="0.7"/>
<ellipse cx="514.8" cy="756.0" rx="6.6" ry="6.6" fill="none" stroke="#1424ff" stroke-opacity="0.28" stroke-width="0.7"/>
<ellipse cx="535.9" cy="754.0" rx="7.2" ry="7.9" fill="none" stroke="#1424ff" stroke-opacity="0.28" stroke-width="0.7"/>
<ellipse cx="523.9" cy="763.5" rx="7.9" ry="6.9" fill="none" stroke="#1424ff" stroke-opacity="0.28" stroke-width="0.7"/>
</g>
<g filter="url(#b05)">
<ellipse cx="526.0" cy="732.0" rx="6.5" ry="7.7" fill="#3a3af2" fill-opacity="0.97"/>
<ellipse cx="540.7" cy="732.4" rx="6.0" ry="5.8" fill="#3a3af2" fill-opacity="0.83"/>
<ellipse cx="520.9" cy="745.9" rx="5.5" ry="5.3" fill="#3a3af2" fill-opacity="0.78"/>
<ellipse cx="514.6" cy="754.9" rx="5.0" ry="4.9" fill="#3a3af2" fill-opacity="0.94"/>
<ellipse cx="535.9" cy="752.6" rx="5.4" ry="5.4" fill="#3a3af2" fill-opacity="0.78"/>
<ellipse cx="523.7" cy="762.4" rx="6.6" ry="5.5" fill="#3a3af2" fill-opacity="0.97"/>
</g>
<g filter="url(#rough)" fill="none" stroke="#f038c0" stroke-linecap="round">
<ellipse cx="525.5" cy="735.8" rx="7.6" ry="10.4" stroke-width="2.2" stroke-opacity="0.92" stroke-dasharray="12 1.0 6 0.8 7.0 1.6"/>
<ellipse cx="541.1" cy="734.3" rx="8.4" ry="7.6" stroke-width="1.9" stroke-opacity="0.92" stroke-dasharray="14 1.3 7 0.8 6.5 1.6"/>
<ellipse cx="521.3" cy="751.8" rx="7.0" ry="8.4" stroke-width="1.7" stroke-opacity="0.92" stroke-dasharray="16 1.6 8 0.8 6.0 1.6"/>
<ellipse cx="535.3" cy="758.8" rx="7.0" ry="10.6" stroke-width="1.7" stroke-opacity="0.92" stroke-dasharray="18 1.9 9 0.8 5.5 1.6"/>
<ellipse cx="524.9" cy="766.5" rx="6.5" ry="5.0" stroke-width="1.2" stroke-opacity="0.92" stroke-dasharray="20 2.2 10 0.8 5.0 1.6"/>
<ellipse cx="513.4" cy="757.5" rx="4.2" ry="5.2" stroke-width="1.0" stroke-opacity="0.92" stroke-dasharray="22 2.5 11 0.8 4.5 1.6"/>
</g>
<text class="f-sans" x="326.60" y="781.00" font-size="5.4" font-weight="bold" text-anchor="end" fill="#d01414" fill-opacity="0.9">15μM</text>
<path d="M312.90,782.90h13.2" stroke="#b01010" stroke-width="0.55"/>
<text class="f-sans" x="407.20" y="781.00" font-size="5.4" font-weight="bold" text-anchor="end" fill="#d01414" fill-opacity="0.9">15μM</text>
<path d="M393.50,782.90h13.2" stroke="#b01010" stroke-width="0.55"/>
<text class="f-sans" x="486.80" y="781.00" font-size="5.4" font-weight="bold" text-anchor="end" fill="#d01414" fill-opacity="0.9">15μM</text>
<path d="M473.10,782.90h13.2" stroke="#b01010" stroke-width="0.55"/>
<text class="f-sans" x="567.50" y="781.00" font-size="5.4" font-weight="bold" text-anchor="end" fill="#d01414" fill-opacity="0.9">15μM</text>
<path d="M553.80,782.90h13.2" stroke="#b01010" stroke-width="0.55"/>
<text class="f-serif" x="289.80" y="459.80" font-size="10" font-weight="bold" text-anchor="middle" fill="#231f20" letter-spacing="0.6">DIC</text>
<text class="f-serif" x="365.40" y="459.80" font-size="10" font-weight="bold" text-anchor="middle" fill="#231f20" letter-spacing="0.6">Hoechst</text>
<text class="f-serif" x="448.00" y="459.80" font-size="10" font-weight="bold" text-anchor="middle" fill="#231f20" letter-spacing="0.6">Cy5</text>
<text class="f-serif" x="526.60" y="459.80" font-size="10" font-weight="bold" text-anchor="middle" fill="#231f20" letter-spacing="0.6">Merge</text>
<text class="f-serif" x="577.60" y="512.60" font-size="10.4" font-weight="bold" text-anchor="start" fill="#231f20" letter-spacing="0.6">Lib</text>
<text class="f-serif" x="575.20" y="583.20" font-size="10.4" font-weight="bold" text-anchor="start" fill="#231f20" letter-spacing="0.6">ZY3</text>
<text class="f-serif" x="577.60" y="671.60" font-size="10.4" font-weight="bold" text-anchor="start" fill="#231f20" letter-spacing="0.6">Lib</text>
<text class="f-serif" x="575.20" y="752.60" font-size="10.4" font-weight="bold" text-anchor="start" fill="#231f20" letter-spacing="0.6">ZY3</text>
<text class="f-serif" x="243.80" y="538.30" font-size="10.2" font-weight="bold" text-anchor="middle" fill="#231f20" letter-spacing="0.5" transform="rotate(-90 243.80 538.30)">Uninfection</text>
<text class="f-serif" x="244.60" y="705.00" font-size="10.2" font-weight="bold" text-anchor="middle" fill="#231f20" letter-spacing="0.5" transform="rotate(-90 244.60 705.00)">Infection</text>
<defs><filter id="ab" x="-10%" y="-10%" width="120%" height="120%"><feGaussianBlur stdDeviation="0.35"/></filter><filter id="fade" x="-50%" y="-50%" width="200%" height="200%"><feGaussianBlur stdDeviation="2.6"/></filter></defs>
<g filter="url(#ab)">
<path d="M55.0,72.5C55.3,70.9 55.8,66.0 57.0,63.0C58.2,60.0 59.8,57.1 62.0,54.5C64.2,51.9 66.6,49.5 70.0,47.5C73.4,45.5 77.5,43.8 82.5,42.5C87.5,41.2 94.6,40.4 100.0,40.0C105.4,39.6 110.5,39.9 115.0,40.2C119.5,40.5 123.2,41.2 127.0,42.0C130.8,42.8 133.7,43.3 137.5,45.0C141.3,46.7 145.8,49.5 150.0,52.0C154.2,54.5 158.3,56.6 162.5,60.0C166.7,63.4 171.6,68.5 175.0,72.5C178.4,76.5 181.0,80.4 183.0,84.0C185.0,87.6 186.8,90.6 187.0,94.0C187.2,97.4 186.5,101.2 184.5,104.5C182.5,107.8 178.7,111.6 175.0,114.0C171.3,116.4 167.5,117.8 162.5,119.0C157.5,120.2 151.2,121.2 145.0,121.5C138.8,121.8 130.5,121.1 125.0,120.5C119.5,119.9 116.2,118.9 112.0,118.0C107.8,117.1 104.1,116.7 100.0,115.0C95.9,113.3 91.7,110.5 87.5,108.0C83.3,105.5 78.8,103.0 75.0,100.0C71.2,97.0 67.8,93.2 65.0,90.0C62.2,86.8 59.7,83.4 58.0,80.5C56.3,77.6 55.5,73.8 55.0,72.5" fill="none" stroke="#3f6fd0" stroke-width="4.1" stroke-linecap="round"/>
<path d="M55.0,72.5C55.3,70.9 55.8,66.0 57.0,63.0C58.2,60.0 59.8,57.1 62.0,54.5C64.2,51.9 66.6,49.5 70.0,47.5C73.4,45.5 77.5,43.8 82.5,42.5C87.5,41.2 94.6,40.4 100.0,40.0C105.4,39.6 110.5,39.9 115.0,40.2C119.5,40.5 123.2,41.2 127.0,42.0C130.8,42.8 133.7,43.3 137.5,45.0C141.3,46.7 145.8,49.5 150.0,52.0C154.2,54.5 158.3,56.6 162.5,60.0C166.7,63.4 171.6,68.5 175.0,72.5C178.4,76.5 181.0,80.4 183.0,84.0C185.0,87.6 186.8,90.6 187.0,94.0C187.2,97.4 186.5,101.2 184.5,104.5C182.5,107.8 178.7,111.6 175.0,114.0C171.3,116.4 167.5,117.8 162.5,119.0C157.5,120.2 151.2,121.2 145.0,121.5C138.8,121.8 130.5,121.1 125.0,120.5C119.5,119.9 116.2,118.9 112.0,118.0C107.8,117.1 104.1,116.7 100.0,115.0C95.9,113.3 91.7,110.5 87.5,108.0C83.3,105.5 78.8,103.0 75.0,100.0C71.2,97.0 67.8,93.2 65.0,90.0C62.2,86.8 59.7,83.4 58.0,80.5C56.3,77.6 55.5,73.8 55.0,72.5" fill="none" stroke="#6f97e6" stroke-width="1.4" stroke-opacity="0.55" transform="translate(0.4,0.6)"/>
</g>
<ellipse cx="125.5" cy="42.3" rx="13.5" ry="6.5" fill="#fff" filter="url(#fade)"/>
<ellipse cx="125.5" cy="42.3" rx="11.5" ry="5.5" fill="#fff" filter="url(#fade)"/>
<ellipse cx="125.5" cy="42.3" rx="9.4" ry="4.5" fill="#fff" filter="url(#fade)"/>
<ellipse cx="185" cy="89.5" rx="8.0" ry="7.5" fill="#fff" filter="url(#fade)"/>
<ellipse cx="185" cy="89.5" rx="6.8" ry="6.4" fill="#fff" filter="url(#fade)"/>
<ellipse cx="185" cy="89.5" rx="5.6" ry="5.2" fill="#fff" filter="url(#fade)"/>
<ellipse cx="111.5" cy="118.5" rx="13.0" ry="6.5" fill="#fff" filter="url(#fade)"/>
<ellipse cx="111.5" cy="118.5" rx="11.0" ry="5.5" fill="#fff" filter="url(#fade)"/>
<ellipse cx="111.5" cy="118.5" rx="9.1" ry="4.5" fill="#fff" filter="url(#fade)"/>
<ellipse cx="56.0" cy="68" rx="6.5" ry="6.5" fill="#fff" filter="url(#fade)"/>
<ellipse cx="56.0" cy="68" rx="5.5" ry="5.5" fill="#fff" filter="url(#fade)"/>
<ellipse cx="56.0" cy="68" rx="4.5" ry="4.5" fill="#fff" filter="url(#fade)"/>
<polygon points="55.9,62.9 55.8,62.2 55.7,61.2 55.5,60.0 55.2,58.7 54.9,57.4 54.6,56.0 54.2,54.8 53.8,53.6 53.3,52.6 52.7,51.6 52.1,50.6 51.5,49.6 50.8,48.8 50.1,47.9 49.5,47.2 48.8,46.5 48.1,45.9 47.4,45.4 46.6,45.0 45.9,44.7 45.3,44.5 44.7,44.3 44.3,44.1 44.0,44.0 43.0,47.0 43.4,47.1 43.9,47.2 44.4,47.3 45.0,47.5 45.5,47.6 46.1,47.8 46.6,48.1 47.2,48.5 47.8,49.0 48.4,49.6 49.1,50.2 49.8,51.0 50.4,51.8 51.1,52.6 51.7,53.5 52.2,54.4 52.7,55.4 53.1,56.5 53.5,57.8 53.9,59.1 54.2,60.3 54.6,61.4 54.8,62.4 55.1,63.1" fill="#3f6fd0" filter="url(#ab)"/>
<polygon points="39.6,43.0 46.9,43.0 42.8,49.5" fill="#3f6fd0" filter="url(#ab)"/>
<polygon points="153.8,27.4 153.6,27.9 153.4,28.6 153.2,29.4 152.9,30.3 152.7,31.2 152.5,32.2 152.4,33.1 152.3,34.0 152.3,34.8 152.4,35.6 152.4,36.4 152.6,37.2 152.7,37.9 152.9,38.6 153.1,39.3 153.3,40.0 153.6,40.7 153.9,41.4 154.3,42.0 154.6,42.7 155.0,43.2 155.3,43.7 155.5,44.1 155.7,44.4 158.3,42.6 158.1,42.3 157.8,41.9 157.4,41.5 157.0,41.0 156.6,40.5 156.3,40.0 155.9,39.5 155.7,39.0 155.4,38.5 155.2,37.9 154.9,37.3 154.7,36.6 154.5,36.0 154.3,35.3 154.2,34.7 154.1,34.0 154.1,33.2 154.1,32.4 154.2,31.5 154.3,30.5 154.4,29.6 154.5,28.8 154.6,28.1 154.6,27.6" fill="#3f6fd0" filter="url(#ab)"/>
<polygon points="160.4,49.0 154.0,45.4 160.8,41.7" fill="#3f6fd0" filter="url(#ab)"/>
<polygon points="176.9,63.2 177.3,63.4 177.9,63.8 178.6,64.1 179.4,64.5 180.2,64.9 181.1,65.2 182.0,65.5 182.9,65.7 183.8,65.8 184.6,65.8 185.5,65.7 186.3,65.6 187.2,65.5 188.0,65.4 188.7,65.2 189.4,65.0 190.1,64.8 190.9,64.5 191.5,64.1 192.2,63.8 192.7,63.5 193.2,63.2 193.6,63.0 193.9,62.9 192.1,60.1 191.8,60.4 191.5,60.7 191.1,61.0 190.6,61.4 190.1,61.7 189.6,62.1 189.1,62.4 188.6,62.6 188.0,62.8 187.3,63.1 186.6,63.3 185.9,63.5 185.2,63.7 184.5,63.8 183.8,63.9 183.1,63.9 182.4,63.8 181.6,63.7 180.7,63.5 179.9,63.2 179.0,63.0 178.3,62.7 177.6,62.5 177.1,62.4" fill="#3f6fd0" filter="url(#ab)"/>
<polygon points="198.4,58.2 195.3,65.1 190.9,58.4" fill="#3f6fd0" filter="url(#ab)"/>
<polygon points="196.3,126.7 196.0,126.3 195.5,125.7 195.0,125.1 194.3,124.4 193.6,123.7 192.9,123.0 192.2,122.3 191.5,121.8 190.8,121.3 190.1,120.8 189.4,120.4 188.6,120.1 187.9,119.8 187.2,119.5 186.5,119.2 185.8,119.0 185.1,118.8 184.4,118.6 183.6,118.5 183.0,118.4 182.4,118.4 181.8,118.3 181.4,118.3 181.1,118.2 180.9,121.4 181.3,121.4 181.8,121.3 182.3,121.3 182.8,121.3 183.4,121.3 184.0,121.3 184.6,121.3 185.2,121.4 185.8,121.6 186.5,121.7 187.1,121.9 187.8,122.1 188.5,122.3 189.2,122.6 189.9,122.9 190.5,123.2 191.2,123.7 191.9,124.2 192.6,124.8 193.4,125.4 194.1,126.0 194.7,126.5 195.3,127.0 195.7,127.3" fill="#3f6fd0" filter="url(#ab)"/>
<polygon points="174.6,119.8 180.8,115.5 181.2,123.4" fill="#3f6fd0" filter="url(#ab)"/>
<polygon points="152.3,125.2 151.8,125.3 151.2,125.6 150.4,125.9 149.6,126.3 148.8,126.8 147.9,127.3 147.1,127.8 146.4,128.3 145.8,128.9 145.2,129.5 144.6,130.2 144.1,130.8 143.6,131.5 143.2,132.2 142.8,132.8 142.4,133.4 142.0,134.1 141.7,134.8 141.4,135.5 141.2,136.2 140.9,136.8 140.8,137.3 140.6,137.7 140.5,138.0 143.5,139.0 143.6,138.6 143.7,138.1 143.8,137.6 143.9,137.0 144.1,136.3 144.2,135.7 144.4,135.1 144.6,134.6 144.9,134.0 145.2,133.3 145.5,132.7 145.9,132.0 146.3,131.4 146.7,130.8 147.2,130.2 147.6,129.7 148.2,129.1 148.8,128.6 149.6,128.1 150.3,127.5 151.1,127.0 151.7,126.6 152.3,126.2 152.7,125.8" fill="#3f6fd0" filter="url(#ab)"/>
<polygon points="140.6,144.6 138.3,137.4 146.0,139.4" fill="#3f6fd0" filter="url(#ab)"/>
<polygon points="77.2,42.6 90.2,42.0 81.0,51.2" fill="#f58220" stroke="#e06a10" stroke-width="0.4" filter="url(#ab)"/>
<polygon points="161.6,52.2 155.6,60.8 168.6,62.8" fill="#f58220" stroke="#e06a10" stroke-width="0.4" filter="url(#ab)"/>
<polygon points="164.2,111.8 168.2,122.2 153.6,121.2" fill="#f58220" stroke="#e06a10" stroke-width="0.4" filter="url(#ab)"/>
<polygon points="66.2,92.2 78.2,97.8 71.0,105.2" fill="#f58220" stroke="#e06a10" stroke-width="0.4" filter="url(#ab)"/>
<path d="M118.6,41.8C119.6,38.8 120.6,38.8 120.8,40.6S122.2,42.4 122.6,41.8C123.6,38.8 124.6,38.8 124.8,40.6S126.2,42.4 126.6,41.8C127.6,38.8 128.6,38.8 128.8,40.6S130.2,42.4 130.6,41.8C131.6,38.8 132.6,38.8 132.8,40.6S134.2,42.4 134.6,41.8C135.6,38.8 136.6,38.8 136.8,40.6S138.2,42.4 138.6,41.8" fill="none" stroke="#5a5a5a" stroke-width="0.6"/>
<path d="M117.0,45.8C118.0,42.8 119.0,42.8 119.2,44.6S120.6,46.4 121.0,45.8C122.0,42.8 123.0,42.8 123.2,44.6S124.6,46.4 125.0,45.8C126.0,42.8 127.0,42.8 127.2,44.6S128.6,46.4 129.0,45.8C130.0,42.8 131.0,42.8 131.2,44.6S132.6,46.4 133.0,45.8C134.0,42.8 135.0,42.8 135.2,44.6S136.6,46.4 137.0,45.8" fill="none" stroke="#5a5a5a" stroke-width="0.6"/>
<path d="M204.0,60.8C205.0,57.8 205.9,57.8 206.1,59.6S207.5,61.4 207.9,60.8C208.9,57.8 209.8,57.8 210.0,59.6S211.4,61.4 211.8,60.8C212.8,57.8 213.8,57.8 213.9,59.6S215.3,61.4 215.7,60.8C216.7,57.8 217.6,57.8 217.8,59.6S219.2,61.4 219.6,60.8C220.6,57.8 221.5,57.8 221.7,59.6S223.1,61.4 223.5,60.8" fill="none" stroke="#5a5a5a" stroke-width="0.6"/>
<path d="M175.4,89.0C176.3,86.0 177.3,86.0 177.5,87.8S178.8,89.6 179.2,89.0C180.2,86.0 181.1,86.0 181.3,87.8S182.6,89.6 183.0,89.0C183.9,86.0 184.9,86.0 185.1,87.8S186.4,89.6 186.8,89.0C187.8,86.0 188.7,86.0 188.9,87.8S190.2,89.6 190.6,89.0C191.5,86.0 192.5,86.0 192.7,87.8S194.0,89.6 194.4,89.0" fill="none" stroke="#5a5a5a" stroke-width="0.6"/>
<path d="M175.0,92.8C175.9,89.8 176.9,89.8 177.1,91.6S178.4,93.4 178.8,92.8C179.8,89.8 180.7,89.8 180.9,91.6S182.2,93.4 182.6,92.8C183.5,89.8 184.5,89.8 184.7,91.6S186.0,93.4 186.4,92.8C187.3,89.8 188.3,89.8 188.5,91.6S189.8,93.4 190.2,92.8C191.1,89.8 192.1,89.8 192.3,91.6S193.6,93.4 194.0,92.8" fill="none" stroke="#5a5a5a" stroke-width="0.6"/>
<path d="M102.4,117.8C103.4,114.8 104.4,114.8 104.5,116.6S105.9,118.4 106.3,117.8C107.3,114.8 108.3,114.8 108.4,116.6S109.8,118.4 110.2,117.8C111.2,114.8 112.2,114.8 112.3,116.6S113.7,118.4 114.1,117.8C115.1,114.8 116.1,114.8 116.2,116.6S117.6,118.4 118.0,117.8C119.0,114.8 120.0,114.8 120.1,116.6S121.5,118.4 121.9,117.8" fill="none" stroke="#5a5a5a" stroke-width="0.6"/>
<path d="M100.8,121.8C101.8,118.8 102.8,118.8 102.9,120.6S104.3,122.4 104.7,121.8C105.7,118.8 106.7,118.8 106.8,120.6S108.2,122.4 108.6,121.8C109.6,118.8 110.5,118.8 110.7,120.6S112.1,122.4 112.5,121.8C113.5,118.8 114.5,118.8 114.6,120.6S116.0,122.4 116.4,121.8C117.4,118.8 118.3,118.8 118.5,120.6S119.9,122.4 120.3,121.8" fill="none" stroke="#5a5a5a" stroke-width="0.6"/>
<path d="M127.0,150.8C128.0,147.8 128.9,147.8 129.1,149.6S130.4,151.4 130.8,150.8C131.8,147.8 132.7,147.8 132.9,149.6S134.2,151.4 134.6,150.8C135.5,147.8 136.5,147.8 136.7,149.6S138.0,151.4 138.4,150.8C139.3,147.8 140.3,147.8 140.5,149.6S141.8,151.4 142.2,150.8C143.1,147.8 144.1,147.8 144.3,149.6S145.6,151.4 146.0,150.8" fill="none" stroke="#5a5a5a" stroke-width="0.6"/>
<path d="M47.2,66.9C48.2,64.0 49.2,64.0 49.3,65.8S50.7,67.6 51.1,66.9C52.1,64.0 53.1,64.0 53.2,65.8S54.6,67.6 55.0,66.9C56.0,64.0 57.0,64.0 57.1,65.8S58.5,67.6 58.9,66.9C59.9,64.0 60.9,64.0 61.0,65.8S62.4,67.6 62.8,66.9C63.8,64.0 64.8,64.0 64.9,65.8S66.3,67.6 66.7,66.9" fill="none" stroke="#7a3fa0" stroke-width="0.7"/>
<path d="M48.0,67.7C49.0,64.8 50.0,64.8 50.1,66.6S51.5,68.4 51.9,67.7C52.9,64.8 53.9,64.8 54.0,66.6S55.4,68.4 55.8,67.7C56.8,64.8 57.8,64.8 57.9,66.6S59.3,68.4 59.7,67.7C60.7,64.8 61.7,64.8 61.8,66.6S63.2,68.4 63.6,67.7C64.6,64.8 65.5,64.8 65.7,66.6S67.1,68.4 67.5,67.7" fill="none" stroke="#e0508c" stroke-width="0.6"/>
<path d="M47.2,70.7C48.2,67.8 49.2,67.8 49.3,69.6S50.7,71.4 51.1,70.7C52.1,67.8 53.1,67.8 53.2,69.6S54.6,71.4 55.0,70.7C56.0,67.8 57.0,67.8 57.1,69.6S58.5,71.4 58.9,70.7C59.9,67.8 60.9,67.8 61.0,69.6S62.4,71.4 62.8,70.7C63.8,67.8 64.8,67.8 64.9,69.6S66.3,71.4 66.7,70.7" fill="none" stroke="#7a3fa0" stroke-width="0.7"/>
<path d="M48.0,71.5C49.0,68.6 50.0,68.6 50.1,70.4S51.5,72.2 51.9,71.5C52.9,68.6 53.9,68.6 54.0,70.4S55.4,72.2 55.8,71.5C56.8,68.6 57.8,68.6 57.9,70.4S59.3,72.2 59.7,71.5C60.7,68.6 61.7,68.6 61.8,70.4S63.2,72.2 63.6,71.5C64.6,68.6 65.5,68.6 65.7,70.4S67.1,72.2 67.5,71.5" fill="none" stroke="#e0508c" stroke-width="0.6"/>
<g filter="url(#ab)"><path d="M28,30.5c2-4 4-4 5.5-0.5s3.5 3.5 5,-1 3,-4 4.5,0 1.5,4 3,1" fill="none" stroke="#d8306a" stroke-width="1.1"/><path d="M28.5,27.5c2,4 4,4 5.5,0.5s3.5,-3.5 5,1 3,4 4.5,0" fill="none" stroke="#6a4ab0" stroke-width="1.0"/><path d="M30,26l1,6M33.5,27.5l0.5,4M37,26.5l0.6,5.5M40.5,26l0.8,6M43.5,26.5l0.5,5" stroke="#3a9ad0" stroke-width="0.6"/></g>
<polygon points="170.0,17.4 168.9,18.5 169.5,20.0 168.1,20.6 168.2,22.2 166.6,22.3 166.2,23.9 164.7,23.5 163.8,24.8 162.5,23.8 161.2,24.8 160.3,23.5 158.8,23.9 158.4,22.3 156.8,22.2 156.9,20.6 155.5,20.0 156.1,18.5 155.0,17.4 156.1,16.3 155.5,14.8 156.9,14.2 156.8,12.6 158.4,12.5 158.8,10.9 160.3,11.3 161.2,10.0 162.5,10.9 163.8,10.0 164.7,11.3 166.2,10.9 166.6,12.5 168.2,12.6 168.1,14.2 169.5,14.8 168.9,16.3" fill="#4a4846" filter="url(#ab)"/>
<circle cx="162.5" cy="17.4" r="3.75" fill="#7c6222" filter="url(#ab)"/>
<circle cx="162.5" cy="17.4" r="2.10" fill="#c9a035" filter="url(#ab)"/>
<polygon points="179.7,21.3 178.8,22.2 179.4,23.3 178.2,23.8 178.3,25.0 177.1,25.1 176.8,26.3 175.6,26.0 174.9,27.0 173.9,26.3 172.9,27.0 172.2,26.0 171.0,26.3 170.7,25.1 169.5,25.0 169.6,23.8 168.4,23.3 169.0,22.2 168.1,21.3 169.0,20.4 168.4,19.3 169.6,18.8 169.5,17.6 170.7,17.5 171.0,16.3 172.2,16.6 172.9,15.6 173.9,16.3 174.9,15.6 175.6,16.6 176.8,16.3 177.1,17.5 178.3,17.6 178.2,18.8 179.4,19.3 178.8,20.4" fill="#4a4846" filter="url(#ab)"/>
<circle cx="173.9" cy="21.3" r="2.90" fill="#7c6222" filter="url(#ab)"/>
<circle cx="173.9" cy="21.3" r="1.62" fill="#c9a035" filter="url(#ab)"/>
<polygon points="210.4,136.0 209.3,137.3 209.7,139.0 208.1,139.8 207.8,141.5 206.0,141.4 205.0,142.8 203.4,142.0 201.8,142.8 200.8,141.4 199.0,141.5 198.7,139.8 197.1,139.0 197.5,137.3 196.4,136.0 197.5,134.7 197.1,133.0 198.7,132.2 199.0,130.5 200.8,130.6 201.8,129.2 203.4,130.0 205.0,129.2 206.0,130.6 207.8,130.5 208.1,132.2 209.7,133.0 209.3,134.7" fill="#9c1616" filter="url(#ab)"/>
<circle cx="203.4" cy="136.0" r="3.85" fill="#d8604c" filter="url(#ab)"/>
<circle cx="203.4" cy="136.0" r="2.24" fill="#f09848" filter="url(#ab)"/>
<polygon points="218.5,136.8 217.7,137.9 217.8,139.2 216.6,139.8 216.0,141.0 214.7,140.9 213.6,141.7 212.5,140.9 211.2,141.0 210.6,139.8 209.4,139.2 209.5,137.9 208.7,136.8 209.5,135.7 209.4,134.4 210.6,133.8 211.2,132.6 212.5,132.7 213.6,131.9 214.7,132.7 216.0,132.6 216.6,133.8 217.8,134.4 217.7,135.7" fill="#9c1616" filter="url(#ab)"/>
<circle cx="213.6" cy="136.8" r="2.70" fill="#d8604c" filter="url(#ab)"/>
<circle cx="213.6" cy="136.8" r="1.57" fill="#f09848" filter="url(#ab)"/>
<text class="f-serif" x="14.20" y="40.20" font-size="5.7" font-weight="bold" text-anchor="start" fill="#1a1a1a" letter-spacing="0.05">Sequencing</text>
<text class="f-serif" x="72.60" y="25.00" font-size="5.7" font-weight="bold" text-anchor="start" fill="#1a1a1a" letter-spacing="0.05">Denature</text>
<text class="f-serif" x="72.60" y="31.20" font-size="5.7" font-weight="bold" text-anchor="start" fill="#1a1a1a" letter-spacing="0.05">&amp; produce</text>
<text class="f-serif" x="72.60" y="37.60" font-size="5.7" font-weight="bold" text-anchor="start" fill="#1a1a1a" letter-spacing="0.05">ssDNA</text>
<text class="f-serif" x="128.60" y="28.60" font-size="5.7" font-weight="bold" text-anchor="middle" fill="#1a1a1a" letter-spacing="0.05">ssDNA</text>
<text class="f-serif" x="128.60" y="34.90" font-size="5.7" font-weight="bold" text-anchor="middle" fill="#1a1a1a" letter-spacing="0.05">library</text>
<text class="f-serif" x="175.80" y="8.00" font-size="5.7" font-weight="bold" text-anchor="middle" fill="#1a1a1a" letter-spacing="0.05">Mhr-infected</text>
<text class="f-serif" x="175.80" y="14.00" font-size="5.7" font-weight="bold" text-anchor="middle" fill="#1a1a1a" letter-spacing="0.05">cells</text>
<text class="f-serif" x="162.60" y="45.00" font-size="5.7" font-weight="bold" text-anchor="start" fill="#1a1a1a" letter-spacing="0.05">Positive</text>
<text class="f-serif" x="162.60" y="51.00" font-size="5.7" font-weight="bold" text-anchor="start" fill="#1a1a1a" letter-spacing="0.05">selection</text>
<text class="f-serif" x="204.60" y="48.60" font-size="5.7" font-weight="bold" text-anchor="start" fill="#1a1a1a" letter-spacing="0.05">Remove</text>
<text class="f-serif" x="203.00" y="54.60" font-size="5.7" font-weight="bold" text-anchor="start" fill="#1a1a1a" letter-spacing="0.05">unbound ssDNA</text>
<text class="f-serif" x="198.80" y="88.60" font-size="5.7" font-weight="bold" text-anchor="start" fill="#1a1a1a" letter-spacing="0.05">Retain</text>
<text class="f-serif" x="197.20" y="95.00" font-size="5.7" font-weight="bold" text-anchor="start" fill="#1a1a1a" letter-spacing="0.05">bound ssDNA</text>
<text class="f-serif" x="156.00" y="130.80" font-size="5.7" font-weight="bold" text-anchor="start" fill="#1a1a1a" letter-spacing="0.05">Negative</text>
<text class="f-serif" x="156.00" y="137.20" font-size="5.7" font-weight="bold" text-anchor="start" fill="#1a1a1a" letter-spacing="0.05">selection</text>
<text class="f-serif" x="198.60" y="151.00" font-size="5.7" font-weight="bold" text-anchor="start" fill="#1a1a1a" letter-spacing="0.05">Mhr-uninfected</text>
<text class="f-serif" x="198.60" y="157.00" font-size="5.7" font-weight="bold" text-anchor="start" fill="#1a1a1a" letter-spacing="0.05">cells</text>
<text class="f-serif" x="125.20" y="158.00" font-size="5.7" font-weight="bold" text-anchor="start" fill="#1a1a1a" letter-spacing="0.05">Remove</text>
<text class="f-serif" x="124.00" y="164.00" font-size="5.7" font-weight="bold" text-anchor="start" fill="#1a1a1a" letter-spacing="0.05">bound ssDNA</text>
<text class="f-serif" x="89.60" y="124.30" font-size="5.7" font-weight="bold" text-anchor="middle" fill="#1a1a1a" letter-spacing="0.05">Retain</text>
<text class="f-serif" x="100.00" y="130.60" font-size="5.7" font-weight="bold" text-anchor="middle" fill="#1a1a1a" letter-spacing="0.05">unbound ssDNA</text>
<text class="f-serif" x="53.00" y="106.00" font-size="5.7" font-weight="bold" text-anchor="middle" fill="#1a1a1a" letter-spacing="0.05">PCR</text>
<text class="f-serif" x="60.20" y="112.00" font-size="5.7" font-weight="bold" text-anchor="middle" fill="#1a1a1a" letter-spacing="0.05">amplification</text>
<text class="f-serif" x="30.00" y="73.60" font-size="5.7" font-weight="bold" text-anchor="middle" fill="#1a1a1a" letter-spacing="0.05">Evolved</text>
<text class="f-serif" x="36.20" y="79.60" font-size="5.7" font-weight="bold" text-anchor="middle" fill="#1a1a1a" letter-spacing="0.05">dsDNA library</text>
<text class="f-serif" x="121.00" y="84.60" font-size="10.9" font-weight="normal" text-anchor="middle" fill="#1a1a1a">Cell-SELEX</text>
</svg>
</body></html>
